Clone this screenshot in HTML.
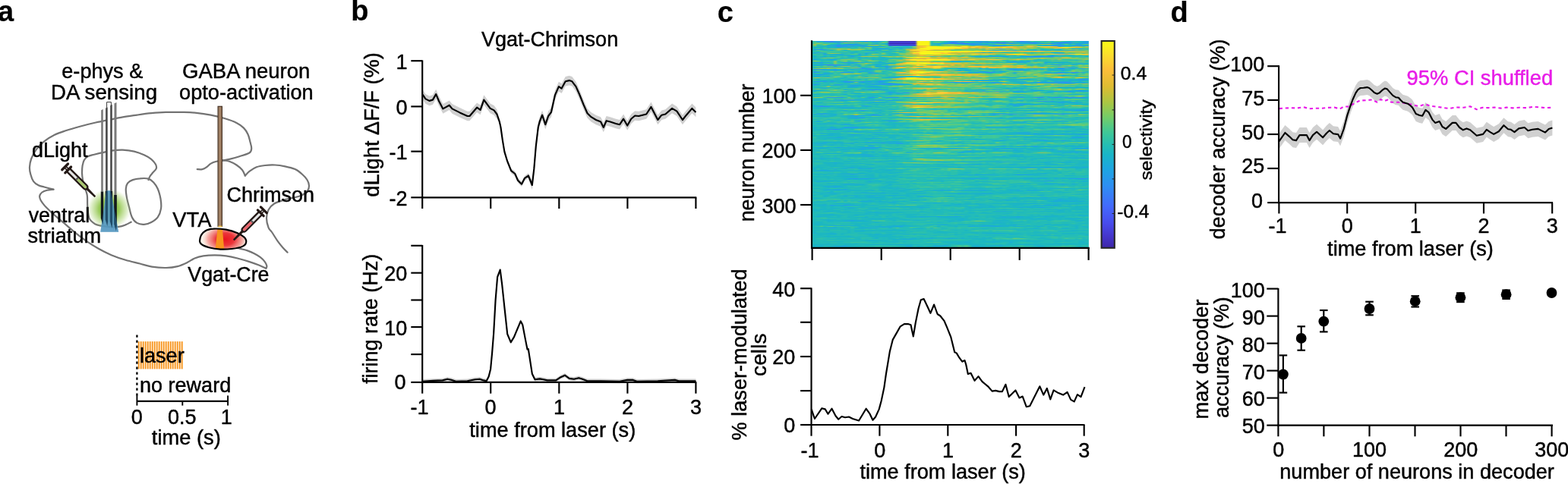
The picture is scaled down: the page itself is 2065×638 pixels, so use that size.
<!DOCTYPE html>
<html lang="en">
<head>
<meta charset="utf-8">
<title>Figure</title>
<style>
html,body{margin:0;padding:0;background:#fff;overflow:hidden}
svg{display:block}
text{font-family:"Liberation Sans", Arial, Helvetica, sans-serif;fill:#000;stroke:#000;stroke-width:.45px;stroke-linejoin:round}
</style>
</head>
<body>
<svg width="2065" height="638" viewBox="0 0 2065 638">
<rect width="2065" height="638" fill="#fff"/>
<g id="panel_a">
<defs>
<radialGradient id="gglow" cx="0.5" cy="0.5" r="0.5"><stop offset="0" stop-color="#7dbb2f" stop-opacity="1"/><stop offset="0.45" stop-color="#85c03a" stop-opacity="0.85"/><stop offset="0.8" stop-color="#9ccc5a" stop-opacity="0.35"/><stop offset="1" stop-color="#b5d97e" stop-opacity="0"/></radialGradient>
<radialGradient id="rglow" cx="0.5" cy="0.5" r="0.5"><stop offset="0" stop-color="#e8151f" stop-opacity="1"/><stop offset="0.4" stop-color="#ea2a30" stop-opacity="0.95"/><stop offset="0.75" stop-color="#ee5a55" stop-opacity="0.5"/><stop offset="1" stop-color="#f4a090" stop-opacity="0"/></radialGradient>
<clipPath id="vtaclip"><path id="vtap" d="M263.0 317.6C263.4 311.5 266.0 307.2 269.6 305.0C273.0 302.6 277.0 301.7 280.9 301.6C286.5 301.3 292.3 301.8 297.8 302.6C303.0 303.5 308.2 305.0 312.8 307.3C317.6 309.6 323.6 312.6 324.2 317.0C324.7 320.2 323.2 322.8 320.3 324.4C316.0 326.8 310.5 327.5 305.3 328.0C300.3 328.6 295.3 328.8 290.3 328.6C285.2 328.3 280.0 327.6 275.2 326.2C271.0 325.0 265.5 323.0 264.0 320.6C263.3 319.6 263.0 318.6 263.0 317.6Z"/></clipPath>
</defs>
<path d="M259.7 223.1C260.8 223.1 264.2 223.6 266.3 223.1C268.4 222.6 270.1 221.6 272.0 220.3C273.9 219.1 275.4 216.8 277.6 215.6C279.8 214.3 282.6 213.4 285.1 212.8C287.6 212.2 289.9 212.3 292.7 211.8C295.5 211.3 298.4 210.8 302.1 209.9C305.9 209.0 310.8 207.6 315.2 206.2C319.6 204.8 325.7 203.2 328.4 201.5C331.1 199.8 331.0 198.3 331.2 195.8C331.4 193.3 330.1 189.5 329.3 186.4C328.5 183.3 327.9 180.0 326.5 177.0C325.1 174.0 323.4 171.1 320.9 168.6C318.4 166.1 315.6 164.1 311.5 162.0C307.4 159.9 302.0 158.0 296.4 156.3C290.8 154.6 283.9 152.8 277.6 151.6C271.3 150.3 265.1 149.4 258.8 148.8C252.5 148.2 246.8 148.1 240.0 147.9C233.2 147.8 224.8 147.7 218.0 147.9C211.2 148.1 205.5 148.6 199.2 149.2C192.9 149.8 186.7 150.7 180.4 151.6C174.1 152.5 167.9 153.3 161.6 154.4C155.3 155.5 149.1 156.9 142.8 158.2C136.5 159.5 130.3 160.6 124.0 162.0C117.7 163.4 111.5 165.0 105.2 166.7C98.9 168.4 92.0 170.4 86.4 172.3C80.8 174.2 76.1 175.7 71.4 178.0C66.7 180.3 62.1 183.3 58.2 186.4C54.3 189.5 50.7 193.0 47.9 196.8C45.1 200.6 42.8 205.1 41.3 209.0C39.8 212.9 39.2 216.9 39.0 220.3C38.8 223.8 39.4 226.6 40.3 229.7C41.1 232.8 42.4 236.7 44.1 239.1C45.8 241.5 48.4 243.1 50.7 244.3C53.1 245.5 55.7 245.8 58.2 246.5C60.7 247.2 63.7 248.1 65.7 248.6C67.7 249.1 69.6 249.5 70.4 249.7" stroke="#737373" stroke-width="2.2" fill="none" stroke-linecap="round" stroke-linejoin="round" />
<path d="M70.4 249.7C69.0 249.9 64.5 250.1 62.0 250.7C59.5 251.3 57.0 252.2 55.4 253.5C53.8 254.8 52.5 256.5 52.2 258.2C51.9 259.9 52.5 261.8 53.5 263.8C54.5 265.8 56.2 268.0 58.2 270.4C60.2 272.8 62.9 275.3 65.7 278.0C68.5 280.7 71.6 283.4 75.1 286.4C78.5 289.4 82.3 292.4 86.4 295.8C90.5 299.2 94.9 303.3 99.6 307.1C104.3 310.9 109.6 314.9 114.6 318.4C119.6 321.8 124.4 324.8 129.7 327.8C135.0 330.8 140.6 333.7 146.6 336.2C152.6 338.7 159.1 340.9 165.4 342.8C171.7 344.7 178.4 346.0 184.2 347.5C190.0 349.0 194.2 350.7 200.0 351.6C205.8 352.5 213.2 353.1 218.8 353.0C224.4 352.9 229.1 352.3 233.8 351.1C238.5 349.9 243.2 347.6 247.0 345.8C250.8 344.0 252.9 341.9 256.4 340.5C259.8 339.1 263.3 338.1 267.7 337.4C272.1 336.7 277.7 336.4 282.7 336.4C287.7 336.4 292.8 336.7 297.8 337.4C302.8 338.1 307.8 339.2 312.8 340.5C317.8 341.8 323.2 343.4 327.9 344.9C332.6 346.4 337.2 348.1 341.0 349.6C344.8 351.1 348.8 353.0 350.4 353.7" stroke="#737373" stroke-width="2.2" fill="none" stroke-linecap="round" stroke-linejoin="round" />
<path d="M350.4 353.7C350.6 353.2 351.7 352.0 351.4 350.5C351.1 349.0 350.0 346.8 348.6 344.9C347.2 343.0 345.1 340.9 342.9 339.2C340.7 337.5 338.2 336.0 335.4 334.5C332.6 333.0 329.1 331.5 326.0 330.4C322.9 329.3 318.8 328.5 316.6 327.9C314.4 327.3 313.4 327.1 312.8 327.0" stroke="#737373" stroke-width="2.2" fill="none" stroke-linecap="round" stroke-linejoin="round" />
<path d="M293.6 211.2C295.0 211.5 299.1 211.8 302.1 212.8C305.1 213.9 308.7 215.6 311.5 217.5C314.3 219.4 317.1 221.7 319.0 224.0C320.9 226.3 322.2 230.3 322.8 231.6" stroke="#737373" stroke-width="2.2" fill="none" stroke-linecap="round" stroke-linejoin="round" />
<path d="M322.8 231.6C323.7 230.7 325.9 227.8 328.4 225.9C330.9 224.0 334.4 221.6 337.8 220.3C341.2 219.0 345.0 218.5 349.1 218.0C353.2 217.5 357.8 217.3 362.2 217.5C366.6 217.7 371.0 218.4 375.4 219.3C379.8 220.2 384.8 221.4 388.6 223.1C392.4 224.8 395.3 227.3 398.0 229.7C400.7 232.0 403.1 234.7 404.6 237.2C406.1 239.7 406.9 242.3 407.0 244.7C407.1 247.1 406.8 249.3 405.0 251.5C403.2 253.7 401.0 256.0 396.2 257.9C391.4 259.8 382.0 261.1 376.1 262.9C370.2 264.7 364.9 266.2 361.1 268.5C357.4 270.8 355.3 273.3 353.6 276.5C351.9 279.7 351.0 283.7 351.0 287.6C351.0 291.5 352.4 297.0 353.6 300.1C354.8 303.2 356.0 303.1 358.0 306.0C360.0 308.9 363.0 314.1 365.5 317.6C368.0 321.1 370.8 324.5 373.0 327.0C375.2 329.5 377.7 331.8 378.6 332.7" stroke="#737373" stroke-width="2.2" fill="none" stroke-linecap="round" stroke-linejoin="round" />
<path d="M195.5 237.2C195.8 236.4 196.4 234.0 197.4 232.5C198.3 230.9 199.7 229.5 201.1 227.8C202.5 226.1 205.2 224.0 205.8 222.1C206.4 220.3 206.0 218.5 204.9 216.5C203.8 214.5 201.7 212.0 199.2 209.9C196.7 207.9 193.6 206.0 189.8 204.3C186.1 202.6 181.4 200.7 176.7 199.6C172.0 198.5 166.6 197.9 161.6 197.7C156.6 197.5 151.0 198.1 146.6 198.6C142.2 199.2 139.1 200.2 135.3 201.1C131.5 201.9 127.3 202.9 124.0 203.7C120.7 204.6 117.8 205.0 115.6 206.2C113.4 207.3 112.0 208.8 110.9 210.9C109.7 212.9 109.1 215.6 108.6 218.4C108.1 221.2 108.0 224.6 108.0 227.8C108.1 230.9 108.5 234.4 109.0 237.2C109.4 240.0 109.9 241.3 110.9 244.7C111.8 248.1 114.1 252.9 114.8 257.6C115.5 262.2 114.8 267.6 115.3 272.6C115.8 277.6 115.9 283.9 117.5 287.6C119.2 291.4 122.4 293.5 125.1 295.2C127.8 296.8 130.5 297.0 133.8 297.7C137.2 298.3 141.4 299.0 145.1 299.2C148.9 299.4 153.1 299.4 156.4 298.9C159.7 298.5 162.5 297.5 165.2 296.4C167.9 295.4 171.4 293.3 172.7 292.7" stroke="#737373" stroke-width="2.2" fill="none" stroke-linecap="round" stroke-linejoin="round" />
<path d="M195.5 235.6C192.5 234.8 187.6 235.0 184.2 235.3C180.7 235.5 177.5 236.1 174.8 237.1C172.1 238.1 169.7 239.3 168.2 241.3C166.7 243.2 166.0 245.7 165.8 248.8C165.5 251.9 166.2 256.0 166.9 260.1C167.6 264.2 168.9 268.9 170.1 273.2C171.2 277.6 172.1 283.0 173.9 286.4C175.6 289.9 177.8 292.4 180.4 293.9C183.1 295.5 186.7 296.0 189.8 295.8C193.0 295.7 196.3 294.6 199.2 293.0C202.2 291.4 205.6 289.4 207.7 286.4C209.8 283.4 211.4 279.2 212.0 275.1C212.7 271.1 212.2 266.4 211.5 262.0C210.7 257.6 209.3 252.4 207.7 248.8C206.1 245.2 204.1 242.5 202.1 240.3C200.0 238.1 198.5 236.5 195.5 235.6Z" stroke="#737373" stroke-width="2.2" fill="none" stroke-linecap="round" stroke-linejoin="round" />
<ellipse cx="143.6" cy="275.4" rx="29" ry="27" fill="url(#gglow)"/>
<path d="M140.6 251.2L140.6 134.6L146.4 134.6L146.4 251.2" fill="#fff" stroke="#222" stroke-width="0.9"/>
<path d="M140.2 251.2L146.0 251.2L156.2 305.8L132.3 305.8Z" fill="#8fc4e2" fill-opacity="0.8"/>
<path d="M133.2 145.3L135.8 144.0L135.8 252.5L133.2 252.5Z" fill="#7a7a7a"/>
<path d="M132.85 252.5L136.15 252.5L136.15 290.4L135.4 296.4L132.85 287.4Z" fill="#14191c"/>
<path d="M139.1 142.4L141.7 141.4L141.7 252.0L139.1 252.0Z" fill="#4a4a4a"/>
<path d="M138.75 252.0L142.05 252.0L142.05 292.3L141.3 298.3L138.75 289.3Z" fill="#14191c"/>
<path d="M145.2 138.9L147.8 137.9L147.8 252.0L145.2 252.0Z" fill="#4a4a4a"/>
<path d="M144.85 252.0L148.15 252.0L148.15 294.8L147.4 300.8L144.85 291.8Z" fill="#14191c"/>
<path d="M150.5 136.3L153.5 135.0L153.5 257.0L150.5 257.0Z" fill="#7a7a7a"/>
<path d="M150.15 257.0L153.85 257.0L153.85 298.6L152.9 304.6L150.15 295.6Z" fill="#14191c"/>
<path d="M140.2 251.2L146.0 251.2L156.2 305.8L132.3 305.8Z" fill="#2b78aa" fill-opacity="0.55"/>
<path d="M263.0 317.6C263.4 311.5 266.0 307.2 269.6 305.0C273.0 302.6 277.0 301.7 280.9 301.6C286.5 301.3 292.3 301.8 297.8 302.6C303.0 303.5 308.2 305.0 312.8 307.3C317.6 309.6 323.6 312.6 324.2 317.0C324.7 320.2 323.2 322.8 320.3 324.4C316.0 326.8 310.5 327.5 305.3 328.0C300.3 328.6 295.3 328.8 290.3 328.6C285.2 328.3 280.0 327.6 275.2 326.2C271.0 325.0 265.5 323.0 264.0 320.6C263.3 319.6 263.0 318.6 263.0 317.6Z" fill="#fbf3ea"/>
<g clip-path="url(#vtaclip)"><ellipse cx="296.5" cy="315.5" rx="30" ry="20" fill="url(#rglow)"/>
<path d="M286.9 297.9L292.6 297.9L295.2 329L283.6 329Z" fill="#f7931e"/></g>
<path d="M263.0 317.6C263.4 311.5 266.0 307.2 269.6 305.0C273.0 302.6 277.0 301.7 280.9 301.6C286.5 301.3 292.3 301.8 297.8 302.6C303.0 303.5 308.2 305.0 312.8 307.3C317.6 309.6 323.6 312.6 324.2 317.0C324.7 320.2 323.2 322.8 320.3 324.4C316.0 326.8 310.5 327.5 305.3 328.0C300.3 328.6 295.3 328.8 290.3 328.6C285.2 328.3 280.0 327.6 275.2 326.2C271.0 325.0 265.5 323.0 264.0 320.6C263.3 319.6 263.0 318.6 263.0 317.6Z" fill="none" stroke="#000" stroke-width="2.2"/>
<rect x="287.1" y="140.3" width="5.3" height="158.2" fill="#a08064" stroke="#453224" stroke-width="1.2"/>
<rect x="287.4" y="297.6" width="5.0" height="1.6" fill="#f2c94c"/>
<g transform="translate(89.7 223.9) rotate(44.8)" stroke-linejoin="round" stroke-linecap="round">
<path d="M33.5 -1.2L49.7 -0.6L49.7 0.7L33.5 1.2Z" fill="#231815" stroke="#231815" stroke-width="1.1"/>
<path d="M-5.4 0L0 0" stroke="#231815" stroke-width="4.2" fill="none" stroke-linecap="butt"/>
<path d="M-5.4 0L0 0" stroke="#dcdcdc" stroke-width="1.2" fill="none" stroke-linecap="butt"/>
<path d="M0 -2.8L31.5 -2.8Q34.9 -2.8 34.9 0Q34.9 2.8 31.5 2.8L0 2.8Z" fill="#e4e4e4" stroke="#231815" stroke-width="2.4"/>
<path d="M17.3 -1.7L31.5 -1.7Q33.7 -1.7 33.7 0Q33.7 1.7 31.5 1.7L17.3 1.7Z" fill="#a6c46c"/>
<rect x="15.5" y="-1.8" width="2.2" height="3.6" fill="#5e5e5e"/>
<path d="M0 -5.5L0 5.5" stroke="#231815" stroke-width="3.3" fill="none"/>
<path d="M-5.7 -5.5L-5.7 5.5" stroke="#231815" stroke-width="3.3" fill="none"/>
</g>
<g transform="translate(343.3 280.8) rotate(134.9)" stroke-linejoin="round" stroke-linecap="round">
<path d="M32.3 -1.2L49.8 -0.6L49.8 0.7L32.3 1.2Z" fill="#231815" stroke="#231815" stroke-width="1.1"/>
<path d="M-5.4 0L0 0" stroke="#231815" stroke-width="4.2" fill="none" stroke-linecap="butt"/>
<path d="M-5.4 0L0 0" stroke="#dcdcdc" stroke-width="1.2" fill="none" stroke-linecap="butt"/>
<path d="M0 -2.8L30.3 -2.8Q33.7 -2.8 33.7 0Q33.7 2.8 30.3 2.8L0 2.8Z" fill="#e4e4e4" stroke="#231815" stroke-width="2.4"/>
<path d="M16.7 -1.7L30.3 -1.7Q32.5 -1.7 32.5 0Q32.5 1.7 30.3 1.7L16.7 1.7Z" fill="#e8646c"/>
<rect x="14.9" y="-1.8" width="2.2" height="3.6" fill="#5e5e5e"/>
<path d="M0 -5.5L0 5.5" stroke="#231815" stroke-width="3.3" fill="none"/>
<path d="M-5.7 -5.5L-5.7 5.5" stroke="#231815" stroke-width="3.3" fill="none"/>
</g>
<text x="81.3" y="103.0" font-size="27" textLength="107.0" lengthAdjust="spacingAndGlyphs">e-phys &amp;</text>
<text x="66.9" y="130.5" font-size="27" textLength="140.2" lengthAdjust="spacingAndGlyphs">DA sensing</text>
<text x="240.1" y="103.0" font-size="27" textLength="168.2" lengthAdjust="spacingAndGlyphs">GABA neuron</text>
<text x="236.1" y="130.5" font-size="27" textLength="176.6" lengthAdjust="spacingAndGlyphs">opto-activation</text>
<text x="42.1" y="206.8" font-size="27" textLength="73.4" lengthAdjust="spacingAndGlyphs">dLight</text>
<text x="37.7" y="292.6" font-size="27" textLength="80.5" lengthAdjust="spacingAndGlyphs">ventral</text>
<text x="36.5" y="319.8" font-size="27" textLength="96.7" lengthAdjust="spacingAndGlyphs">striatum</text>
<text x="227.3" y="299.2" font-size="27" textLength="51.1" lengthAdjust="spacingAndGlyphs">VTA</text>
<text x="298.4" y="266.0" font-size="27" textLength="115.6" lengthAdjust="spacingAndGlyphs">Chrimson</text>
<text x="247.3" y="371.4" font-size="27" textLength="107.2" lengthAdjust="spacingAndGlyphs">Vgat-Cre</text>
<rect x="181.2" y="450.1" width="3.0" height="36.3" fill="#fff1dc"/>
<rect x="181.85" y="450.1" width="1.7" height="36.3" fill="#f7941d"/>
<rect x="184.2" y="450.1" width="3.0" height="36.3" fill="#fff1dc"/>
<rect x="184.85" y="450.1" width="1.7" height="36.3" fill="#f7941d"/>
<rect x="187.2" y="450.1" width="3.0" height="36.3" fill="#fff1dc"/>
<rect x="187.85" y="450.1" width="1.7" height="36.3" fill="#f7941d"/>
<rect x="190.2" y="450.1" width="3.0" height="36.3" fill="#fff1dc"/>
<rect x="190.85" y="450.1" width="1.7" height="36.3" fill="#f7941d"/>
<rect x="193.2" y="450.1" width="3.0" height="36.3" fill="#fff1dc"/>
<rect x="193.85" y="450.1" width="1.7" height="36.3" fill="#f7941d"/>
<rect x="196.2" y="450.1" width="3.0" height="36.3" fill="#fff1dc"/>
<rect x="196.85" y="450.1" width="1.7" height="36.3" fill="#f7941d"/>
<rect x="199.2" y="450.1" width="3.0" height="36.3" fill="#fff1dc"/>
<rect x="199.85" y="450.1" width="1.7" height="36.3" fill="#f7941d"/>
<rect x="202.2" y="450.1" width="3.0" height="36.3" fill="#fff1dc"/>
<rect x="202.85" y="450.1" width="1.7" height="36.3" fill="#f7941d"/>
<rect x="205.2" y="450.1" width="3.0" height="36.3" fill="#fff1dc"/>
<rect x="205.85" y="450.1" width="1.7" height="36.3" fill="#f7941d"/>
<rect x="208.2" y="450.1" width="3.0" height="36.3" fill="#fff1dc"/>
<rect x="208.85" y="450.1" width="1.7" height="36.3" fill="#f7941d"/>
<rect x="211.2" y="450.1" width="3.0" height="36.3" fill="#fff1dc"/>
<rect x="211.85" y="450.1" width="1.7" height="36.3" fill="#f7941d"/>
<rect x="214.2" y="450.1" width="3.0" height="36.3" fill="#fff1dc"/>
<rect x="214.85" y="450.1" width="1.7" height="36.3" fill="#f7941d"/>
<rect x="217.2" y="450.1" width="3.0" height="36.3" fill="#fff1dc"/>
<rect x="217.85" y="450.1" width="1.7" height="36.3" fill="#f7941d"/>
<rect x="220.2" y="450.1" width="3.0" height="36.3" fill="#fff1dc"/>
<rect x="220.85" y="450.1" width="1.7" height="36.3" fill="#f7941d"/>
<rect x="223.2" y="450.1" width="3.0" height="36.3" fill="#fff1dc"/>
<rect x="223.85" y="450.1" width="1.7" height="36.3" fill="#f7941d"/>
<rect x="226.2" y="450.1" width="3.0" height="36.3" fill="#fff1dc"/>
<rect x="226.85" y="450.1" width="1.7" height="36.3" fill="#f7941d"/>
<rect x="229.2" y="450.1" width="3.0" height="36.3" fill="#fff1dc"/>
<rect x="229.85" y="450.1" width="1.7" height="36.3" fill="#f7941d"/>
<rect x="232.2" y="450.1" width="3.0" height="36.3" fill="#fff1dc"/>
<rect x="232.85" y="450.1" width="1.7" height="36.3" fill="#f7941d"/>
<rect x="235.2" y="450.1" width="3.0" height="36.3" fill="#fff1dc"/>
<rect x="235.85" y="450.1" width="1.7" height="36.3" fill="#f7941d"/>
<rect x="238.2" y="450.1" width="3.0" height="36.3" fill="#fff1dc"/>
<rect x="238.85" y="450.1" width="1.7" height="36.3" fill="#f7941d"/>
<path d="M180.4 441.6L180.4 522.0" stroke="#000" stroke-width="2.3" fill="none" stroke-dasharray="3.2 3.8"/>
<path d="M180.4 528.9L300.1 528.9" stroke="#000" stroke-width="2.1" fill="none" />
<path d="M180.4 521.4L180.4 534.6" stroke="#000" stroke-width="1.9" fill="none" />
<path d="M300.1 521.4L300.1 534.6" stroke="#000" stroke-width="1.9" fill="none" />
<path d="M240.3 528.9L240.3 534.6" stroke="#000" stroke-width="1.9" fill="none" />
<text x="184.0" y="478.1" font-size="27" textLength="58.7" lengthAdjust="spacingAndGlyphs">laser</text>
<text x="184.0" y="517.1" font-size="27" textLength="120.2" lengthAdjust="spacingAndGlyphs">no reward</text>
<text x="180.3" y="559.0" font-size="27" text-anchor="middle">0</text>
<text x="239.8" y="559.0" font-size="27" text-anchor="middle">0.5</text>
<text x="298.2" y="559.0" font-size="27" text-anchor="middle">1</text>
<text x="199.8" y="585.5" font-size="27" textLength="91.0" lengthAdjust="spacingAndGlyphs">time (s)</text>
<text x="-2.9" y="27.9" font-size="38" font-weight="bold" style="stroke-width:.2px">a</text>
</g>
<g id="panel_b">
<path d="M556.6 118.3L560.4 124.1L565.4 126.6L569.9 125.3L574.2 117.8L577.9 126.6L583.4 137.1L591.7 132.4L595.5 137.1L605.5 142.1L615.5 146.7L618.5 146.7L628.1 135.4L632.6 138.6L637.3 125.3L645.6 136.6L650.6 139.1L654.4 144.2L657.7 156.8L659.4 164.3L661.9 181.9L664.4 196.9L668.2 209.5L673.2 222.0L678.2 225.8L682.0 234.5L687.0 239.5L690.8 232.0L695.8 228.3L700.8 237.7L703.3 216.4L705.8 186.3L708.8 161.2L710.8 153.7L714.1 145.4L718.3 157.9L722.1 146.7L725.9 141.6L730.9 119.1L735.9 107.8L739.6 110.3L744.7 101.0L749.7 99.8L753.4 101.0L758.5 107.8L763.5 119.1L768.5 131.6L773.5 142.9L778.5 147.9L784.8 151.7L791.1 154.2L794.8 161.7L798.6 152.9L803.6 154.2L811.1 156.7L816.1 157.9L821.1 150.4L826.2 159.2L831.2 150.4L836.2 146.2L841.2 146.7L851.2 144.2L857.5 134.6L866.3 151.7L871.3 145.4L876.3 144.2L885.1 136.6L891.4 140.4L898.9 151.7L903.9 145.4L911.4 136.6L916.4 141.6L916.4 154.2L911.4 149.2L903.9 158.0L898.9 164.3L891.4 153.0L885.1 149.2L876.3 156.8L871.3 158.0L866.3 164.3L857.5 147.2L851.2 156.8L841.2 159.3L836.2 158.8L831.2 163.0L826.2 171.8L821.1 163.0L816.1 170.5L811.1 169.3L803.6 166.8L798.6 165.5L794.8 174.3L791.1 166.8L784.8 164.3L778.5 160.5L773.5 155.5L768.5 144.2L763.5 131.7L758.5 120.4L753.4 113.6L749.7 112.4L744.7 113.6L739.6 122.9L735.9 120.4L730.9 131.7L725.9 154.2L722.1 159.3L718.3 170.5L714.1 158.0L710.8 166.3L708.8 173.8L705.8 198.9L703.3 229.0L700.8 250.3L695.8 234.7L690.8 238.4L687.0 245.9L682.0 240.9L678.2 232.2L673.2 228.4L668.2 215.9L664.4 203.3L661.9 188.3L659.4 170.7L657.7 163.2L654.4 156.8L650.6 151.7L645.6 149.2L637.3 137.9L632.6 151.2L628.1 148.0L618.5 159.3L615.5 159.3L605.5 154.7L595.5 149.7L591.7 145.0L583.4 149.7L577.9 139.2L574.2 130.4L569.9 137.9L565.4 139.2L560.4 136.7L556.6 130.9Z" stroke="none" stroke-width="0" fill="#d0d0d0" stroke-linejoin="round" />
<path d="M556.6 124.6L560.4 130.4L565.4 132.9L569.9 131.6L574.2 124.1L577.9 132.9L583.4 143.4L591.7 138.7L595.5 143.4L605.5 148.4L615.5 153.0L618.5 153.0L628.1 141.7L632.6 144.9L637.3 131.6L645.6 142.9L650.6 145.4L654.4 150.5L657.7 160.0L659.4 167.5L661.9 185.1L664.4 200.1L668.2 212.7L673.2 225.2L678.2 229.0L682.0 237.7L687.0 242.7L690.8 235.2L695.8 231.5L700.8 244.0L703.3 222.7L705.8 192.6L708.8 167.5L710.8 160.0L714.1 151.7L718.3 164.2L722.1 153.0L725.9 147.9L730.9 125.4L735.9 114.1L739.6 116.6L744.7 107.3L749.7 106.1L753.4 107.3L758.5 114.1L763.5 125.4L768.5 137.9L773.5 149.2L778.5 154.2L784.8 158.0L791.1 160.5L794.8 168.0L798.6 159.2L803.6 160.5L811.1 163.0L816.1 164.2L821.1 156.7L826.2 165.5L831.2 156.7L836.2 152.5L841.2 153.0L851.2 150.5L857.5 140.9L866.3 158.0L871.3 151.7L876.3 150.5L885.1 142.9L891.4 146.7L898.9 158.0L903.9 151.7L911.4 142.9L916.4 147.9" stroke="#000" stroke-width="2.15" fill="none" stroke-linejoin="round" />
<path d="M556.2 79.4L556.2 261.1" stroke="#000" stroke-width="2.15" fill="none" />
<path d="M555.4 260.4L917.3 260.4" stroke="#000" stroke-width="2.15" fill="none" />
<path d="M541.3 80.2L556.2 80.2" stroke="#000" stroke-width="2.15" fill="none" />
<path d="M541.3 140.4L556.2 140.4" stroke="#000" stroke-width="2.15" fill="none" />
<path d="M541.3 199.6L556.2 199.6" stroke="#000" stroke-width="2.15" fill="none" />
<path d="M541.3 260.3L556.2 260.3" stroke="#000" stroke-width="2.15" fill="none" />
<path d="M556.2 260.4L556.2 275.0" stroke="#000" stroke-width="2.15" fill="none" />
<path d="M646.2 260.4L646.2 275.0" stroke="#000" stroke-width="2.15" fill="none" />
<path d="M736.3 260.4L736.3 275.0" stroke="#000" stroke-width="2.15" fill="none" />
<path d="M826.4 260.4L826.4 275.0" stroke="#000" stroke-width="2.15" fill="none" />
<path d="M916.4 260.4L916.4 275.0" stroke="#000" stroke-width="2.15" fill="none" />
<text x="536.5" y="90.5" font-size="27" text-anchor="end">1</text>
<text x="536.5" y="150.7" font-size="27" text-anchor="end">0</text>
<text x="536.5" y="209.9" font-size="27" text-anchor="end">-1</text>
<text x="536.5" y="270.6" font-size="27" text-anchor="end">-2</text>
<text x="498.7" y="259.7" font-size="27" textLength="190.6" lengthAdjust="spacingAndGlyphs" transform="rotate(-90 498.7 259.7)">dLight ΔF/F (%)</text>
<text x="633.9" y="60.7" font-size="27" textLength="180.3" lengthAdjust="spacingAndGlyphs">Vgat-Chrimson</text>
<path d="M556.6 500.1L570.4 499.3L582.9 498.8L589.2 497.1L594.2 498.1L600.5 500.1L615.5 499.6L625.6 497.6L631.8 497.1L636.8 498.8L640.6 499.6L643.6 493.8L646.1 483.8L648.1 462.5L650.1 437.4L652.6 392.7L655.1 362.6L658.7 353.1L661.2 372.6L664.4 402.7L668.2 437.8L672.7 448.6L677.0 441.6L685.7 420.8L688.2 425.3L692.0 445.3L694.5 457.9L695.8 457.5L700.8 490.1L704.5 497.6L710.8 496.8L715.8 497.6L720.8 498.8L732.1 498.8L738.4 494.6L743.9 492.1L749.7 496.3L755.9 497.1L762.2 495.6L767.2 497.1L773.5 499.6L791.1 499.6L816.1 500.1L826.2 498.3L833.7 498.3L838.7 500.1L866.3 499.6L888.8 498.3L893.9 499.6L916.4 499.6L916.4 504.8L893.9 504.8L888.8 503.5L866.3 504.8L838.7 505.3L833.7 503.5L826.2 503.5L816.1 505.3L791.1 504.8L773.5 504.8L767.2 502.3L762.2 500.8L755.9 502.3L749.7 501.5L743.9 497.3L738.4 499.8L732.1 504.0L720.8 504.0L715.8 502.8L710.8 502.0L704.5 502.8L700.8 495.3L695.8 462.7L694.5 463.1L692.0 450.5L688.2 430.5L685.7 426.0L677.0 446.8L672.7 453.8L668.2 443.0L664.4 407.9L661.2 377.8L658.7 358.3L655.1 367.8L652.6 397.9L650.1 442.6L648.1 467.7L646.1 489.0L643.6 499.0L640.6 504.8L636.8 504.0L631.8 502.3L625.6 502.8L615.5 504.8L600.5 505.3L594.2 503.3L589.2 502.3L582.9 504.0L570.4 504.5L556.6 505.3Z" stroke="none" stroke-width="0" fill="#d0d0d0" stroke-linejoin="round" />
<path d="M556.6 502.7L570.4 501.9L582.9 501.4L589.2 499.7L594.2 500.7L600.5 502.7L615.5 502.2L625.6 500.2L631.8 499.7L636.8 501.4L640.6 502.2L643.6 496.4L646.1 486.4L648.1 465.1L650.1 440.0L652.6 395.3L655.1 365.2L658.7 355.7L661.2 375.2L664.4 405.3L668.2 440.4L672.7 451.2L677.0 444.2L685.7 423.4L688.2 427.9L692.0 447.9L694.5 460.5L695.8 460.1L700.8 492.7L704.5 500.2L710.8 499.4L715.8 500.2L720.8 501.4L732.1 501.4L738.4 497.2L743.9 494.7L749.7 498.9L755.9 499.7L762.2 498.2L767.2 499.7L773.5 502.2L791.1 502.2L816.1 502.7L826.2 500.9L833.7 500.9L838.7 502.7L866.3 502.2L888.8 500.9L893.9 502.2L916.4 502.2" stroke="#000" stroke-width="2.15" fill="none" stroke-linejoin="round" />
<path d="M556.2 323.0L556.2 504.7" stroke="#000" stroke-width="2.15" fill="none" />
<path d="M555.4 503.9L917.2 503.9" stroke="#000" stroke-width="2.15" fill="none" />
<path d="M541.3 323.8L556.2 323.8" stroke="#000" stroke-width="2.15" fill="none" />
<path d="M541.3 359.7L556.2 359.7" stroke="#000" stroke-width="2.15" fill="none" />
<path d="M541.3 395.5L556.2 395.5" stroke="#000" stroke-width="2.15" fill="none" />
<path d="M541.3 431.1L556.2 431.1" stroke="#000" stroke-width="2.15" fill="none" />
<path d="M541.3 467.1L556.2 467.1" stroke="#000" stroke-width="2.15" fill="none" />
<path d="M541.3 503.9L556.2 503.9" stroke="#000" stroke-width="2.15" fill="none" />
<path d="M556.2 503.9L556.2 518.7" stroke="#000" stroke-width="2.15" fill="none" />
<path d="M646.2 503.9L646.2 518.7" stroke="#000" stroke-width="2.15" fill="none" />
<path d="M736.3 503.9L736.3 518.7" stroke="#000" stroke-width="2.15" fill="none" />
<path d="M826.4 503.9L826.4 518.7" stroke="#000" stroke-width="2.15" fill="none" />
<path d="M916.4 503.9L916.4 518.7" stroke="#000" stroke-width="2.15" fill="none" />
<text x="536.2" y="370.1" font-size="27" text-anchor="end">20</text>
<text x="536.2" y="441.5" font-size="27" text-anchor="end">10</text>
<text x="534.6" y="513.4" font-size="27" text-anchor="end">0</text>
<text x="552.5" y="546.4" font-size="27" text-anchor="middle">-1</text>
<text x="646.0" y="546.4" font-size="27" text-anchor="middle">0</text>
<text x="736.4" y="546.4" font-size="27" text-anchor="middle">1</text>
<text x="826.4" y="546.4" font-size="27" text-anchor="middle">2</text>
<text x="916.4" y="546.4" font-size="27" text-anchor="middle">3</text>
<text x="497.4" y="506.1" font-size="27" textLength="171.5" lengthAdjust="spacingAndGlyphs" transform="rotate(-90 497.4 506.1)">firing rate (Hz)</text>
<text x="618.3" y="575.6" font-size="27" textLength="218.9" lengthAdjust="spacingAndGlyphs">time from laser (s)</text>
<text x="462.3" y="27.4" font-size="38" font-weight="bold" style="stroke-width:.2px">b</text>
</g>
<g id="panel_c">
<defs><filter id="hblur" x="0" y="0" width="1" height="1" filterUnits="objectBoundingBox" color-interpolation-filters="sRGB"><feGaussianBlur stdDeviation="0.85 0.3"/></filter><clipPath id="hclip"><rect x="1069.5" y="54.0" width="364.4" height="272.6"/></clipPath></defs>
<g clip-path="url(#hclip)"><g filter="url(#hblur)"><rect x="1066.5" y="50.0" width="371.4" height="280" fill="#21babb"/>
<g transform="translate(1070.5 54.0) scale(4.54250 1)" shape-rendering="crispEdges" fill="none" stroke-width="1">
<rect x="0" y="0" width="80" height="272" fill="#23bcb8"/>
<path stroke="#3f2ab0" d="M22 0.5h8M22 3.5h8M22 5.5h8"/>
<path stroke="#4231bf" d="M22 2.5h8"/>
<path stroke="#4849e8" d="M22 1.5h8"/>
<path stroke="#4752f0" d="M22 4.5h8"/>
<path stroke="#4464fa" d="M40 2.5h1"/>
<path stroke="#406efb" d="M41 2.5h1M54 2.5h2"/>
<path stroke="#3b77f9" d="M43 2.5h1M53 2.5h1M44 3.5h1"/>
<path stroke="#3681f6" d="M5 0.5h1M60 0.5h1M7 1.5h1M50 1.5h1M62 1.5h1M42 2.5h1M73 2.5h1M41 3.5h1M69 3.5h1M71 3.5h1M68 20.5h2M4 31.5h3M58 37.5h1"/>
<path stroke="#318af4" d="M3 0.5h1M5 1.5h1M48 1.5h2M61 1.5h1M56 2.5h2M63 2.5h2M72 2.5h1M74 2.5h1M43 3.5h1M45 3.5h2M23 6.5h1M25 6.5h1M28 6.5h2M76 6.5h2M7 7.5h1M64 20.5h2M6 38.5h1M50 41.5h2M75 41.5h1M71 42.5h1M77 50.5h2M70 55.5h1M74 55.5h1M20 56.5h1M22 56.5h1M17 64.5h1M27 68.5h1M65 74.5h2M70 74.5h1M73 74.5h1M75 74.5h1M78 74.5h1M2 86.5h1M17 97.5h1M6 116.5h1"/>
<path stroke="#2c92f0" d="M4 0.5h1M15 0.5h1M41 0.5h1M6 1.5h1M8 1.5h2M40 1.5h1M52 2.5h1M38 3.5h2M42 3.5h1M47 3.5h1M63 3.5h1M10 4.5h1M45 4.5h1M7 5.5h1M9 5.5h5M48 5.5h2M51 5.5h1M7 6.5h1M22 6.5h1M70 6.5h3M8 7.5h1M50 20.5h1M66 20.5h2M58 27.5h1M9 28.5h1M7 31.5h1M71 31.5h1M21 33.5h1M74 35.5h1M14 36.5h1M16 36.5h1M0 40.5h1M8 41.5h1M10 41.5h1M76 41.5h1M79 50.5h1M9 53.5h2M14 53.5h1M19 53.5h1M41 54.5h1M44 54.5h1M65 54.5h1M73 54.5h1M71 55.5h3M75 55.5h1M23 57.5h1M18 64.5h1M4 74.5h1M8 74.5h1M17 74.5h1M60 74.5h1M64 74.5h1M71 74.5h1M74 74.5h1M76 74.5h2M3 86.5h1M71 96.5h2M18 97.5h1M5 116.5h1M77 181.5h2"/>
<path stroke="#2699eb" d="M17 0.5h2M42 0.5h1M58 0.5h2M4 1.5h1M39 2.5h1M58 2.5h1M65 2.5h1M75 2.5h1M79 2.5h1M40 3.5h1M60 3.5h1M70 3.5h1M76 4.5h1M8 5.5h1M14 5.5h1M46 5.5h1M52 5.5h1M70 5.5h1M6 6.5h1M24 6.5h1M26 6.5h2M53 6.5h1M9 7.5h2M14 7.5h2M54 10.5h1M0 11.5h4M17 12.5h1M3 17.5h1M52 20.5h2M62 20.5h2M11 28.5h2M2 31.5h2M70 31.5h1M22 33.5h1M21 35.5h2M71 35.5h1M73 35.5h1M75 35.5h1M15 36.5h1M64 36.5h1M78 36.5h1M0 37.5h2M16 37.5h1M57 37.5h1M60 38.5h1M0 41.5h1M9 41.5h1M16 41.5h2M47 41.5h1M52 41.5h1M17 43.5h1M1 44.5h1M23 48.5h1M0 53.5h4M5 53.5h1M11 53.5h1M16 53.5h1M19 54.5h1M40 54.5h1M42 54.5h1M45 54.5h2M52 54.5h1M53 55.5h1M68 55.5h2M78 55.5h1M21 56.5h1M0 57.5h1M22 57.5h1M24 57.5h1M11 59.5h1M20 64.5h1M77 65.5h1M22 68.5h1M24 68.5h1M5 74.5h3M21 74.5h4M11 77.5h1M65 79.5h3M69 79.5h1M60 83.5h1M14 91.5h1M78 91.5h1M2 96.5h1M52 96.5h3M56 96.5h3M12 98.5h1M13 105.5h1M22 105.5h3M4 116.5h1M7 116.5h1M20 134.5h1M17 140.5h1M12 181.5h1M9 216.5h1"/>
<path stroke="#22a0e6" d="M40 0.5h1M47 0.5h1M61 0.5h1M78 0.5h2M1 1.5h1M10 1.5h2M47 1.5h1M60 1.5h1M71 1.5h1M71 2.5h1M78 2.5h1M12 3.5h1M36 3.5h1M66 3.5h1M68 3.5h1M79 3.5h1M17 4.5h1M43 4.5h1M46 4.5h1M47 5.5h1M50 5.5h1M69 5.5h1M72 5.5h1M5 6.5h1M54 6.5h2M79 6.5h1M11 7.5h1M16 7.5h2M27 9.5h1M19 10.5h2M1 15.5h1M71 15.5h1M13 17.5h1M71 18.5h1M70 20.5h1M63 21.5h1M0 24.5h1M60 27.5h1M62 27.5h1M1 28.5h2M10 28.5h1M13 28.5h1M67 29.5h1M77 29.5h1M63 31.5h1M12 32.5h1M72 35.5h1M76 35.5h1M12 36.5h2M57 36.5h1M59 36.5h1M72 36.5h1M20 37.5h2M72 37.5h1M23 38.5h1M72 38.5h1M45 41.5h1M48 41.5h2M58 41.5h1M74 41.5h1M70 42.5h1M18 43.5h1M12 53.5h1M20 53.5h1M70 53.5h3M9 54.5h2M72 54.5h1M52 55.5h1M54 55.5h1M60 55.5h2M67 55.5h1M16 56.5h2M19 56.5h1M23 56.5h2M7 57.5h1M20 57.5h2M25 57.5h1M0 58.5h1M12 59.5h1M3 62.5h1M50 63.5h1M15 64.5h1M19 64.5h1M76 65.5h1M59 66.5h1M70 66.5h1M74 66.5h1M77 66.5h1M79 66.5h1M74 67.5h1M25 68.5h2M16 74.5h1M57 74.5h1M69 74.5h1M72 74.5h1M79 74.5h1M7 77.5h2M10 77.5h1M16 78.5h1M22 78.5h1M68 79.5h1M72 81.5h1M59 83.5h1M61 83.5h1M0 85.5h1M2 85.5h1M15 85.5h1M58 85.5h1M1 86.5h1M4 86.5h1M72 89.5h1M78 90.5h1M13 91.5h1M1 96.5h1M3 96.5h1M55 96.5h1M64 96.5h2M70 96.5h1M73 96.5h1M27 97.5h1M11 98.5h1M12 101.5h1M14 101.5h1M11 113.5h2M9 114.5h1M11 114.5h2M11 123.5h1M78 123.5h1M77 127.5h1M67 130.5h1M72 131.5h1M22 134.5h1M24 134.5h1M25 135.5h1M64 138.5h1M15 140.5h1M35 141.5h1M53 141.5h1M76 141.5h1M79 141.5h1M16 168.5h1M11 175.5h1M59 176.5h1M11 181.5h1M14 181.5h2M48 181.5h1M75 181.5h2M79 181.5h1M67 184.5h2M6 192.5h1M37 196.5h1M5 216.5h1M10 216.5h1"/>
<path stroke="#1da7df" d="M6 0.5h1M14 0.5h1M43 0.5h3M48 0.5h1M75 0.5h1M3 1.5h1M12 1.5h1M17 1.5h3M39 1.5h1M51 1.5h1M72 1.5h2M79 1.5h1M35 3.5h1M48 3.5h1M55 3.5h1M57 3.5h1M62 3.5h1M64 3.5h1M77 3.5h2M11 4.5h1M21 4.5h1M44 4.5h1M77 4.5h1M68 5.5h1M71 5.5h1M75 6.5h1M19 7.5h1M1 8.5h1M26 9.5h1M28 9.5h1M21 10.5h1M76 10.5h2M55 12.5h1M64 12.5h1M2 15.5h1M16 15.5h1M69 15.5h1M8 17.5h1M15 17.5h1M11 19.5h1M47 20.5h1M51 20.5h1M54 20.5h2M61 20.5h1M71 20.5h1M56 21.5h2M59 21.5h1M61 21.5h2M64 21.5h2M5 24.5h1M41 27.5h2M2 29.5h1M21 29.5h1M9 31.5h1M19 31.5h1M69 31.5h1M13 32.5h1M20 33.5h1M23 33.5h1M25 33.5h1M43 36.5h1M71 36.5h1M4 37.5h1M6 37.5h1M22 37.5h1M51 37.5h1M56 37.5h1M59 37.5h2M71 37.5h1M2 38.5h2M61 38.5h1M14 39.5h1M42 39.5h1M13 40.5h1M1 41.5h1M11 41.5h1M54 41.5h1M71 41.5h2M78 41.5h1M3 42.5h1M68 42.5h1M72 42.5h1M2 44.5h1M4 47.5h1M25 47.5h2M57 48.5h1M68 50.5h1M19 52.5h2M47 52.5h1M49 52.5h3M13 53.5h1M74 53.5h1M14 54.5h1M17 54.5h2M39 54.5h1M51 54.5h1M66 54.5h1M68 54.5h1M71 54.5h1M56 55.5h1M62 55.5h2M65 55.5h1M76 55.5h1M79 55.5h1M1 56.5h1M18 56.5h1M6 57.5h1M10 57.5h1M18 57.5h2M26 57.5h1M17 60.5h1M48 63.5h1M53 63.5h1M16 64.5h1M0 65.5h1M64 65.5h1M53 66.5h1M58 66.5h1M69 66.5h1M73 66.5h1M78 66.5h1M9 67.5h1M61 67.5h1M21 68.5h1M23 68.5h1M29 68.5h1M27 74.5h1M68 74.5h1M9 77.5h1M12 77.5h1M19 77.5h1M15 78.5h1M18 78.5h2M24 78.5h2M71 81.5h1M74 81.5h1M76 81.5h1M26 83.5h1M57 83.5h2M60 84.5h1M14 85.5h1M11 87.5h1M54 89.5h2M76 90.5h2M15 91.5h1M63 91.5h1M73 91.5h1M76 91.5h2M64 95.5h1M4 96.5h1M61 96.5h1M63 96.5h1M69 96.5h1M74 96.5h1M16 97.5h1M19 97.5h1M13 98.5h1M14 100.5h1M13 101.5h1M60 101.5h3M57 102.5h1M21 105.5h1M72 105.5h1M9 113.5h2M5 114.5h1M10 114.5h1M15 114.5h1M51 114.5h1M72 114.5h1M18 120.5h2M61 120.5h1M2 121.5h1M56 122.5h1M60 122.5h3M65 123.5h1M67 123.5h3M71 123.5h2M77 123.5h1M79 123.5h1M7 127.5h1M75 127.5h2M65 130.5h2M11 134.5h1M15 134.5h2M19 134.5h1M25 134.5h1M1 135.5h1M1 137.5h1M54 138.5h2M61 138.5h1M7 140.5h1M16 140.5h1M18 140.5h1M14 141.5h1M16 141.5h2M36 141.5h1M56 142.5h1M13 143.5h1M53 143.5h1M66 143.5h1M69 143.5h1M45 145.5h1M71 145.5h1M43 146.5h1M76 146.5h1M6 154.5h1M78 154.5h1M44 163.5h1M11 167.5h1M62 167.5h1M67 167.5h1M6 168.5h1M2 170.5h2M10 175.5h1M12 175.5h1M45 176.5h1M47 176.5h1M60 176.5h3M10 181.5h1M16 181.5h2M46 181.5h2M74 181.5h1M72 188.5h1M5 192.5h1M7 192.5h1M6 196.5h1M39 196.5h1M44 196.5h2M48 196.5h2M18 203.5h1M71 209.5h1M6 210.5h1M11 216.5h2M68 216.5h1M70 216.5h1M66 219.5h1M36 231.5h1M41 231.5h1M59 232.5h1M11 236.5h1M6 243.5h1M50 243.5h1M25 244.5h1M49 244.5h1M52 244.5h2M5 246.5h2M16 246.5h1M8 270.5h2M27 270.5h1"/>
<path stroke="#1cacd6" d="M1 0.5h1M16 0.5h1M39 0.5h1M67 0.5h1M74 0.5h1M13 1.5h1M15 1.5h1M41 1.5h1M64 1.5h1M70 1.5h1M38 2.5h1M51 2.5h1M61 2.5h2M70 2.5h1M7 3.5h1M21 3.5h1M61 3.5h1M72 3.5h1M6 4.5h2M18 4.5h1M47 4.5h1M71 4.5h1M53 5.5h1M58 5.5h1M78 5.5h1M4 6.5h1M8 6.5h2M52 6.5h1M69 6.5h1M74 6.5h1M18 7.5h1M20 7.5h1M23 8.5h3M5 9.5h2M21 9.5h1M2 10.5h1M18 10.5h1M22 10.5h1M75 10.5h1M16 12.5h1M53 12.5h2M58 12.5h1M66 12.5h1M75 12.5h1M0 15.5h1M11 15.5h1M15 15.5h1M18 15.5h1M6 17.5h2M13 18.5h1M69 18.5h1M72 18.5h1M9 19.5h2M5 20.5h1M11 20.5h1M46 20.5h1M48 20.5h1M76 20.5h1M2 21.5h1M11 21.5h1M13 21.5h1M58 21.5h1M60 21.5h1M6 23.5h1M6 24.5h1M64 25.5h1M19 27.5h1M40 27.5h1M57 27.5h1M59 27.5h1M61 27.5h1M0 28.5h1M4 28.5h1M14 28.5h1M19 28.5h1M60 28.5h1M11 30.5h1M0 31.5h2M8 31.5h1M35 31.5h1M47 31.5h1M66 31.5h1M75 31.5h1M0 32.5h1M5 32.5h1M7 32.5h2M10 32.5h1M18 33.5h1M5 34.5h2M17 36.5h1M19 36.5h1M42 36.5h1M62 36.5h2M65 36.5h2M2 37.5h2M5 37.5h1M7 37.5h1M10 37.5h1M15 37.5h1M17 37.5h1M19 37.5h1M43 37.5h1M62 37.5h1M24 38.5h1M44 38.5h2M58 38.5h1M69 38.5h2M15 39.5h2M1 40.5h1M14 40.5h1M48 40.5h2M52 40.5h1M46 41.5h1M73 41.5h1M77 41.5h1M45 42.5h1M67 42.5h1M69 42.5h1M3 43.5h2M0 44.5h1M1 45.5h2M12 45.5h1M72 45.5h1M1 47.5h1M22 47.5h1M30 47.5h1M22 48.5h1M58 48.5h1M67 48.5h1M61 50.5h1M71 50.5h1M58 51.5h1M60 51.5h1M69 51.5h2M77 51.5h2M21 52.5h2M48 52.5h1M74 52.5h1M77 52.5h2M4 53.5h1M6 53.5h1M8 53.5h1M58 53.5h3M67 53.5h1M73 53.5h1M77 53.5h1M15 54.5h1M20 54.5h1M38 54.5h1M43 54.5h1M49 54.5h1M64 54.5h1M69 54.5h1M10 55.5h1M59 55.5h1M64 55.5h1M66 55.5h1M25 56.5h1M1 57.5h1M8 57.5h1M11 57.5h2M17 57.5h1M27 57.5h1M5 58.5h1M7 58.5h1M12 58.5h2M13 59.5h1M16 59.5h2M15 60.5h2M18 60.5h2M61 60.5h1M16 63.5h1M47 63.5h1M52 63.5h1M54 63.5h1M56 63.5h2M9 64.5h1M21 64.5h1M65 64.5h1M46 65.5h2M49 65.5h1M62 65.5h2M75 65.5h1M78 65.5h2M44 66.5h1M46 66.5h1M49 66.5h2M55 66.5h1M60 66.5h1M68 66.5h1M22 67.5h1M59 67.5h1M11 68.5h1M20 68.5h1M76 70.5h1M13 73.5h1M28 74.5h1M58 74.5h2M61 74.5h1M2 76.5h1M14 76.5h1M52 76.5h1M65 76.5h1M67 76.5h1M6 77.5h1M13 77.5h1M17 77.5h2M8 78.5h1M14 78.5h1M17 78.5h1M20 78.5h2M23 78.5h1M72 79.5h2M17 80.5h2M71 80.5h1M15 81.5h1M20 81.5h1M22 81.5h1M75 81.5h1M77 81.5h1M76 82.5h1M63 83.5h1M58 84.5h1M4 85.5h1M16 85.5h1M59 85.5h1M5 86.5h1M8 87.5h3M9 88.5h1M49 89.5h1M53 89.5h1M56 89.5h1M69 89.5h3M35 90.5h1M44 90.5h1M9 91.5h1M12 91.5h1M19 91.5h1M74 91.5h2M79 91.5h1M66 94.5h1M3 95.5h1M24 95.5h1M26 95.5h1M65 95.5h2M0 96.5h1M51 96.5h1M59 96.5h1M62 96.5h1M66 96.5h2M6 97.5h1M52 97.5h1M10 98.5h1M14 98.5h1M16 98.5h1M44 98.5h1M46 98.5h1M3 99.5h1M11 100.5h3M11 101.5h1M59 101.5h1M63 101.5h1M38 102.5h1M54 102.5h1M1 105.5h1M12 105.5h1M71 105.5h1M61 107.5h1M4 109.5h4M9 109.5h1M9 110.5h3M5 113.5h1M13 113.5h2M0 114.5h1M14 114.5h1M16 114.5h1M52 114.5h2M55 114.5h2M60 114.5h1M71 114.5h1M73 114.5h1M8 116.5h1M78 116.5h2M68 118.5h2M75 118.5h1M10 119.5h3M12 120.5h2M16 120.5h2M20 120.5h1M26 120.5h2M48 120.5h1M59 120.5h2M62 120.5h1M59 121.5h1M62 121.5h1M64 121.5h1M52 122.5h2M58 122.5h2M64 122.5h1M73 122.5h2M77 122.5h3M12 123.5h2M64 123.5h1M66 123.5h1M70 123.5h1M74 123.5h1M76 123.5h1M56 126.5h1M58 126.5h1M61 126.5h1M75 126.5h4M4 127.5h3M29 127.5h1M78 127.5h1M16 128.5h3M47 130.5h1M56 130.5h1M64 130.5h1M54 131.5h1M67 131.5h1M73 131.5h1M22 132.5h3M3 133.5h1M17 133.5h2M3 134.5h1M8 134.5h1M10 134.5h1M17 134.5h2M21 134.5h1M23 134.5h1M40 134.5h2M59 134.5h1M2 135.5h1M24 135.5h1M46 135.5h1M2 137.5h1M16 137.5h2M42 138.5h2M60 138.5h1M63 138.5h1M65 138.5h3M70 138.5h1M72 138.5h1M64 139.5h1M77 139.5h1M2 140.5h1M4 140.5h1M8 140.5h1M10 140.5h1M14 140.5h1M19 140.5h1M49 140.5h1M11 141.5h1M18 141.5h1M41 141.5h1M55 141.5h4M77 141.5h2M14 142.5h1M35 142.5h2M55 142.5h1M57 142.5h1M68 142.5h1M77 142.5h3M9 143.5h1M54 144.5h2M58 144.5h1M9 145.5h1M56 145.5h1M44 146.5h2M74 146.5h2M77 146.5h1M27 147.5h2M30 147.5h1M72 147.5h1M76 147.5h1M14 149.5h2M11 150.5h1M14 150.5h2M16 151.5h1M59 151.5h1M16 152.5h1M55 152.5h1M2 154.5h1M76 154.5h2M18 159.5h1M36 159.5h1M45 159.5h2M53 159.5h4M74 159.5h1M6 160.5h1M45 163.5h1M38 165.5h1M60 166.5h1M63 166.5h1M76 166.5h1M78 166.5h2M9 167.5h2M13 167.5h1M61 167.5h1M63 167.5h2M68 167.5h1M71 167.5h1M0 168.5h1M13 168.5h3M4 170.5h1M1 171.5h2M4 171.5h2M8 175.5h2M13 175.5h1M66 175.5h1M49 176.5h4M13 181.5h1M43 181.5h1M45 181.5h1M49 181.5h2M61 181.5h1M63 181.5h1M65 181.5h1M67 181.5h1M70 181.5h1M72 181.5h1M78 182.5h1M34 184.5h1M65 184.5h2M69 184.5h1M1 185.5h2M16 185.5h1M9 188.5h5M68 188.5h2M71 188.5h1M75 188.5h1M4 192.5h1M24 194.5h2M7 195.5h1M9 195.5h1M4 196.5h1M7 196.5h1M9 196.5h1M35 196.5h2M38 196.5h1M46 196.5h2M50 196.5h1M59 196.5h1M64 196.5h3M59 197.5h1M62 197.5h1M4 200.5h2M14 200.5h3M20 200.5h1M51 200.5h1M42 201.5h1M44 201.5h1M48 201.5h3M17 203.5h1M9 204.5h1M12 204.5h1M16 205.5h1M31 205.5h1M66 206.5h2M55 209.5h2M72 209.5h1M70 210.5h2M73 210.5h1M13 211.5h4M69 211.5h2M74 211.5h2M77 211.5h1M35 213.5h1M3 216.5h1M6 216.5h1M8 216.5h1M67 216.5h1M69 216.5h1M10 219.5h2M31 219.5h1M60 219.5h1M65 219.5h1M53 224.5h3M1 231.5h1M31 231.5h1M33 231.5h1M39 231.5h2M42 231.5h1M59 231.5h1M67 231.5h1M31 232.5h1M55 232.5h1M57 232.5h2M10 236.5h1M12 236.5h2M9 237.5h3M54 237.5h1M54 239.5h1M36 242.5h3M58 242.5h1M8 243.5h1M24 243.5h1M26 243.5h1M49 243.5h1M51 243.5h1M54 243.5h1M18 244.5h1M22 244.5h1M24 244.5h1M45 244.5h2M48 244.5h1M51 244.5h1M59 244.5h1M65 244.5h1M20 245.5h2M4 246.5h1M14 246.5h2M17 246.5h2M72 250.5h1M0 253.5h1M52 253.5h3M33 260.5h2M38 260.5h2M26 261.5h3M57 265.5h1M38 269.5h1M54 269.5h1M65 269.5h1M6 270.5h2M10 270.5h1M28 270.5h1M35 270.5h2M47 270.5h1"/>
<path stroke="#1ab2cd" d="M2 0.5h1M66 0.5h1M69 0.5h1M76 0.5h2M53 1.5h1M59 1.5h1M74 1.5h1M78 1.5h1M48 2.5h1M50 2.5h1M60 2.5h1M66 2.5h1M77 2.5h1M34 3.5h1M37 3.5h1M49 3.5h1M54 3.5h1M58 3.5h1M65 3.5h1M74 3.5h1M76 3.5h1M9 4.5h1M12 4.5h1M36 4.5h1M50 4.5h1M4 5.5h1M34 5.5h1M54 5.5h2M60 5.5h1M75 5.5h1M77 5.5h1M13 6.5h1M66 6.5h2M73 6.5h1M78 6.5h1M3 7.5h2M6 7.5h1M12 7.5h2M26 7.5h2M0 8.5h1M7 8.5h1M18 9.5h2M25 9.5h1M17 10.5h1M25 10.5h1M78 10.5h2M4 11.5h1M18 11.5h1M22 11.5h1M9 12.5h1M19 12.5h1M56 12.5h1M67 12.5h1M72 12.5h1M74 12.5h1M12 13.5h1M21 13.5h3M25 13.5h1M9 15.5h1M51 15.5h1M63 15.5h1M70 15.5h1M0 16.5h1M15 16.5h1M72 16.5h1M1 17.5h1M5 17.5h1M7 18.5h2M22 18.5h1M70 18.5h1M74 18.5h1M5 19.5h1M58 19.5h1M0 20.5h1M49 20.5h1M56 20.5h1M60 20.5h1M0 21.5h1M3 21.5h1M20 21.5h1M48 21.5h1M13 22.5h4M20 22.5h1M0 23.5h2M4 23.5h1M9 23.5h1M19 23.5h1M13 24.5h1M17 24.5h1M21 24.5h1M76 25.5h1M56 26.5h1M58 26.5h1M60 26.5h1M62 26.5h1M56 27.5h1M70 27.5h1M3 28.5h1M8 28.5h1M17 28.5h1M20 28.5h1M57 28.5h1M59 28.5h1M61 28.5h1M67 28.5h2M71 28.5h3M22 29.5h1M72 29.5h1M76 29.5h1M78 29.5h2M10 30.5h1M18 30.5h1M18 31.5h1M48 31.5h1M64 31.5h1M76 31.5h1M1 32.5h2M4 32.5h1M9 32.5h1M11 32.5h1M16 32.5h1M18 32.5h1M6 33.5h1M19 33.5h1M71 33.5h1M75 33.5h1M4 34.5h1M8 34.5h1M11 34.5h1M13 34.5h1M21 34.5h1M14 35.5h1M18 36.5h1M44 36.5h1M48 36.5h2M60 36.5h1M69 36.5h1M11 37.5h1M18 37.5h1M23 37.5h3M50 37.5h1M52 37.5h1M61 37.5h1M66 37.5h1M68 37.5h2M73 37.5h1M0 38.5h1M5 38.5h1M12 38.5h1M22 38.5h1M47 38.5h1M59 38.5h1M9 39.5h1M44 39.5h1M54 39.5h1M72 39.5h1M2 40.5h1M10 40.5h1M54 40.5h1M13 41.5h1M53 41.5h1M68 41.5h1M70 41.5h1M79 41.5h1M4 42.5h2M73 42.5h1M75 42.5h1M0 43.5h1M3 44.5h1M0 46.5h1M0 47.5h1M3 47.5h1M14 47.5h1M20 47.5h2M23 47.5h2M27 47.5h1M56 48.5h1M6 49.5h1M1 50.5h1M10 50.5h2M60 50.5h1M62 50.5h1M69 50.5h1M72 50.5h1M74 50.5h1M76 50.5h1M51 51.5h2M54 51.5h4M59 51.5h1M61 51.5h1M68 51.5h1M71 51.5h2M74 51.5h3M79 51.5h1M3 52.5h1M5 52.5h1M8 52.5h2M17 52.5h2M23 52.5h1M53 52.5h1M75 52.5h2M15 53.5h1M18 53.5h1M57 53.5h1M61 53.5h1M66 53.5h1M1 54.5h1M16 54.5h1M32 54.5h1M50 54.5h1M53 54.5h2M67 54.5h1M74 54.5h1M76 54.5h3M4 55.5h1M13 55.5h2M19 55.5h1M21 55.5h2M43 55.5h1M51 55.5h1M55 55.5h1M57 55.5h1M77 55.5h1M15 56.5h1M13 57.5h1M4 58.5h1M6 58.5h1M11 58.5h1M10 59.5h1M14 59.5h1M18 59.5h1M10 60.5h2M2 61.5h1M10 61.5h2M18 61.5h2M21 61.5h1M76 61.5h3M2 62.5h1M58 62.5h1M60 62.5h1M14 63.5h1M18 63.5h2M51 63.5h1M58 63.5h1M60 63.5h3M13 64.5h2M59 65.5h2M65 65.5h2M74 65.5h1M11 66.5h1M45 66.5h1M47 66.5h1M51 66.5h1M54 66.5h1M56 66.5h1M64 66.5h1M71 66.5h2M75 66.5h2M58 67.5h1M60 67.5h1M75 67.5h1M22 69.5h1M0 70.5h2M9 70.5h1M22 70.5h1M12 72.5h2M0 73.5h1M16 73.5h1M19 73.5h1M68 73.5h1M18 74.5h1M20 74.5h1M29 74.5h7M40 74.5h1M16 75.5h1M74 75.5h1M77 75.5h3M3 76.5h1M15 76.5h2M51 76.5h1M53 76.5h1M66 76.5h1M1 77.5h1M52 77.5h1M71 77.5h1M0 78.5h1M9 78.5h1M11 78.5h1M13 78.5h1M59 78.5h1M3 79.5h1M6 79.5h1M8 79.5h1M60 79.5h1M63 79.5h1M79 79.5h1M70 80.5h1M72 80.5h1M74 80.5h1M14 81.5h1M16 81.5h2M19 81.5h1M21 81.5h1M23 81.5h1M73 81.5h1M6 82.5h1M50 82.5h1M57 82.5h1M18 83.5h1M25 83.5h1M27 83.5h2M31 83.5h1M62 83.5h1M64 83.5h1M59 84.5h1M61 84.5h1M63 84.5h2M70 84.5h3M1 85.5h1M3 85.5h1M5 85.5h1M9 85.5h1M25 85.5h1M0 86.5h1M6 86.5h1M15 86.5h1M4 87.5h1M7 87.5h1M12 87.5h1M0 88.5h1M8 88.5h1M10 88.5h1M63 88.5h1M44 89.5h2M47 89.5h1M59 89.5h1M66 89.5h2M73 89.5h2M78 89.5h1M22 90.5h2M49 90.5h2M56 90.5h1M71 90.5h1M73 90.5h1M79 90.5h1M17 91.5h1M59 91.5h1M76 92.5h2M67 94.5h1M2 95.5h1M25 95.5h1M27 95.5h1M52 95.5h1M67 95.5h3M72 95.5h1M75 95.5h2M79 95.5h1M5 96.5h3M17 96.5h1M22 96.5h3M60 96.5h1M68 96.5h1M20 97.5h1M28 97.5h1M30 97.5h1M2 98.5h4M8 98.5h2M15 98.5h1M17 98.5h3M43 98.5h1M50 98.5h1M60 98.5h1M1 99.5h2M4 99.5h2M11 99.5h2M10 100.5h1M58 100.5h1M69 100.5h1M10 101.5h1M58 101.5h1M12 102.5h1M33 102.5h1M42 102.5h1M53 102.5h1M56 102.5h1M58 102.5h1M60 102.5h1M64 102.5h1M69 102.5h1M72 102.5h2M2 105.5h1M14 105.5h1M20 105.5h1M73 105.5h1M79 105.5h1M0 106.5h2M58 106.5h1M61 106.5h1M67 106.5h1M69 106.5h1M4 107.5h1M59 107.5h2M21 108.5h1M23 108.5h4M67 108.5h1M72 108.5h1M1 109.5h3M8 109.5h1M10 109.5h1M21 110.5h2M15 113.5h1M55 113.5h3M60 113.5h1M73 113.5h2M2 114.5h1M6 114.5h1M8 114.5h1M13 114.5h1M18 114.5h2M27 114.5h1M50 114.5h1M54 114.5h1M74 114.5h2M6 115.5h3M11 115.5h1M3 116.5h1M77 116.5h1M1 117.5h1M6 117.5h1M19 117.5h1M10 118.5h1M35 118.5h1M66 118.5h1M70 118.5h1M72 118.5h3M76 118.5h1M8 119.5h1M13 119.5h2M21 120.5h1M25 120.5h1M30 120.5h1M35 120.5h1M58 120.5h1M69 120.5h1M3 121.5h1M5 121.5h1M60 121.5h2M65 121.5h3M5 122.5h2M17 122.5h2M49 122.5h3M54 122.5h2M57 122.5h1M66 122.5h4M72 122.5h1M75 122.5h2M5 123.5h1M10 123.5h1M18 123.5h1M23 123.5h1M48 123.5h1M62 123.5h2M73 123.5h1M75 123.5h1M2 124.5h4M10 125.5h2M17 125.5h4M7 126.5h1M57 126.5h1M63 126.5h2M67 126.5h1M69 126.5h2M8 127.5h1M17 127.5h1M22 127.5h1M26 127.5h2M30 127.5h2M62 127.5h1M66 127.5h3M6 128.5h1M8 128.5h2M15 128.5h1M19 128.5h1M68 128.5h1M74 128.5h2M23 129.5h1M46 130.5h1M51 130.5h5M61 130.5h3M55 131.5h1M65 131.5h2M71 131.5h1M21 132.5h1M25 132.5h1M35 132.5h2M61 132.5h1M68 132.5h1M4 133.5h3M16 133.5h1M23 133.5h2M27 133.5h1M2 134.5h1M6 134.5h2M9 134.5h1M12 134.5h1M14 134.5h1M0 135.5h1M3 135.5h1M6 135.5h1M23 135.5h1M26 135.5h1M51 135.5h1M75 135.5h1M0 137.5h1M3 137.5h4M53 138.5h1M68 138.5h2M71 138.5h1M73 138.5h1M75 138.5h1M77 138.5h1M59 139.5h1M63 139.5h1M68 139.5h1M73 139.5h1M75 139.5h2M79 139.5h1M0 140.5h2M3 140.5h1M6 140.5h1M9 140.5h1M52 140.5h1M79 140.5h1M1 141.5h1M7 141.5h1M12 141.5h2M15 141.5h1M24 141.5h1M32 141.5h3M38 141.5h3M50 141.5h3M54 141.5h1M59 141.5h2M75 141.5h1M2 142.5h1M8 142.5h1M10 142.5h1M13 142.5h1M15 142.5h2M32 142.5h3M39 142.5h3M52 142.5h2M58 142.5h1M60 142.5h2M63 142.5h1M69 142.5h1M75 142.5h2M5 143.5h4M12 143.5h1M14 143.5h1M23 143.5h1M52 143.5h1M64 143.5h2M67 143.5h1M45 144.5h2M50 144.5h1M52 144.5h2M56 144.5h2M59 144.5h2M63 144.5h1M65 144.5h1M69 144.5h1M71 144.5h1M2 145.5h1M10 145.5h1M15 145.5h1M17 145.5h1M44 145.5h1M46 145.5h2M50 145.5h1M55 145.5h1M58 145.5h3M69 145.5h2M75 145.5h1M19 146.5h1M59 146.5h1M62 146.5h2M73 146.5h1M79 146.5h1M15 147.5h1M17 147.5h1M20 147.5h2M42 147.5h2M73 147.5h2M78 147.5h2M4 148.5h3M11 149.5h3M16 149.5h1M10 150.5h1M12 150.5h2M16 150.5h1M68 150.5h1M70 150.5h2M8 151.5h3M14 151.5h2M17 151.5h1M20 151.5h1M24 151.5h1M35 151.5h1M37 151.5h2M58 151.5h1M78 151.5h2M2 152.5h1M14 152.5h2M17 152.5h2M21 152.5h1M23 152.5h1M53 152.5h2M57 152.5h2M60 152.5h1M74 153.5h1M3 154.5h1M5 154.5h1M7 154.5h1M23 154.5h1M32 154.5h2M43 154.5h1M47 154.5h2M56 154.5h1M66 154.5h1M75 154.5h1M79 154.5h1M2 155.5h1M17 155.5h1M66 155.5h1M11 156.5h1M11 158.5h1M22 158.5h2M17 159.5h1M19 159.5h2M31 159.5h4M37 159.5h3M43 159.5h2M47 159.5h6M57 159.5h5M67 159.5h7M75 159.5h4M5 160.5h1M7 160.5h1M67 160.5h1M4 161.5h1M6 161.5h1M10 161.5h1M13 161.5h2M77 161.5h2M6 162.5h1M8 162.5h1M25 162.5h1M30 162.5h1M47 162.5h1M57 162.5h2M65 162.5h1M68 162.5h3M41 163.5h1M43 163.5h1M46 163.5h3M76 163.5h2M9 165.5h1M28 165.5h5M36 165.5h2M39 165.5h2M75 165.5h2M78 165.5h2M11 166.5h1M13 166.5h1M57 166.5h3M61 166.5h2M64 166.5h1M66 166.5h8M75 166.5h1M77 166.5h1M12 167.5h1M30 167.5h1M43 167.5h1M59 167.5h1M65 167.5h2M72 167.5h1M74 167.5h2M77 167.5h2M5 168.5h1M17 168.5h1M35 168.5h1M76 168.5h1M22 169.5h2M6 170.5h2M14 170.5h1M21 170.5h2M65 170.5h1M0 171.5h1M3 171.5h1M8 171.5h1M15 171.5h3M24 173.5h1M22 174.5h1M67 174.5h1M4 175.5h4M14 175.5h1M59 175.5h1M63 175.5h1M65 175.5h1M67 175.5h1M17 176.5h1M34 176.5h1M43 176.5h2M46 176.5h1M48 176.5h1M58 176.5h1M63 176.5h2M8 177.5h2M13 177.5h3M9 178.5h4M35 180.5h6M43 180.5h1M60 180.5h4M65 180.5h3M70 180.5h1M72 180.5h1M9 181.5h1M18 181.5h1M44 181.5h1M52 181.5h2M55 181.5h1M57 181.5h1M62 181.5h1M64 181.5h1M66 181.5h1M73 181.5h1M10 182.5h1M12 182.5h2M15 182.5h1M62 182.5h1M76 182.5h2M79 182.5h1M3 184.5h1M5 184.5h1M19 184.5h1M28 184.5h2M35 184.5h1M37 184.5h1M63 184.5h2M78 184.5h2M3 185.5h2M17 185.5h1M19 185.5h1M21 185.5h2M50 185.5h1M78 185.5h1M16 186.5h1M43 187.5h1M67 187.5h1M0 188.5h1M14 188.5h2M67 188.5h1M70 188.5h1M73 188.5h1M76 188.5h1M9 189.5h2M22 189.5h1M24 189.5h2M72 189.5h1M5 190.5h3M12 190.5h1M60 190.5h1M3 191.5h2M6 191.5h2M74 191.5h1M3 192.5h1M8 192.5h1M19 192.5h2M24 192.5h1M22 194.5h2M26 194.5h1M46 194.5h3M69 194.5h1M71 194.5h1M73 194.5h1M78 194.5h2M4 195.5h3M8 195.5h1M3 196.5h1M8 196.5h1M11 196.5h1M19 196.5h2M23 196.5h5M33 196.5h1M57 196.5h1M62 196.5h2M17 197.5h1M39 197.5h1M41 197.5h3M49 197.5h1M57 197.5h2M60 197.5h1M63 197.5h2M5 198.5h1M10 198.5h1M25 198.5h1M30 198.5h2M0 200.5h4M6 200.5h3M12 200.5h2M17 200.5h3M21 200.5h4M32 200.5h1M42 200.5h2M49 200.5h1M54 200.5h2M57 200.5h1M61 200.5h1M63 200.5h1M6 201.5h1M29 201.5h1M40 201.5h2M43 201.5h1M46 201.5h2M51 201.5h1M77 201.5h1M10 203.5h2M15 203.5h2M19 203.5h1M21 203.5h7M65 203.5h2M3 204.5h1M23 204.5h1M31 204.5h2M39 204.5h1M15 205.5h1M17 205.5h4M30 205.5h1M33 205.5h2M12 206.5h2M16 206.5h4M58 206.5h1M63 206.5h3M68 206.5h1M70 206.5h1M74 206.5h1M0 207.5h1M11 207.5h1M23 207.5h3M58 207.5h1M60 207.5h1M67 207.5h1M71 207.5h2M74 207.5h1M76 207.5h1M71 208.5h1M74 208.5h2M77 208.5h3M29 209.5h2M32 209.5h1M51 209.5h4M57 209.5h1M59 209.5h1M67 209.5h1M70 209.5h1M73 209.5h1M76 209.5h1M4 210.5h2M7 210.5h1M16 210.5h1M28 210.5h2M56 210.5h1M72 210.5h1M74 210.5h3M78 210.5h1M6 211.5h1M17 211.5h1M19 211.5h1M23 211.5h1M61 211.5h1M68 211.5h1M71 211.5h3M76 211.5h1M78 211.5h1M15 212.5h1M19 212.5h6M70 212.5h4M22 213.5h2M29 213.5h1M31 213.5h4M36 213.5h2M58 213.5h4M7 214.5h3M62 214.5h3M69 214.5h4M75 214.5h2M10 215.5h1M41 215.5h2M44 215.5h1M48 215.5h1M74 215.5h1M2 216.5h1M7 216.5h1M13 216.5h1M15 216.5h1M17 216.5h1M38 216.5h5M48 216.5h3M58 216.5h2M64 216.5h3M71 216.5h1M5 217.5h4M64 217.5h1M67 217.5h1M70 217.5h1M73 217.5h1M79 217.5h1M24 218.5h1M26 218.5h2M45 218.5h1M47 218.5h3M51 218.5h1M62 218.5h2M9 219.5h1M13 219.5h1M30 219.5h1M32 219.5h2M51 219.5h2M59 219.5h1M61 219.5h4M67 219.5h2M76 219.5h1M6 220.5h1M31 220.5h1M45 220.5h2M48 220.5h1M2 221.5h1M10 221.5h1M16 221.5h3M20 221.5h1M70 222.5h4M77 222.5h1M79 222.5h1M0 223.5h1M71 223.5h1M3 224.5h3M56 224.5h2M66 224.5h1M16 225.5h1M18 225.5h1M20 225.5h1M22 225.5h3M71 225.5h2M15 226.5h1M17 226.5h3M5 228.5h1M15 228.5h1M41 228.5h3M3 229.5h3M12 229.5h1M69 229.5h1M77 230.5h3M2 231.5h1M29 231.5h1M32 231.5h1M34 231.5h2M37 231.5h2M55 231.5h1M58 231.5h1M60 231.5h1M64 231.5h1M66 231.5h1M68 231.5h3M72 231.5h1M15 232.5h1M27 232.5h3M32 232.5h1M36 232.5h1M38 232.5h4M54 232.5h1M56 232.5h1M60 232.5h1M62 232.5h1M43 233.5h1M76 233.5h2M17 234.5h1M19 234.5h1M22 234.5h1M41 234.5h3M59 234.5h1M63 234.5h5M73 234.5h3M4 235.5h1M42 235.5h2M4 236.5h2M9 236.5h1M14 236.5h1M29 236.5h2M43 236.5h1M77 236.5h1M4 237.5h1M7 237.5h2M12 237.5h3M39 237.5h4M52 237.5h2M55 237.5h2M76 237.5h2M15 238.5h4M52 239.5h2M55 239.5h1M52 240.5h1M1 241.5h1M34 242.5h1M55 242.5h1M57 242.5h1M67 242.5h2M73 242.5h1M75 242.5h1M5 243.5h1M7 243.5h1M9 243.5h5M23 243.5h1M25 243.5h1M27 243.5h1M46 243.5h2M52 243.5h2M56 243.5h2M62 243.5h1M17 244.5h1M19 244.5h3M23 244.5h1M28 244.5h1M41 244.5h1M47 244.5h1M50 244.5h1M54 244.5h3M58 244.5h1M60 244.5h2M76 244.5h1M78 244.5h1M19 245.5h1M22 245.5h2M25 245.5h1M2 246.5h1M8 246.5h1M13 246.5h1M22 246.5h1M73 246.5h1M76 246.5h1M29 247.5h2M64 247.5h2M14 249.5h1M22 249.5h1M25 249.5h1M59 249.5h1M78 249.5h1M12 250.5h3M17 250.5h1M20 250.5h1M26 250.5h1M71 250.5h1M73 250.5h3M4 253.5h3M47 253.5h1M49 253.5h3M55 253.5h1M68 253.5h1M5 254.5h2M15 254.5h2M18 254.5h2M22 254.5h6M29 254.5h1M57 254.5h1M18 255.5h1M65 255.5h2M70 256.5h1M4 257.5h1M10 257.5h1M17 257.5h1M20 257.5h2M6 258.5h1M18 259.5h1M29 259.5h1M40 259.5h1M43 259.5h1M49 259.5h1M18 260.5h1M26 260.5h1M28 260.5h2M31 260.5h2M40 260.5h2M43 260.5h1M46 260.5h2M23 261.5h3M68 261.5h1M16 263.5h2M62 263.5h1M41 264.5h1M44 264.5h1M50 264.5h4M57 264.5h1M23 265.5h2M44 265.5h2M52 265.5h1M78 265.5h1M39 266.5h2M42 266.5h1M4 268.5h1M17 268.5h2M25 268.5h1M59 268.5h2M0 269.5h1M2 269.5h1M9 269.5h1M27 269.5h2M35 269.5h3M39 269.5h1M46 269.5h2M51 269.5h3M62 269.5h1M64 269.5h1M66 269.5h1M70 269.5h2M0 270.5h3M5 270.5h1M30 270.5h1M37 270.5h2M48 270.5h1M54 270.5h1M7 271.5h2M46 271.5h2M49 271.5h1M65 271.5h2"/>
<path stroke="#1cb7c2" d="M0 0.5h1M19 0.5h2M46 0.5h1M49 0.5h2M62 0.5h1M2 1.5h1M14 1.5h1M38 1.5h1M46 1.5h1M52 1.5h1M63 1.5h1M44 2.5h1M46 2.5h1M59 2.5h1M76 2.5h1M18 3.5h1M20 3.5h1M50 3.5h1M59 3.5h1M67 3.5h1M73 3.5h1M5 4.5h1M42 4.5h1M48 4.5h1M74 4.5h1M6 5.5h1M57 5.5h1M65 5.5h1M67 5.5h1M79 5.5h1M11 6.5h1M14 6.5h2M2 7.5h1M5 7.5h1M22 7.5h1M2 8.5h1M4 8.5h1M8 8.5h1M4 9.5h1M10 9.5h1M12 9.5h1M17 9.5h1M20 9.5h1M24 9.5h1M55 10.5h1M5 11.5h1M67 11.5h1M71 11.5h1M5 12.5h1M15 12.5h1M18 12.5h1M52 12.5h1M61 12.5h1M68 12.5h1M70 12.5h2M10 13.5h1M20 13.5h1M24 13.5h1M3 15.5h1M8 15.5h1M12 15.5h1M14 15.5h1M22 15.5h1M49 15.5h1M55 15.5h2M3 16.5h1M11 16.5h1M23 16.5h1M71 16.5h1M4 17.5h1M23 17.5h1M6 18.5h1M10 18.5h1M0 19.5h1M3 19.5h1M8 19.5h1M12 19.5h3M57 19.5h1M69 19.5h1M77 19.5h1M3 20.5h1M6 20.5h1M72 20.5h1M74 20.5h1M10 21.5h1M17 21.5h1M19 21.5h1M49 21.5h1M55 21.5h1M66 21.5h1M68 21.5h1M78 21.5h1M18 22.5h1M23 22.5h3M7 23.5h1M17 23.5h1M20 23.5h3M1 24.5h1M18 24.5h2M2 25.5h1M4 25.5h2M20 25.5h1M65 25.5h1M70 25.5h1M40 26.5h1M42 26.5h1M50 26.5h1M52 26.5h1M15 27.5h1M43 27.5h2M67 27.5h3M71 27.5h1M15 28.5h2M56 28.5h1M70 28.5h1M74 28.5h1M1 29.5h1M5 29.5h1M10 29.5h1M20 29.5h1M23 29.5h1M69 29.5h1M74 29.5h1M2 30.5h1M12 30.5h1M19 30.5h3M79 30.5h1M10 31.5h1M34 31.5h1M62 31.5h1M65 31.5h1M68 31.5h1M73 31.5h1M6 32.5h1M19 32.5h1M2 34.5h2M7 34.5h1M9 34.5h1M12 34.5h1M14 34.5h1M18 34.5h3M0 35.5h2M70 35.5h1M39 36.5h1M50 36.5h1M58 36.5h1M68 36.5h1M75 36.5h1M8 37.5h2M44 37.5h1M64 37.5h1M70 37.5h1M7 38.5h1M9 38.5h1M15 38.5h1M36 38.5h1M42 38.5h1M68 38.5h1M73 38.5h2M8 39.5h1M13 39.5h1M17 39.5h1M20 39.5h1M41 39.5h1M43 39.5h1M45 39.5h1M79 39.5h1M15 40.5h1M53 40.5h1M55 40.5h1M4 41.5h1M67 41.5h1M16 42.5h1M50 42.5h2M1 43.5h2M15 43.5h2M19 43.5h2M56 43.5h1M58 43.5h1M0 45.5h1M4 45.5h1M14 45.5h1M73 45.5h1M1 46.5h1M76 46.5h1M2 47.5h1M5 47.5h1M11 47.5h1M15 47.5h1M28 47.5h1M32 47.5h1M8 48.5h2M21 48.5h1M24 48.5h1M52 48.5h1M8 49.5h1M15 49.5h1M70 49.5h2M7 50.5h1M13 50.5h1M54 50.5h1M57 50.5h2M70 50.5h1M75 50.5h1M1 51.5h5M47 51.5h1M49 51.5h2M53 51.5h1M62 51.5h4M67 51.5h1M73 51.5h1M2 52.5h1M6 52.5h2M15 52.5h1M46 52.5h1M52 52.5h1M67 52.5h1M69 52.5h2M79 52.5h1M7 53.5h1M21 53.5h1M3 54.5h1M8 54.5h1M11 54.5h1M13 54.5h1M37 54.5h1M47 54.5h2M59 54.5h1M63 54.5h1M70 54.5h1M75 54.5h1M5 55.5h1M7 55.5h1M9 55.5h1M11 55.5h2M15 55.5h1M20 55.5h1M41 55.5h1M50 55.5h1M58 55.5h1M0 56.5h1M2 56.5h1M15 57.5h1M28 57.5h1M14 58.5h3M65 59.5h1M0 60.5h1M12 60.5h1M71 60.5h1M74 60.5h1M76 60.5h1M79 60.5h1M1 61.5h1M3 61.5h2M12 61.5h1M16 61.5h2M20 61.5h1M22 61.5h2M71 61.5h5M79 61.5h1M4 62.5h1M23 62.5h1M56 62.5h1M17 63.5h1M21 63.5h1M45 63.5h1M49 63.5h1M55 63.5h1M63 63.5h1M1 64.5h2M10 64.5h1M63 64.5h2M1 65.5h1M22 65.5h2M25 65.5h3M57 65.5h1M0 66.5h1M9 66.5h2M14 66.5h1M21 66.5h3M48 66.5h1M52 66.5h1M57 66.5h1M62 66.5h2M23 67.5h1M68 67.5h1M12 68.5h2M28 68.5h1M67 68.5h2M5 69.5h1M9 69.5h1M12 69.5h2M24 69.5h2M3 70.5h2M8 70.5h1M15 70.5h3M60 70.5h1M75 70.5h1M77 70.5h1M10 71.5h1M14 71.5h1M16 71.5h3M11 72.5h1M14 72.5h1M17 72.5h2M11 73.5h1M17 73.5h1M20 73.5h1M66 73.5h1M26 74.5h1M36 74.5h1M62 74.5h2M15 75.5h1M17 75.5h1M52 75.5h1M73 75.5h1M76 75.5h1M1 76.5h1M29 76.5h1M49 76.5h2M0 77.5h1M3 77.5h1M15 77.5h1M23 77.5h2M51 77.5h1M53 77.5h5M65 77.5h1M1 78.5h1M10 78.5h1M12 78.5h1M60 78.5h1M63 78.5h1M76 78.5h1M4 79.5h2M7 79.5h1M9 79.5h1M14 79.5h1M21 79.5h1M57 79.5h1M62 79.5h1M64 79.5h1M70 79.5h1M76 79.5h1M19 80.5h2M69 80.5h1M73 80.5h1M75 80.5h1M1 81.5h3M9 81.5h2M13 81.5h1M18 81.5h1M68 81.5h1M78 81.5h2M7 82.5h2M16 82.5h1M47 82.5h1M49 82.5h1M55 82.5h1M59 82.5h4M66 82.5h1M72 82.5h1M74 82.5h2M77 82.5h1M17 83.5h1M22 83.5h1M24 83.5h1M29 83.5h1M32 83.5h1M50 83.5h2M67 83.5h2M78 83.5h2M0 84.5h1M57 84.5h1M65 84.5h1M78 84.5h2M7 85.5h2M11 85.5h1M60 85.5h1M7 86.5h1M14 86.5h1M16 86.5h1M21 86.5h1M70 86.5h1M1 87.5h1M3 87.5h1M15 87.5h1M1 88.5h1M6 88.5h2M11 88.5h1M13 88.5h2M62 88.5h1M64 88.5h1M79 88.5h1M1 89.5h1M11 89.5h3M42 89.5h2M46 89.5h1M48 89.5h1M50 89.5h1M52 89.5h1M57 89.5h2M60 89.5h1M62 89.5h1M65 89.5h1M68 89.5h1M75 89.5h1M77 89.5h1M18 90.5h2M36 90.5h2M39 90.5h1M42 90.5h1M45 90.5h1M47 90.5h2M52 90.5h3M69 90.5h2M72 90.5h1M74 90.5h2M0 91.5h1M8 91.5h1M18 91.5h1M58 91.5h1M60 91.5h3M66 91.5h1M70 91.5h1M5 92.5h2M9 92.5h1M11 92.5h2M14 92.5h1M39 92.5h1M41 92.5h1M55 92.5h1M57 92.5h1M61 92.5h1M78 92.5h1M0 93.5h1M5 93.5h1M18 93.5h3M22 93.5h2M19 94.5h1M60 94.5h1M79 94.5h1M1 95.5h1M4 95.5h2M14 95.5h1M18 95.5h3M23 95.5h1M51 95.5h1M53 95.5h1M55 95.5h1M62 95.5h2M70 95.5h1M73 95.5h1M78 95.5h1M8 96.5h1M28 96.5h1M50 96.5h1M75 96.5h1M0 97.5h1M5 97.5h1M15 97.5h1M29 97.5h1M40 97.5h1M44 97.5h1M57 97.5h1M1 98.5h1M6 98.5h2M22 98.5h1M30 98.5h1M42 98.5h1M45 98.5h1M47 98.5h1M49 98.5h1M51 98.5h2M54 98.5h2M57 98.5h3M61 98.5h2M0 99.5h1M10 99.5h1M9 100.5h1M15 100.5h2M24 100.5h2M54 100.5h1M59 100.5h1M62 100.5h2M65 100.5h1M68 100.5h1M70 100.5h2M76 100.5h1M79 100.5h1M22 101.5h2M32 101.5h1M36 101.5h2M40 101.5h3M54 101.5h1M64 101.5h4M76 101.5h2M10 102.5h2M32 102.5h1M34 102.5h1M37 102.5h1M39 102.5h2M43 102.5h2M52 102.5h1M55 102.5h1M59 102.5h1M71 102.5h1M74 102.5h1M78 102.5h1M4 103.5h2M16 103.5h1M75 103.5h2M20 104.5h4M6 105.5h2M16 105.5h1M27 105.5h1M36 105.5h1M39 105.5h1M54 105.5h2M66 105.5h1M70 105.5h1M34 106.5h2M63 106.5h1M68 106.5h1M70 106.5h1M5 107.5h2M22 107.5h1M58 107.5h1M76 107.5h1M0 108.5h2M3 108.5h1M5 108.5h2M20 108.5h1M22 108.5h1M27 108.5h2M46 108.5h3M60 108.5h1M62 108.5h3M66 108.5h1M68 108.5h2M73 108.5h1M14 109.5h2M23 109.5h1M51 109.5h1M53 109.5h1M55 109.5h3M8 110.5h1M23 110.5h4M0 111.5h1M11 111.5h1M23 111.5h1M25 111.5h1M23 112.5h1M70 112.5h1M73 112.5h2M0 113.5h1M2 113.5h2M6 113.5h1M16 113.5h1M18 113.5h2M22 113.5h2M26 113.5h2M50 113.5h1M54 113.5h1M59 113.5h1M69 113.5h1M72 113.5h1M75 113.5h1M1 114.5h1M3 114.5h2M17 114.5h1M21 114.5h4M46 114.5h3M57 114.5h1M59 114.5h1M65 114.5h2M68 114.5h1M0 115.5h1M2 115.5h1M4 115.5h2M9 115.5h2M12 115.5h3M16 115.5h1M0 116.5h3M11 116.5h1M76 116.5h1M0 117.5h1M2 117.5h1M4 117.5h1M7 117.5h1M18 117.5h1M9 118.5h1M12 118.5h1M27 118.5h2M36 118.5h1M64 118.5h1M67 118.5h1M71 118.5h1M77 118.5h3M4 119.5h4M9 119.5h1M15 119.5h1M69 119.5h1M73 119.5h2M77 119.5h2M14 120.5h2M29 120.5h1M31 120.5h1M33 120.5h1M46 120.5h1M49 120.5h1M54 120.5h1M57 120.5h1M70 120.5h1M79 120.5h1M4 121.5h1M6 121.5h2M23 121.5h1M25 121.5h4M30 121.5h2M33 121.5h1M55 121.5h4M68 121.5h2M72 121.5h1M75 121.5h1M78 121.5h1M4 122.5h1M7 122.5h1M19 122.5h1M35 122.5h1M40 122.5h2M43 122.5h1M48 122.5h1M63 122.5h1M65 122.5h1M70 122.5h2M4 123.5h1M6 123.5h3M14 123.5h1M19 123.5h4M24 123.5h1M27 123.5h1M47 123.5h1M49 123.5h1M51 123.5h1M56 123.5h2M61 123.5h1M0 124.5h1M6 124.5h2M11 124.5h3M16 124.5h1M19 124.5h1M21 124.5h4M0 125.5h10M12 125.5h5M21 125.5h6M76 125.5h1M8 126.5h1M22 126.5h2M55 126.5h1M59 126.5h1M62 126.5h1M65 126.5h2M68 126.5h1M71 126.5h1M79 126.5h1M1 127.5h3M9 127.5h1M14 127.5h2M23 127.5h1M28 127.5h1M43 127.5h1M61 127.5h1M65 127.5h1M70 127.5h2M73 127.5h1M79 127.5h1M3 128.5h3M7 128.5h1M13 128.5h2M54 128.5h2M69 128.5h1M76 128.5h2M79 128.5h1M1 129.5h3M7 129.5h1M11 129.5h2M15 129.5h2M21 129.5h1M24 129.5h2M47 129.5h2M76 129.5h1M78 129.5h1M6 130.5h2M11 130.5h2M14 130.5h3M24 130.5h1M45 130.5h1M48 130.5h3M57 130.5h2M68 130.5h2M79 130.5h1M18 131.5h2M52 131.5h2M64 131.5h1M68 131.5h3M74 131.5h1M76 131.5h2M7 132.5h1M34 132.5h1M43 132.5h1M60 132.5h1M62 132.5h3M67 132.5h1M69 132.5h1M74 132.5h5M0 133.5h3M7 133.5h2M12 133.5h1M15 133.5h1M19 133.5h4M25 133.5h2M28 133.5h2M42 133.5h1M67 133.5h1M0 134.5h2M4 134.5h2M13 134.5h1M27 134.5h1M42 134.5h2M49 134.5h1M60 134.5h2M8 135.5h1M11 135.5h1M22 135.5h1M27 135.5h1M35 135.5h2M40 135.5h1M43 135.5h1M47 135.5h3M52 135.5h2M55 135.5h1M57 135.5h1M66 135.5h1M76 135.5h4M5 136.5h1M8 136.5h1M12 136.5h4M8 137.5h2M18 137.5h2M21 137.5h1M72 137.5h1M74 137.5h2M77 137.5h2M10 138.5h1M12 138.5h2M16 138.5h1M41 138.5h1M44 138.5h1M56 138.5h2M62 138.5h1M74 138.5h1M76 138.5h1M78 138.5h1M13 139.5h5M19 139.5h1M55 139.5h1M57 139.5h2M61 139.5h1M65 139.5h3M70 139.5h1M74 139.5h1M78 139.5h1M5 140.5h1M11 140.5h3M48 140.5h1M51 140.5h1M64 140.5h2M69 140.5h1M72 140.5h1M76 140.5h1M2 141.5h3M6 141.5h1M9 141.5h2M21 141.5h2M25 141.5h1M31 141.5h1M37 141.5h1M42 141.5h1M48 141.5h2M61 141.5h5M0 142.5h2M3 142.5h1M9 142.5h1M11 142.5h2M17 142.5h2M22 142.5h1M24 142.5h1M37 142.5h2M54 142.5h1M59 142.5h1M62 142.5h1M64 142.5h4M70 142.5h1M0 143.5h1M4 143.5h1M10 143.5h1M15 143.5h1M17 143.5h1M19 143.5h1M58 143.5h2M62 143.5h2M68 143.5h1M1 144.5h1M29 144.5h1M44 144.5h1M47 144.5h3M51 144.5h1M61 144.5h1M64 144.5h1M67 144.5h2M70 144.5h1M72 144.5h4M0 145.5h2M3 145.5h4M8 145.5h1M12 145.5h3M16 145.5h1M24 145.5h1M29 145.5h1M48 145.5h2M51 145.5h2M54 145.5h1M57 145.5h1M72 145.5h3M76 145.5h2M15 146.5h1M17 146.5h1M21 146.5h1M42 146.5h1M46 146.5h3M50 146.5h1M60 146.5h1M64 146.5h1M72 146.5h1M78 146.5h1M0 147.5h1M3 147.5h2M6 147.5h3M14 147.5h1M46 147.5h1M58 147.5h1M70 147.5h2M3 148.5h1M7 148.5h1M14 148.5h1M0 149.5h2M9 149.5h2M17 149.5h2M20 149.5h3M25 149.5h3M58 149.5h1M60 149.5h1M68 149.5h1M70 149.5h2M1 150.5h1M9 150.5h1M17 150.5h1M20 150.5h2M42 150.5h2M57 150.5h2M60 150.5h1M69 150.5h1M72 150.5h3M4 151.5h1M6 151.5h2M11 151.5h3M19 151.5h1M21 151.5h3M25 151.5h1M36 151.5h1M39 151.5h3M57 151.5h1M60 151.5h1M63 151.5h1M65 151.5h2M72 151.5h1M75 151.5h1M77 151.5h1M10 152.5h4M20 152.5h1M22 152.5h1M24 152.5h2M52 152.5h1M59 152.5h1M61 152.5h3M76 152.5h1M31 153.5h1M44 153.5h6M52 153.5h5M59 153.5h1M61 153.5h1M67 153.5h7M75 153.5h4M0 154.5h1M4 154.5h1M21 154.5h2M24 154.5h2M27 154.5h1M34 154.5h3M39 154.5h4M46 154.5h1M49 154.5h1M61 154.5h1M64 154.5h2M67 154.5h2M71 154.5h1M74 154.5h1M0 155.5h2M3 155.5h2M10 155.5h1M14 155.5h1M16 155.5h1M18 155.5h1M20 155.5h2M26 155.5h2M59 155.5h1M63 155.5h2M2 156.5h2M6 156.5h3M60 156.5h1M63 156.5h1M4 157.5h1M22 157.5h3M63 157.5h1M74 157.5h5M9 158.5h2M12 158.5h1M19 158.5h1M21 158.5h1M24 158.5h1M79 158.5h1M0 159.5h4M9 159.5h2M15 159.5h2M21 159.5h1M27 159.5h4M35 159.5h1M40 159.5h1M42 159.5h1M62 159.5h5M79 159.5h1M3 160.5h2M8 160.5h1M66 160.5h1M68 160.5h1M72 160.5h3M78 160.5h2M3 161.5h1M5 161.5h1M7 161.5h3M11 161.5h2M21 161.5h3M25 161.5h1M48 161.5h1M50 161.5h1M67 161.5h2M73 161.5h1M76 161.5h1M79 161.5h1M3 162.5h3M7 162.5h1M15 162.5h3M29 162.5h1M31 162.5h2M35 162.5h3M39 162.5h3M46 162.5h1M48 162.5h1M59 162.5h1M62 162.5h3M66 162.5h2M4 163.5h3M16 163.5h2M22 163.5h3M32 163.5h2M36 163.5h3M40 163.5h1M42 163.5h1M49 163.5h4M57 163.5h2M60 163.5h1M62 163.5h4M67 163.5h9M78 163.5h2M1 164.5h8M11 164.5h2M1 165.5h1M5 165.5h4M10 165.5h6M19 165.5h1M21 165.5h7M33 165.5h3M42 165.5h1M45 165.5h1M53 165.5h2M56 165.5h1M60 165.5h3M66 165.5h3M74 165.5h1M77 165.5h1M0 166.5h4M5 166.5h1M10 166.5h1M12 166.5h1M14 166.5h11M26 166.5h1M42 166.5h1M45 166.5h2M54 166.5h3M65 166.5h1M74 166.5h1M0 167.5h3M7 167.5h2M14 167.5h4M29 167.5h1M42 167.5h1M47 167.5h1M52 167.5h6M60 167.5h1M69 167.5h2M73 167.5h1M76 167.5h1M79 167.5h1M2 168.5h1M4 168.5h1M8 168.5h2M19 168.5h2M36 168.5h1M48 168.5h1M77 168.5h1M0 169.5h1M2 169.5h2M19 169.5h3M24 169.5h4M65 169.5h1M0 170.5h2M5 170.5h1M10 170.5h2M13 170.5h1M15 170.5h2M18 170.5h3M23 170.5h3M52 170.5h1M56 170.5h1M66 170.5h1M69 170.5h2M77 170.5h1M6 171.5h2M9 171.5h1M12 171.5h2M18 171.5h1M20 171.5h3M32 171.5h1M63 171.5h1M70 171.5h1M16 172.5h1M18 172.5h8M43 172.5h2M70 172.5h2M8 173.5h2M13 173.5h2M16 173.5h1M18 173.5h6M25 173.5h1M44 173.5h2M59 173.5h1M61 173.5h1M68 173.5h1M71 173.5h1M8 174.5h3M13 174.5h3M17 174.5h1M19 174.5h1M23 174.5h1M44 174.5h1M52 174.5h1M56 174.5h1M64 174.5h3M71 174.5h1M75 174.5h1M0 175.5h4M15 175.5h2M42 175.5h2M47 175.5h2M55 175.5h1M58 175.5h1M60 175.5h3M64 175.5h1M68 175.5h2M1 176.5h1M3 176.5h1M11 176.5h1M16 176.5h1M19 176.5h1M27 176.5h2M32 176.5h1M42 176.5h1M53 176.5h1M56 176.5h2M65 176.5h1M5 177.5h3M10 177.5h3M16 177.5h2M19 177.5h1M21 177.5h4M38 177.5h4M47 177.5h1M53 177.5h1M56 177.5h1M64 177.5h5M73 177.5h3M79 177.5h1M0 178.5h2M3 178.5h2M7 178.5h2M15 178.5h3M19 178.5h5M78 178.5h1M0 179.5h5M6 179.5h7M16 179.5h2M19 179.5h3M23 179.5h1M25 179.5h1M28 179.5h1M48 179.5h3M4 180.5h2M8 180.5h15M25 180.5h1M27 180.5h1M33 180.5h2M41 180.5h2M44 180.5h4M49 180.5h2M53 180.5h7M64 180.5h1M68 180.5h2M71 180.5h1M73 180.5h4M79 180.5h1M0 181.5h1M4 181.5h1M6 181.5h3M22 181.5h1M39 181.5h1M41 181.5h2M54 181.5h1M56 181.5h1M58 181.5h3M68 181.5h1M71 181.5h1M0 182.5h1M9 182.5h1M11 182.5h1M14 182.5h1M16 182.5h1M23 182.5h2M30 182.5h1M32 182.5h1M35 182.5h2M44 182.5h3M49 182.5h1M52 182.5h5M61 182.5h1M63 182.5h3M67 182.5h2M74 182.5h1M0 183.5h7M8 183.5h2M13 183.5h6M21 183.5h1M34 183.5h1M72 183.5h1M0 184.5h3M4 184.5h1M6 184.5h2M16 184.5h1M18 184.5h1M26 184.5h1M31 184.5h3M36 184.5h1M47 184.5h1M75 184.5h2M0 185.5h1M5 185.5h1M7 185.5h1M10 185.5h1M15 185.5h1M18 185.5h1M20 185.5h1M23 185.5h2M37 185.5h1M47 185.5h3M51 185.5h1M53 185.5h1M75 185.5h1M77 185.5h1M79 185.5h1M1 186.5h1M15 186.5h1M17 186.5h3M21 186.5h3M4 187.5h1M21 187.5h4M62 187.5h1M68 187.5h3M1 188.5h5M7 188.5h2M16 188.5h1M20 188.5h1M22 188.5h1M29 188.5h1M48 188.5h1M58 188.5h3M62 188.5h1M65 188.5h2M74 188.5h1M78 188.5h2M8 189.5h1M11 189.5h4M23 189.5h1M26 189.5h2M45 189.5h7M57 189.5h1M66 189.5h4M71 189.5h1M73 189.5h1M75 189.5h1M0 190.5h5M8 190.5h2M11 190.5h1M13 190.5h3M21 190.5h2M47 190.5h1M55 190.5h1M58 190.5h2M61 190.5h2M78 190.5h1M0 191.5h3M5 191.5h1M8 191.5h2M21 191.5h1M34 191.5h1M58 191.5h1M60 191.5h1M72 191.5h2M75 191.5h1M15 192.5h1M21 192.5h3M25 192.5h1M27 192.5h1M57 192.5h2M60 192.5h1M63 192.5h1M4 193.5h1M6 193.5h1M8 193.5h6M20 193.5h3M45 193.5h5M53 193.5h2M56 193.5h1M61 193.5h4M0 194.5h2M3 194.5h1M19 194.5h3M30 194.5h1M44 194.5h2M49 194.5h3M53 194.5h2M60 194.5h5M66 194.5h3M70 194.5h1M72 194.5h1M74 194.5h2M77 194.5h1M2 195.5h2M10 195.5h1M27 195.5h3M56 195.5h4M62 195.5h1M64 195.5h1M68 195.5h1M5 196.5h1M10 196.5h1M12 196.5h2M15 196.5h3M28 196.5h1M34 196.5h1M43 196.5h1M51 196.5h1M56 196.5h1M58 196.5h1M68 196.5h1M73 196.5h1M75 196.5h1M3 197.5h1M5 197.5h1M7 197.5h1M10 197.5h7M20 197.5h3M25 197.5h2M32 197.5h1M35 197.5h4M40 197.5h1M44 197.5h5M50 197.5h3M54 197.5h3M61 197.5h1M65 197.5h1M70 197.5h1M79 197.5h1M0 198.5h1M9 198.5h1M22 198.5h3M26 198.5h2M29 198.5h1M48 198.5h1M52 198.5h1M55 198.5h6M71 198.5h1M78 198.5h1M4 199.5h2M14 199.5h2M20 199.5h1M26 199.5h1M53 199.5h5M70 199.5h5M76 199.5h2M9 200.5h1M27 200.5h5M39 200.5h3M44 200.5h5M50 200.5h1M52 200.5h2M56 200.5h1M58 200.5h3M62 200.5h1M64 200.5h3M72 200.5h1M2 201.5h1M5 201.5h1M17 201.5h4M23 201.5h2M27 201.5h2M30 201.5h2M38 201.5h2M45 201.5h1M52 201.5h1M54 201.5h1M76 201.5h1M78 201.5h2M0 202.5h7M27 202.5h1M47 202.5h2M66 202.5h1M0 203.5h1M3 203.5h3M9 203.5h1M12 203.5h3M20 203.5h1M28 203.5h3M47 203.5h3M63 203.5h1M4 204.5h1M8 204.5h1M13 204.5h1M15 204.5h3M20 204.5h1M22 204.5h1M24 204.5h1M27 204.5h1M30 204.5h1M33 204.5h1M38 204.5h1M40 204.5h1M3 205.5h1M6 205.5h2M9 205.5h2M12 205.5h3M27 205.5h3M32 205.5h1M39 205.5h8M59 205.5h1M62 205.5h1M72 205.5h1M74 205.5h2M79 205.5h1M0 206.5h1M8 206.5h1M11 206.5h1M14 206.5h2M20 206.5h1M23 206.5h4M28 206.5h1M61 206.5h2M69 206.5h1M75 206.5h2M1 207.5h1M8 207.5h3M12 207.5h11M26 207.5h1M46 207.5h1M57 207.5h1M59 207.5h1M61 207.5h6M68 207.5h1M73 207.5h1M75 207.5h1M77 207.5h2M2 208.5h1M18 208.5h3M28 208.5h1M41 208.5h8M51 208.5h1M57 208.5h14M72 208.5h2M76 208.5h1M12 209.5h1M16 209.5h7M45 209.5h1M66 209.5h1M68 209.5h2M74 209.5h2M9 210.5h1M14 210.5h2M17 210.5h1M19 210.5h1M26 210.5h1M30 210.5h1M40 210.5h1M57 210.5h3M68 210.5h2M77 210.5h1M1 211.5h1M4 211.5h1M9 211.5h1M18 211.5h1M20 211.5h2M24 211.5h3M47 211.5h1M53 211.5h2M59 211.5h2M62 211.5h3M66 211.5h1M79 211.5h1M0 212.5h4M14 212.5h1M16 212.5h3M26 212.5h2M69 212.5h1M74 212.5h4M0 213.5h1M10 213.5h1M28 213.5h1M30 213.5h1M40 213.5h1M44 213.5h2M47 213.5h3M52 213.5h2M55 213.5h3M63 213.5h2M66 213.5h1M76 213.5h4M3 214.5h1M6 214.5h1M10 214.5h2M14 214.5h1M19 214.5h2M23 214.5h3M33 214.5h1M35 214.5h2M40 214.5h1M42 214.5h1M44 214.5h2M47 214.5h1M51 214.5h11M65 214.5h4M73 214.5h2M77 214.5h3M0 215.5h4M9 215.5h1M11 215.5h1M14 215.5h2M40 215.5h1M43 215.5h1M45 215.5h3M49 215.5h1M57 215.5h5M68 215.5h1M70 215.5h2M73 215.5h1M75 215.5h3M0 216.5h2M4 216.5h1M14 216.5h1M16 216.5h1M18 216.5h1M32 216.5h2M36 216.5h2M43 216.5h1M51 216.5h1M57 216.5h1M60 216.5h1M1 217.5h3M9 217.5h1M14 217.5h1M30 217.5h2M33 217.5h1M38 217.5h2M44 217.5h1M51 217.5h3M56 217.5h1M58 217.5h1M61 217.5h1M63 217.5h1M65 217.5h1M68 217.5h2M71 217.5h2M74 217.5h1M76 217.5h3M1 218.5h5M8 218.5h1M14 218.5h1M19 218.5h5M25 218.5h1M28 218.5h5M41 218.5h4M46 218.5h1M50 218.5h1M52 218.5h1M54 218.5h8M64 218.5h3M71 218.5h1M74 218.5h1M76 218.5h4M2 219.5h2M5 219.5h1M12 219.5h1M14 219.5h5M25 219.5h5M45 219.5h1M47 219.5h4M53 219.5h1M55 219.5h1M57 219.5h2M69 219.5h1M75 219.5h1M77 219.5h1M79 219.5h1M3 220.5h1M5 220.5h1M7 220.5h1M10 220.5h2M18 220.5h1M28 220.5h1M44 220.5h1M47 220.5h1M63 220.5h1M75 220.5h5M0 221.5h1M3 221.5h3M9 221.5h1M11 221.5h2M15 221.5h1M19 221.5h1M21 221.5h2M28 221.5h2M55 221.5h1M68 221.5h1M75 221.5h4M0 222.5h6M8 222.5h2M19 222.5h9M31 222.5h1M34 222.5h2M37 222.5h2M43 222.5h3M49 222.5h14M64 222.5h2M67 222.5h3M74 222.5h3M78 222.5h1M1 223.5h1M4 223.5h4M12 223.5h1M14 223.5h2M35 223.5h2M39 223.5h2M42 223.5h2M45 223.5h6M72 223.5h1M74 223.5h1M1 224.5h1M6 224.5h2M9 224.5h2M15 224.5h1M31 224.5h1M40 224.5h4M52 224.5h1M64 224.5h2M67 224.5h6M74 224.5h1M78 224.5h2M0 225.5h1M4 225.5h1M7 225.5h4M17 225.5h1M19 225.5h1M21 225.5h1M25 225.5h1M31 225.5h8M43 225.5h1M45 225.5h2M49 225.5h1M52 225.5h1M59 225.5h2M68 225.5h1M70 225.5h1M73 225.5h5M79 225.5h1M8 226.5h7M16 226.5h1M20 226.5h7M30 226.5h1M45 226.5h2M49 226.5h2M53 226.5h5M76 226.5h4M15 227.5h2M18 227.5h5M45 227.5h2M48 227.5h4M56 227.5h1M1 228.5h4M6 228.5h1M12 228.5h3M16 228.5h7M24 228.5h7M32 228.5h1M35 228.5h3M39 228.5h2M44 228.5h1M55 228.5h1M59 228.5h1M75 228.5h1M77 228.5h1M1 229.5h2M6 229.5h6M13 229.5h2M18 229.5h1M27 229.5h3M63 229.5h1M65 229.5h1M70 229.5h1M77 229.5h3M1 230.5h7M12 230.5h1M18 230.5h1M21 230.5h2M24 230.5h1M27 230.5h2M44 230.5h2M47 230.5h1M50 230.5h5M56 230.5h2M59 230.5h1M63 230.5h1M65 230.5h1M67 230.5h10M0 231.5h1M3 231.5h2M7 231.5h1M10 231.5h2M15 231.5h1M17 231.5h1M19 231.5h1M21 231.5h1M27 231.5h2M30 231.5h1M44 231.5h2M47 231.5h1M52 231.5h1M54 231.5h1M56 231.5h2M61 231.5h3M65 231.5h1M71 231.5h1M78 231.5h1M1 232.5h1M4 232.5h4M10 232.5h1M12 232.5h3M23 232.5h2M30 232.5h1M33 232.5h1M37 232.5h1M42 232.5h1M44 232.5h1M50 232.5h1M52 232.5h2M61 232.5h1M63 232.5h1M67 232.5h6M11 233.5h2M14 233.5h11M37 233.5h6M44 233.5h1M53 233.5h11M65 233.5h4M71 233.5h1M73 233.5h3M78 233.5h2M16 234.5h1M18 234.5h1M20 234.5h2M23 234.5h4M36 234.5h1M39 234.5h2M44 234.5h1M46 234.5h2M53 234.5h6M60 234.5h3M68 234.5h5M76 234.5h2M0 235.5h1M2 235.5h2M5 235.5h2M8 235.5h5M14 235.5h7M22 235.5h2M25 235.5h3M40 235.5h2M44 235.5h2M47 235.5h1M51 235.5h1M55 235.5h1M63 235.5h7M71 235.5h1M74 235.5h3M78 235.5h2M3 236.5h1M6 236.5h3M15 236.5h2M23 236.5h1M26 236.5h3M31 236.5h2M38 236.5h3M42 236.5h1M44 236.5h2M53 236.5h4M68 236.5h1M75 236.5h2M78 236.5h1M0 237.5h1M5 237.5h2M15 237.5h1M23 237.5h1M62 237.5h1M68 237.5h1M78 237.5h2M1 238.5h2M4 238.5h2M11 238.5h4M19 238.5h1M33 238.5h2M36 238.5h2M39 238.5h1M57 238.5h1M59 238.5h2M0 239.5h3M18 239.5h1M22 239.5h5M36 239.5h1M48 239.5h4M56 239.5h3M62 239.5h1M65 239.5h1M68 239.5h1M79 239.5h1M0 240.5h3M11 240.5h6M51 240.5h1M53 240.5h3M57 240.5h1M77 240.5h3M0 241.5h1M2 241.5h2M12 241.5h4M26 241.5h1M37 241.5h2M42 241.5h4M48 241.5h2M54 241.5h2M57 241.5h2M67 241.5h2M70 241.5h4M0 242.5h6M12 242.5h2M15 242.5h1M19 242.5h1M21 242.5h1M23 242.5h1M25 242.5h2M33 242.5h1M35 242.5h1M39 242.5h1M42 242.5h5M48 242.5h5M54 242.5h1M56 242.5h1M59 242.5h2M69 242.5h4M74 242.5h1M76 242.5h2M1 243.5h1M4 243.5h1M15 243.5h2M19 243.5h1M22 243.5h1M28 243.5h3M32 243.5h1M39 243.5h3M45 243.5h1M48 243.5h1M55 243.5h1M58 243.5h1M64 243.5h1M66 243.5h1M69 243.5h3M73 243.5h1M76 243.5h1M13 244.5h2M16 244.5h1M26 244.5h2M29 244.5h1M31 244.5h1M36 244.5h1M62 244.5h3M66 244.5h1M68 244.5h1M75 244.5h1M79 244.5h1M3 245.5h1M6 245.5h1M9 245.5h2M13 245.5h3M24 245.5h1M36 245.5h2M65 245.5h1M68 245.5h2M76 245.5h1M78 245.5h2M0 246.5h2M3 246.5h1M7 246.5h1M12 246.5h1M31 246.5h1M50 246.5h1M61 246.5h1M64 246.5h1M70 246.5h1M72 246.5h1M79 246.5h1M8 247.5h3M12 247.5h3M23 247.5h1M28 247.5h1M31 247.5h2M34 247.5h1M37 247.5h2M46 247.5h1M49 247.5h1M58 247.5h2M62 247.5h2M66 247.5h1M68 247.5h2M71 247.5h6M78 247.5h1M4 248.5h6M23 248.5h1M61 248.5h1M70 248.5h1M0 249.5h2M3 249.5h2M10 249.5h1M12 249.5h2M15 249.5h7M23 249.5h2M26 249.5h1M41 249.5h1M44 249.5h1M60 249.5h2M75 249.5h3M79 249.5h1M0 250.5h1M4 250.5h1M10 250.5h1M15 250.5h2M19 250.5h1M21 250.5h5M27 250.5h4M33 250.5h4M44 250.5h1M64 250.5h1M76 250.5h1M0 251.5h1M10 251.5h1M12 251.5h3M36 251.5h3M0 252.5h1M5 252.5h1M10 252.5h1M21 252.5h4M26 252.5h2M35 252.5h7M43 252.5h5M49 252.5h4M64 252.5h2M1 253.5h3M8 253.5h3M35 253.5h4M46 253.5h1M56 253.5h4M62 253.5h6M69 253.5h2M72 253.5h7M1 254.5h4M8 254.5h1M13 254.5h2M17 254.5h1M21 254.5h1M28 254.5h1M30 254.5h3M41 254.5h3M50 254.5h7M58 254.5h3M72 254.5h4M77 254.5h3M1 255.5h6M8 255.5h1M16 255.5h2M19 255.5h4M32 255.5h1M36 255.5h1M41 255.5h1M57 255.5h2M62 255.5h3M68 255.5h1M79 255.5h1M0 256.5h3M4 256.5h1M16 256.5h7M35 256.5h1M50 256.5h6M63 256.5h6M71 256.5h1M79 256.5h1M3 257.5h1M5 257.5h5M16 257.5h1M18 257.5h2M22 257.5h2M25 257.5h1M45 257.5h1M47 257.5h1M0 258.5h6M7 258.5h5M13 258.5h1M17 258.5h4M22 258.5h4M34 258.5h1M45 258.5h3M51 258.5h2M56 258.5h5M12 259.5h1M21 259.5h2M31 259.5h1M34 259.5h2M39 259.5h1M41 259.5h1M50 259.5h2M66 259.5h1M78 259.5h1M0 260.5h1M7 260.5h1M13 260.5h1M17 260.5h1M20 260.5h1M22 260.5h2M25 260.5h1M27 260.5h1M30 260.5h1M35 260.5h3M42 260.5h1M44 260.5h2M48 260.5h4M65 260.5h3M5 261.5h9M22 261.5h1M29 261.5h2M47 261.5h3M52 261.5h1M67 261.5h1M69 261.5h3M76 261.5h1M78 261.5h2M0 262.5h1M15 262.5h7M23 262.5h2M45 262.5h2M48 262.5h2M52 262.5h1M54 262.5h7M62 262.5h1M73 262.5h1M0 263.5h1M14 263.5h2M18 263.5h4M23 263.5h2M45 263.5h1M49 263.5h1M52 263.5h10M63 263.5h4M70 263.5h2M73 263.5h3M77 263.5h3M0 264.5h1M3 264.5h6M18 264.5h1M20 264.5h5M26 264.5h1M37 264.5h4M42 264.5h2M45 264.5h2M48 264.5h2M54 264.5h3M58 264.5h2M61 264.5h5M70 264.5h5M77 264.5h2M1 265.5h1M17 265.5h2M21 265.5h2M26 265.5h1M38 265.5h1M40 265.5h1M42 265.5h2M48 265.5h4M53 265.5h2M58 265.5h1M64 265.5h1M77 265.5h1M4 266.5h1M41 266.5h1M43 266.5h4M57 266.5h1M70 266.5h6M77 266.5h3M0 267.5h5M7 267.5h6M20 267.5h9M32 267.5h3M41 267.5h9M56 267.5h4M61 267.5h19M0 268.5h4M5 268.5h2M9 268.5h4M14 268.5h3M19 268.5h6M26 268.5h5M35 268.5h1M38 268.5h2M45 268.5h5M54 268.5h1M56 268.5h3M61 268.5h5M68 268.5h2M71 268.5h1M73 268.5h6M1 269.5h1M3 269.5h1M6 269.5h3M10 269.5h2M13 269.5h1M15 269.5h2M22 269.5h1M24 269.5h3M48 269.5h3M55 269.5h4M61 269.5h1M67 269.5h3M72 269.5h2M4 270.5h1M11 270.5h3M26 270.5h1M31 270.5h1M33 270.5h2M46 270.5h1M49 270.5h5M55 270.5h1M65 270.5h2M77 270.5h1M0 271.5h7M9 271.5h4M14 271.5h12M27 271.5h5M33 271.5h5M41 271.5h1M45 271.5h1M48 271.5h1M50 271.5h2M58 271.5h2M62 271.5h3M67 271.5h3M77 271.5h3"/>
<path stroke="#2bc0ac" d="M9 0.5h1M21 0.5h1M36 0.5h1M38 0.5h1M54 0.5h1M64 0.5h2M68 0.5h1M16 1.5h1M34 1.5h1M37 1.5h1M43 1.5h1M55 1.5h2M21 2.5h1M49 2.5h1M67 2.5h2M3 3.5h1M8 3.5h2M19 3.5h1M51 3.5h1M8 4.5h1M35 4.5h1M37 4.5h1M64 4.5h1M70 4.5h1M72 4.5h1M36 5.5h1M56 5.5h1M66 5.5h1M1 6.5h3M10 6.5h1M19 6.5h1M65 6.5h1M0 7.5h1M28 7.5h1M71 7.5h1M5 8.5h1M9 8.5h1M12 8.5h1M18 8.5h1M22 8.5h1M65 8.5h1M2 9.5h1M9 9.5h1M15 9.5h1M1 10.5h1M57 10.5h1M65 10.5h1M71 10.5h2M6 11.5h1M15 11.5h1M20 11.5h1M24 11.5h1M26 11.5h1M62 11.5h1M70 11.5h1M3 12.5h2M22 12.5h1M26 12.5h1M57 12.5h1M65 12.5h1M69 12.5h1M77 12.5h2M0 13.5h1M3 13.5h1M7 13.5h3M18 13.5h1M0 14.5h2M11 14.5h1M17 14.5h3M25 14.5h1M6 15.5h1M17 15.5h1M21 15.5h1M54 15.5h1M57 15.5h1M61 15.5h1M64 15.5h1M66 15.5h1M13 16.5h1M16 16.5h3M75 16.5h1M16 17.5h1M22 17.5h1M9 18.5h1M18 18.5h1M20 18.5h1M53 18.5h1M2 19.5h1M17 19.5h1M20 19.5h2M52 19.5h2M56 19.5h1M64 19.5h1M66 19.5h1M68 19.5h1M75 19.5h1M1 20.5h2M4 20.5h1M12 20.5h1M73 20.5h1M4 21.5h3M75 21.5h1M77 21.5h1M0 22.5h2M11 23.5h1M18 23.5h1M23 23.5h3M3 24.5h1M16 24.5h1M67 24.5h1M0 25.5h2M6 25.5h1M14 25.5h1M19 25.5h1M21 25.5h1M60 25.5h2M63 25.5h1M66 25.5h4M71 25.5h1M79 25.5h1M2 26.5h2M7 26.5h1M10 26.5h1M19 26.5h1M21 26.5h1M43 26.5h1M53 26.5h1M57 26.5h1M64 26.5h1M66 26.5h2M79 26.5h1M0 27.5h1M7 27.5h1M20 27.5h2M39 27.5h1M73 27.5h1M5 28.5h1M7 28.5h1M22 28.5h2M53 28.5h3M69 28.5h1M3 29.5h2M18 29.5h1M62 29.5h2M65 29.5h1M68 29.5h1M75 29.5h1M1 30.5h1M5 30.5h1M13 30.5h1M65 30.5h1M74 30.5h1M76 30.5h2M12 31.5h1M16 31.5h1M20 31.5h1M46 31.5h1M52 31.5h1M58 31.5h1M72 31.5h1M17 32.5h1M24 33.5h1M26 33.5h1M68 33.5h1M16 34.5h1M40 35.5h1M43 35.5h1M10 36.5h1M32 36.5h1M38 36.5h1M52 36.5h1M56 36.5h1M34 37.5h2M37 37.5h1M40 37.5h3M48 37.5h2M8 38.5h1M11 38.5h1M13 38.5h2M17 38.5h1M21 38.5h1M53 38.5h1M62 38.5h1M4 39.5h2M10 39.5h2M21 39.5h1M25 39.5h1M48 39.5h1M59 39.5h1M63 39.5h1M68 39.5h4M73 39.5h1M9 40.5h1M20 40.5h2M6 41.5h1M12 41.5h1M15 41.5h1M18 41.5h1M21 41.5h1M44 41.5h1M66 41.5h1M0 42.5h1M7 42.5h2M11 42.5h1M43 42.5h2M46 42.5h2M58 42.5h1M66 42.5h1M7 43.5h1M22 43.5h2M78 43.5h1M5 44.5h2M11 44.5h2M14 44.5h1M76 44.5h1M5 45.5h1M7 45.5h1M15 45.5h3M19 45.5h1M71 45.5h1M74 45.5h1M9 46.5h1M11 46.5h1M15 46.5h1M22 46.5h2M29 46.5h1M74 46.5h1M77 46.5h1M19 47.5h1M31 47.5h1M34 47.5h1M36 47.5h1M54 47.5h3M60 47.5h1M20 48.5h1M46 48.5h2M50 48.5h1M53 48.5h1M65 48.5h1M1 49.5h1M4 49.5h2M9 49.5h1M11 49.5h1M13 49.5h1M17 49.5h2M20 49.5h2M68 49.5h1M78 49.5h1M4 50.5h1M18 50.5h1M53 50.5h1M63 50.5h1M67 50.5h1M0 51.5h1M8 51.5h1M10 51.5h2M14 51.5h2M18 51.5h2M23 51.5h1M43 51.5h1M45 51.5h1M10 52.5h1M45 52.5h1M66 52.5h1M71 52.5h1M22 53.5h1M24 53.5h1M75 53.5h2M79 53.5h1M2 54.5h1M4 54.5h1M21 54.5h1M31 54.5h1M33 54.5h1M58 54.5h1M62 54.5h1M79 54.5h1M1 55.5h1M23 55.5h1M42 55.5h1M45 55.5h1M48 55.5h2M3 56.5h2M13 56.5h1M27 56.5h1M73 56.5h2M77 57.5h1M2 58.5h1M17 58.5h1M23 58.5h1M71 58.5h1M75 58.5h1M6 59.5h1M19 59.5h1M21 59.5h2M29 59.5h2M60 59.5h4M1 60.5h1M5 60.5h1M9 60.5h1M20 60.5h1M27 60.5h1M51 60.5h3M55 60.5h1M75 60.5h1M0 61.5h1M6 61.5h1M13 61.5h2M53 61.5h1M55 61.5h3M60 61.5h1M70 61.5h1M14 62.5h1M16 62.5h2M20 62.5h2M24 62.5h1M55 62.5h1M57 62.5h1M61 62.5h1M64 62.5h1M66 62.5h2M73 62.5h1M78 62.5h1M6 63.5h1M11 63.5h1M15 63.5h1M22 63.5h3M26 63.5h1M44 63.5h1M72 63.5h1M3 64.5h2M22 64.5h2M35 64.5h1M67 64.5h1M77 64.5h1M3 65.5h1M11 65.5h4M16 65.5h2M20 65.5h1M28 65.5h2M31 65.5h1M45 65.5h1M55 65.5h1M67 65.5h2M70 65.5h1M2 66.5h2M5 66.5h4M12 66.5h1M15 66.5h1M17 66.5h4M24 66.5h1M28 66.5h1M65 66.5h3M0 67.5h1M8 67.5h1M21 67.5h1M30 67.5h1M71 67.5h1M78 67.5h1M10 68.5h1M30 68.5h1M50 68.5h1M52 68.5h1M66 68.5h1M0 69.5h1M3 69.5h1M26 69.5h1M76 69.5h1M7 70.5h1M12 70.5h1M14 70.5h1M20 70.5h1M23 70.5h1M25 70.5h1M61 70.5h1M73 70.5h1M0 71.5h5M7 71.5h2M11 71.5h1M24 71.5h4M0 72.5h1M5 72.5h1M7 72.5h1M19 72.5h1M59 72.5h1M61 72.5h2M71 72.5h1M10 73.5h1M15 73.5h1M18 73.5h1M22 73.5h3M49 73.5h1M56 73.5h1M59 73.5h1M62 73.5h2M65 73.5h1M69 73.5h2M72 73.5h2M79 73.5h1M12 74.5h1M25 74.5h1M42 74.5h1M0 75.5h2M3 75.5h1M10 75.5h1M12 75.5h1M14 75.5h1M18 75.5h1M22 75.5h3M56 75.5h1M71 75.5h2M0 76.5h1M12 76.5h1M20 76.5h2M23 76.5h1M25 76.5h1M27 76.5h1M30 76.5h1M32 76.5h1M42 76.5h1M56 76.5h1M58 76.5h1M61 76.5h2M70 76.5h2M79 76.5h1M4 77.5h1M26 77.5h1M29 77.5h1M50 77.5h1M61 77.5h2M70 77.5h1M79 77.5h1M4 78.5h1M6 78.5h1M51 78.5h1M64 78.5h1M79 78.5h1M0 79.5h1M2 79.5h1M15 79.5h1M23 79.5h1M33 79.5h1M51 79.5h1M58 79.5h2M61 79.5h1M77 79.5h2M2 80.5h1M13 80.5h1M21 80.5h1M46 80.5h1M48 80.5h1M51 80.5h1M67 80.5h2M7 81.5h2M51 81.5h1M61 81.5h2M0 82.5h1M11 82.5h1M14 82.5h2M17 82.5h4M23 82.5h2M35 82.5h1M45 82.5h2M52 82.5h1M58 82.5h1M63 82.5h1M65 82.5h1M69 82.5h1M73 82.5h1M78 82.5h1M1 83.5h1M13 83.5h1M15 83.5h1M21 83.5h1M30 83.5h1M33 83.5h1M42 83.5h1M44 83.5h3M48 83.5h2M52 83.5h1M54 83.5h2M70 83.5h2M73 83.5h1M77 83.5h1M3 84.5h1M5 84.5h2M11 84.5h1M17 84.5h1M19 84.5h1M23 84.5h1M50 84.5h3M66 84.5h4M74 84.5h1M76 84.5h2M12 85.5h1M17 85.5h1M20 85.5h1M45 85.5h1M57 85.5h1M71 85.5h1M23 86.5h1M54 86.5h1M62 86.5h1M73 86.5h1M17 87.5h1M21 87.5h1M23 87.5h2M26 87.5h1M46 87.5h1M48 87.5h1M72 87.5h1M79 87.5h1M3 88.5h1M5 88.5h1M16 88.5h3M26 88.5h1M47 88.5h2M50 88.5h1M55 88.5h1M57 88.5h5M66 88.5h3M72 88.5h1M76 88.5h2M5 89.5h3M14 89.5h1M16 89.5h2M20 89.5h2M24 89.5h1M34 89.5h2M0 90.5h2M7 90.5h1M27 90.5h1M29 90.5h1M33 90.5h1M55 90.5h1M64 90.5h1M66 90.5h3M1 91.5h1M3 91.5h1M10 91.5h1M29 91.5h1M39 91.5h1M67 91.5h2M71 91.5h1M2 92.5h2M21 92.5h3M28 92.5h1M53 92.5h1M59 92.5h1M64 92.5h1M67 92.5h4M72 92.5h3M1 93.5h1M7 93.5h1M12 93.5h3M21 93.5h1M26 93.5h1M41 93.5h1M55 93.5h1M3 94.5h1M7 94.5h2M10 94.5h1M13 94.5h1M21 94.5h2M35 94.5h1M38 94.5h1M42 94.5h2M58 94.5h2M62 94.5h2M16 95.5h1M21 95.5h2M49 95.5h1M57 95.5h1M61 95.5h1M71 95.5h1M15 96.5h1M20 96.5h1M26 96.5h1M76 96.5h1M1 97.5h1M4 97.5h1M14 97.5h1M32 97.5h1M47 97.5h1M0 98.5h1M20 98.5h1M29 98.5h1M32 98.5h1M36 98.5h1M40 98.5h1M48 98.5h1M63 98.5h1M69 98.5h1M71 98.5h3M75 98.5h1M77 98.5h1M79 98.5h1M7 99.5h1M14 99.5h1M0 100.5h5M42 100.5h1M46 100.5h1M48 100.5h1M52 100.5h2M55 100.5h1M57 100.5h1M66 100.5h1M73 100.5h1M75 100.5h1M1 101.5h1M8 101.5h2M20 101.5h2M33 101.5h1M35 101.5h1M44 101.5h1M46 101.5h2M49 101.5h1M51 101.5h1M53 101.5h1M68 101.5h1M70 101.5h1M74 101.5h1M0 102.5h3M7 102.5h1M9 102.5h1M14 102.5h1M16 102.5h4M22 102.5h1M31 102.5h1M35 102.5h1M45 102.5h2M51 102.5h1M65 102.5h3M77 102.5h1M79 102.5h1M2 103.5h1M8 103.5h3M12 103.5h2M15 103.5h1M18 103.5h1M20 103.5h3M56 103.5h1M58 103.5h1M73 103.5h1M78 103.5h1M0 104.5h2M3 104.5h4M8 104.5h1M11 104.5h1M16 104.5h1M24 104.5h1M75 104.5h1M0 105.5h1M5 105.5h1M9 105.5h2M15 105.5h1M17 105.5h2M34 105.5h1M38 105.5h1M53 105.5h1M57 105.5h1M61 105.5h1M63 105.5h2M75 105.5h1M5 106.5h1M12 106.5h1M15 106.5h1M17 106.5h1M20 106.5h1M31 106.5h1M38 106.5h1M45 106.5h1M47 106.5h3M62 106.5h1M64 106.5h1M72 106.5h1M78 106.5h1M0 107.5h2M3 107.5h1M7 107.5h1M9 107.5h1M20 107.5h2M24 107.5h2M29 107.5h2M43 107.5h1M45 107.5h2M48 107.5h1M54 107.5h2M57 107.5h1M70 107.5h1M72 107.5h1M77 107.5h1M7 108.5h2M14 108.5h2M17 108.5h1M19 108.5h1M29 108.5h2M43 108.5h1M52 108.5h2M56 108.5h2M75 108.5h1M0 109.5h1M11 109.5h2M27 109.5h3M46 109.5h2M54 109.5h1M63 109.5h1M65 109.5h6M4 110.5h4M14 110.5h1M28 110.5h2M64 110.5h1M66 110.5h1M4 111.5h1M6 111.5h2M9 111.5h1M13 111.5h2M16 111.5h1M19 111.5h1M24 111.5h1M26 111.5h2M29 111.5h1M32 111.5h2M36 111.5h1M45 111.5h2M58 111.5h1M60 111.5h1M62 111.5h1M6 112.5h4M16 112.5h2M19 112.5h3M26 112.5h1M42 112.5h1M45 112.5h3M49 112.5h1M56 112.5h1M63 112.5h3M77 112.5h1M79 112.5h1M30 113.5h1M34 113.5h1M38 113.5h1M44 113.5h1M47 113.5h1M58 113.5h1M62 113.5h1M66 113.5h2M79 113.5h1M31 114.5h1M35 114.5h4M40 114.5h1M62 114.5h1M78 114.5h2M15 115.5h1M21 115.5h4M27 115.5h1M57 115.5h6M64 115.5h2M67 115.5h1M72 115.5h2M75 115.5h1M78 115.5h1M20 116.5h1M30 116.5h1M35 116.5h1M56 116.5h2M59 116.5h1M61 116.5h1M67 116.5h1M73 116.5h1M9 117.5h2M15 117.5h1M17 117.5h1M26 117.5h1M29 117.5h4M43 117.5h1M48 117.5h1M50 117.5h1M52 117.5h1M54 117.5h1M56 117.5h1M59 117.5h1M69 117.5h1M71 117.5h1M75 117.5h3M79 117.5h1M1 118.5h1M3 118.5h1M5 118.5h3M13 118.5h1M17 118.5h2M20 118.5h4M25 118.5h1M32 118.5h1M40 118.5h1M43 118.5h1M45 118.5h1M47 118.5h1M51 118.5h2M57 118.5h3M63 118.5h1M17 119.5h3M22 119.5h3M26 119.5h2M30 119.5h1M50 119.5h2M54 119.5h3M58 119.5h1M60 119.5h3M64 119.5h3M1 120.5h2M4 120.5h3M10 120.5h2M24 120.5h1M28 120.5h1M55 120.5h1M65 120.5h1M67 120.5h2M74 120.5h1M76 120.5h3M8 121.5h2M15 121.5h5M22 121.5h1M37 121.5h1M47 121.5h1M49 121.5h1M51 121.5h1M53 121.5h2M74 121.5h1M77 121.5h1M79 121.5h1M1 122.5h1M11 122.5h4M16 122.5h1M21 122.5h1M33 122.5h1M38 122.5h1M0 123.5h1M2 123.5h2M15 123.5h1M28 123.5h1M46 123.5h1M53 123.5h1M59 123.5h1M8 124.5h1M17 124.5h2M27 124.5h2M65 124.5h2M75 124.5h1M79 124.5h1M29 125.5h2M48 125.5h1M56 125.5h1M58 125.5h2M61 125.5h2M65 125.5h1M67 125.5h2M74 125.5h1M78 125.5h2M12 126.5h1M15 126.5h2M18 126.5h1M20 126.5h1M24 126.5h2M42 126.5h1M45 126.5h1M74 126.5h1M12 127.5h1M19 127.5h3M25 127.5h1M33 127.5h1M38 127.5h1M44 127.5h2M48 127.5h1M54 127.5h1M58 127.5h1M60 127.5h1M0 128.5h1M28 128.5h1M34 128.5h1M36 128.5h4M42 128.5h3M50 128.5h3M59 128.5h2M62 128.5h1M64 128.5h1M66 128.5h2M9 129.5h1M22 129.5h1M26 129.5h1M28 129.5h1M30 129.5h1M40 129.5h2M50 129.5h2M55 129.5h2M59 129.5h2M62 129.5h1M66 129.5h1M69 129.5h1M71 129.5h2M0 130.5h1M2 130.5h1M4 130.5h1M17 130.5h3M22 130.5h2M29 130.5h1M34 130.5h2M37 130.5h2M60 130.5h1M71 130.5h1M75 130.5h1M77 130.5h1M2 131.5h1M10 131.5h1M12 131.5h1M16 131.5h1M20 131.5h3M24 131.5h1M37 131.5h1M56 131.5h4M75 131.5h1M78 131.5h1M0 132.5h1M9 132.5h3M13 132.5h2M17 132.5h2M27 132.5h4M33 132.5h1M41 132.5h1M46 132.5h5M54 132.5h4M71 132.5h1M11 133.5h1M30 133.5h2M34 133.5h1M38 133.5h2M41 133.5h1M43 133.5h1M45 133.5h1M50 133.5h2M54 133.5h1M56 133.5h3M60 133.5h1M63 133.5h1M65 133.5h2M68 133.5h1M34 134.5h2M37 134.5h2M44 134.5h1M47 134.5h2M50 134.5h1M52 134.5h1M13 135.5h1M15 135.5h4M28 135.5h1M39 135.5h1M56 135.5h1M62 135.5h2M65 135.5h1M68 135.5h1M71 135.5h1M9 136.5h2M16 136.5h1M18 136.5h4M23 136.5h1M25 136.5h1M28 136.5h3M57 136.5h3M65 136.5h2M68 136.5h1M73 136.5h1M77 136.5h3M10 137.5h3M14 137.5h1M20 137.5h1M22 137.5h2M25 137.5h1M55 137.5h1M57 137.5h1M65 137.5h1M68 137.5h2M76 137.5h1M0 138.5h3M5 138.5h1M7 138.5h1M9 138.5h1M11 138.5h1M19 138.5h1M23 138.5h1M25 138.5h1M46 138.5h1M48 138.5h1M50 138.5h1M58 138.5h1M1 139.5h1M3 139.5h1M5 139.5h1M9 139.5h1M18 139.5h1M20 139.5h5M26 139.5h1M28 139.5h1M47 139.5h2M50 139.5h3M56 139.5h1M72 139.5h1M23 140.5h1M25 140.5h1M27 140.5h1M46 140.5h1M53 140.5h1M56 140.5h2M60 140.5h1M63 140.5h1M68 140.5h1M71 140.5h1M74 140.5h1M78 140.5h1M20 141.5h1M30 141.5h1M66 141.5h1M69 141.5h1M6 142.5h2M19 142.5h2M26 142.5h2M30 142.5h1M44 142.5h1M46 142.5h1M48 142.5h1M72 142.5h1M1 143.5h1M35 143.5h1M51 143.5h1M54 143.5h1M72 143.5h1M74 143.5h2M4 144.5h1M11 144.5h1M13 144.5h2M18 144.5h1M20 144.5h1M24 144.5h1M27 144.5h1M33 144.5h5M39 144.5h5M7 145.5h1M20 145.5h1M22 145.5h2M25 145.5h1M27 145.5h2M30 145.5h1M36 145.5h3M41 145.5h1M63 145.5h3M0 146.5h1M8 146.5h2M18 146.5h1M22 146.5h2M28 146.5h1M41 146.5h1M49 146.5h1M51 146.5h1M67 146.5h2M2 147.5h1M22 147.5h1M26 147.5h1M40 147.5h1M44 147.5h1M48 147.5h1M50 147.5h1M60 147.5h1M69 147.5h1M0 148.5h1M9 148.5h1M16 148.5h2M19 148.5h4M50 148.5h5M62 148.5h3M67 148.5h5M73 148.5h3M3 149.5h1M7 149.5h1M28 149.5h1M32 149.5h2M35 149.5h5M45 149.5h1M47 149.5h1M49 149.5h8M61 149.5h2M66 149.5h2M73 149.5h4M78 149.5h2M4 150.5h4M23 150.5h1M25 150.5h1M27 150.5h1M30 150.5h1M32 150.5h7M40 150.5h2M45 150.5h1M50 150.5h6M62 150.5h2M79 150.5h1M0 151.5h2M28 151.5h1M30 151.5h2M42 151.5h2M45 151.5h2M48 151.5h5M68 151.5h1M71 151.5h1M5 152.5h1M7 152.5h1M9 152.5h1M27 152.5h1M33 152.5h1M50 152.5h2M68 152.5h4M73 152.5h1M77 152.5h1M79 152.5h1M5 153.5h1M7 153.5h2M10 153.5h2M10 154.5h1M12 154.5h1M14 154.5h1M16 154.5h1M18 154.5h1M30 154.5h2M58 154.5h1M60 154.5h1M72 154.5h1M8 155.5h2M11 155.5h3M24 155.5h1M28 155.5h1M44 155.5h1M46 155.5h3M51 155.5h2M54 155.5h2M57 155.5h1M62 155.5h1M70 155.5h2M73 155.5h2M77 155.5h2M1 156.5h1M9 156.5h1M21 156.5h1M26 156.5h1M28 156.5h1M52 156.5h1M65 156.5h1M67 156.5h1M69 156.5h2M72 156.5h5M1 157.5h1M10 157.5h1M14 157.5h1M18 157.5h2M28 157.5h1M49 157.5h4M55 157.5h1M58 157.5h4M2 158.5h2M6 158.5h1M16 158.5h2M27 158.5h1M36 158.5h1M40 158.5h3M44 158.5h4M49 158.5h1M54 158.5h1M58 158.5h2M62 158.5h3M66 158.5h2M70 158.5h2M75 158.5h2M22 159.5h1M26 159.5h1M0 160.5h3M12 160.5h1M14 160.5h3M18 160.5h4M37 160.5h1M39 160.5h1M50 160.5h1M53 160.5h1M58 160.5h4M69 160.5h2M76 160.5h1M0 161.5h3M17 161.5h3M26 161.5h3M40 161.5h1M45 161.5h1M52 161.5h1M54 161.5h1M57 161.5h1M59 161.5h1M62 161.5h1M64 161.5h1M66 161.5h1M70 161.5h1M72 161.5h1M1 162.5h1M10 162.5h1M13 162.5h2M18 162.5h4M34 162.5h1M43 162.5h1M52 162.5h3M60 162.5h1M71 162.5h2M75 162.5h1M0 163.5h1M14 163.5h1M27 163.5h2M16 164.5h2M22 164.5h1M24 164.5h1M27 164.5h5M33 164.5h1M39 164.5h4M51 164.5h3M60 164.5h2M63 164.5h3M67 164.5h6M75 164.5h2M17 165.5h1M49 165.5h1M69 165.5h2M72 165.5h1M7 166.5h1M30 166.5h4M36 166.5h2M51 166.5h1M5 167.5h1M19 167.5h1M21 167.5h4M26 167.5h2M36 167.5h1M38 167.5h3M45 167.5h1M1 168.5h1M10 168.5h3M27 168.5h1M33 168.5h1M50 168.5h1M60 168.5h1M73 168.5h1M5 169.5h1M12 169.5h1M17 169.5h1M29 169.5h3M34 169.5h3M44 169.5h3M51 169.5h1M53 169.5h3M58 169.5h4M64 169.5h1M67 169.5h2M72 169.5h4M78 169.5h1M27 170.5h1M32 170.5h1M35 170.5h1M40 170.5h2M43 170.5h1M46 170.5h3M50 170.5h1M54 170.5h2M60 170.5h2M72 170.5h1M74 170.5h2M78 170.5h1M24 171.5h1M27 171.5h1M29 171.5h1M35 171.5h1M37 171.5h2M40 171.5h1M43 171.5h2M46 171.5h3M51 171.5h2M58 171.5h1M60 171.5h1M65 171.5h1M71 171.5h2M75 171.5h3M79 171.5h1M1 172.5h2M10 172.5h4M30 172.5h8M40 172.5h2M46 172.5h2M50 172.5h1M66 172.5h1M75 172.5h4M0 173.5h1M2 173.5h1M6 173.5h2M10 173.5h3M26 173.5h8M35 173.5h1M38 173.5h1M40 173.5h2M46 173.5h2M50 173.5h3M54 173.5h1M64 173.5h1M66 173.5h1M70 173.5h1M72 173.5h2M75 173.5h1M79 173.5h1M3 174.5h1M6 174.5h1M25 174.5h1M28 174.5h3M34 174.5h3M38 174.5h1M40 174.5h2M46 174.5h3M50 174.5h1M54 174.5h2M58 174.5h1M60 174.5h2M76 174.5h2M18 175.5h1M26 175.5h7M34 175.5h5M40 175.5h2M45 175.5h2M71 175.5h2M74 175.5h1M76 175.5h4M4 176.5h2M22 176.5h1M35 176.5h1M38 176.5h1M40 176.5h1M66 176.5h2M69 176.5h1M76 176.5h3M0 177.5h1M18 177.5h1M25 177.5h3M30 177.5h4M61 177.5h1M70 177.5h1M72 177.5h1M26 178.5h3M33 178.5h1M36 178.5h1M39 178.5h4M45 178.5h2M50 178.5h3M55 178.5h18M34 179.5h5M59 179.5h2M24 181.5h1M32 181.5h1M35 181.5h1M3 182.5h1M5 182.5h1M18 182.5h1M20 182.5h1M25 182.5h2M28 182.5h1M33 182.5h2M38 182.5h2M41 182.5h1M43 182.5h1M47 182.5h1M60 182.5h1M72 182.5h2M24 183.5h2M27 183.5h1M29 183.5h4M44 183.5h6M51 183.5h1M57 183.5h1M62 183.5h1M66 183.5h2M9 184.5h1M11 184.5h4M21 184.5h1M42 184.5h1M45 184.5h1M48 184.5h1M50 184.5h1M61 184.5h1M71 184.5h1M25 185.5h3M29 185.5h1M31 185.5h1M33 185.5h4M38 185.5h1M44 185.5h2M57 185.5h3M63 185.5h1M68 185.5h1M4 186.5h1M6 186.5h3M10 186.5h1M12 186.5h1M25 186.5h2M28 186.5h1M37 186.5h3M44 186.5h1M47 186.5h1M49 186.5h3M53 186.5h4M63 186.5h1M68 186.5h1M73 186.5h1M76 186.5h1M0 187.5h4M9 187.5h1M12 187.5h8M30 187.5h3M35 187.5h2M38 187.5h2M41 187.5h1M48 187.5h1M50 187.5h1M54 187.5h2M57 187.5h2M71 187.5h4M76 187.5h1M23 188.5h4M28 188.5h1M30 188.5h2M33 188.5h1M35 188.5h1M37 188.5h1M43 188.5h1M51 188.5h1M56 188.5h1M63 188.5h2M3 189.5h1M5 189.5h1M7 189.5h1M15 189.5h1M20 189.5h1M28 189.5h2M33 189.5h2M43 189.5h2M52 189.5h3M56 189.5h1M59 189.5h2M62 189.5h2M77 189.5h1M18 190.5h1M23 190.5h4M29 190.5h1M31 190.5h5M37 190.5h3M73 190.5h1M13 191.5h1M15 191.5h1M17 191.5h3M23 191.5h7M31 191.5h2M38 191.5h3M43 191.5h3M49 191.5h3M54 191.5h1M56 191.5h1M64 191.5h1M66 191.5h5M79 191.5h1M0 192.5h2M10 192.5h2M13 192.5h1M16 192.5h2M29 192.5h2M40 192.5h4M47 192.5h2M54 192.5h1M56 192.5h1M61 192.5h1M64 192.5h3M69 192.5h1M77 192.5h1M79 192.5h1M25 193.5h3M29 193.5h2M32 193.5h1M34 193.5h1M43 193.5h1M71 193.5h3M5 194.5h2M8 194.5h1M11 194.5h1M16 194.5h1M35 194.5h1M40 194.5h1M42 194.5h1M15 195.5h1M17 195.5h2M25 195.5h1M31 195.5h3M35 195.5h2M38 195.5h1M40 195.5h1M43 195.5h2M46 195.5h2M52 195.5h1M54 195.5h2M71 195.5h2M79 195.5h1M0 196.5h2M18 196.5h1M29 196.5h1M52 196.5h2M55 196.5h1M74 196.5h1M28 197.5h3M75 197.5h3M1 198.5h1M4 198.5h1M6 198.5h2M11 198.5h1M16 198.5h4M33 198.5h2M43 198.5h2M62 198.5h1M65 198.5h1M69 198.5h1M72 198.5h4M34 199.5h3M39 199.5h1M42 199.5h2M45 199.5h1M26 200.5h1M35 200.5h1M37 200.5h1M74 200.5h1M78 200.5h1M1 201.5h1M8 201.5h2M14 201.5h1M56 201.5h4M62 201.5h4M68 201.5h1M70 201.5h1M72 201.5h3M8 202.5h1M10 202.5h2M17 202.5h1M21 202.5h1M30 202.5h4M35 202.5h7M54 202.5h3M60 202.5h5M70 202.5h1M73 202.5h2M33 203.5h7M43 203.5h1M45 203.5h1M52 203.5h3M69 203.5h6M76 203.5h2M79 203.5h1M1 204.5h2M10 204.5h1M18 204.5h1M29 204.5h1M35 204.5h3M41 204.5h2M44 204.5h2M48 204.5h2M51 204.5h1M58 204.5h1M65 204.5h1M67 204.5h3M71 204.5h1M74 204.5h4M0 205.5h1M22 205.5h1M24 205.5h1M48 205.5h3M52 205.5h2M55 205.5h2M60 205.5h1M63 205.5h2M68 205.5h1M4 206.5h1M22 206.5h1M31 206.5h1M34 206.5h2M44 206.5h2M48 206.5h5M54 206.5h1M3 207.5h4M31 207.5h2M39 207.5h1M41 207.5h1M45 207.5h1M51 207.5h2M55 207.5h1M4 208.5h4M9 208.5h4M33 208.5h2M37 208.5h2M53 208.5h2M8 209.5h1M10 209.5h1M13 209.5h1M27 209.5h1M33 209.5h1M35 209.5h1M41 209.5h4M47 209.5h1M50 209.5h1M62 209.5h1M65 209.5h1M78 209.5h1M1 210.5h1M3 210.5h1M8 210.5h1M10 210.5h1M12 210.5h2M20 210.5h1M22 210.5h1M33 210.5h1M35 210.5h1M38 210.5h1M47 210.5h1M50 210.5h1M60 210.5h1M64 210.5h1M67 210.5h1M28 211.5h1M31 211.5h1M40 211.5h1M6 212.5h1M13 212.5h1M30 212.5h6M37 212.5h3M41 212.5h1M43 212.5h1M50 212.5h8M59 212.5h5M65 212.5h1M3 213.5h2M11 213.5h1M13 213.5h1M17 213.5h1M25 213.5h1M27 213.5h1M71 213.5h1M17 214.5h1M28 214.5h4M4 215.5h1M16 215.5h3M24 215.5h1M27 215.5h5M35 215.5h2M55 215.5h1M63 215.5h3M20 216.5h2M23 216.5h1M30 216.5h1M45 216.5h2M52 216.5h3M56 216.5h1M61 216.5h1M72 216.5h1M76 216.5h1M78 216.5h2M19 217.5h1M23 217.5h1M26 217.5h1M35 217.5h2M45 217.5h3M11 218.5h2M1 219.5h1M21 219.5h1M24 219.5h1M38 219.5h3M42 219.5h1M70 219.5h4M14 220.5h1M19 220.5h3M25 220.5h1M27 220.5h1M34 220.5h2M38 220.5h1M41 220.5h1M43 220.5h1M51 220.5h1M53 220.5h1M58 220.5h2M61 220.5h1M68 220.5h4M24 221.5h2M33 221.5h1M36 221.5h1M38 221.5h2M41 221.5h3M47 221.5h3M57 221.5h2M62 221.5h5M71 221.5h1M14 222.5h1M8 223.5h1M17 223.5h1M25 223.5h5M31 223.5h2M52 223.5h1M56 223.5h5M62 223.5h5M75 223.5h1M77 223.5h1M13 224.5h1M17 224.5h1M20 224.5h1M22 224.5h2M30 224.5h1M33 224.5h2M38 224.5h1M44 224.5h1M46 224.5h1M48 224.5h4M59 224.5h2M75 224.5h1M14 225.5h1M6 226.5h1M34 226.5h1M38 226.5h6M58 226.5h1M64 226.5h1M67 226.5h3M2 227.5h3M6 227.5h2M25 227.5h1M31 227.5h2M38 227.5h1M40 227.5h1M42 227.5h1M58 227.5h1M62 227.5h4M72 227.5h1M76 227.5h2M8 228.5h2M48 228.5h2M66 228.5h2M70 228.5h2M19 229.5h3M23 229.5h2M33 229.5h3M40 229.5h4M48 229.5h5M55 229.5h1M57 229.5h5M9 230.5h1M36 230.5h3M40 230.5h1M6 231.5h1M12 231.5h3M20 231.5h1M24 231.5h2M74 231.5h1M76 231.5h1M2 232.5h1M20 232.5h1M47 232.5h1M49 232.5h1M65 232.5h1M75 232.5h2M78 232.5h1M1 233.5h2M26 233.5h2M29 233.5h5M2 234.5h2M5 234.5h1M13 234.5h1M31 234.5h1M51 234.5h1M78 234.5h1M1 236.5h1M18 236.5h1M25 236.5h1M33 236.5h1M46 236.5h1M49 236.5h1M51 236.5h1M58 236.5h1M60 236.5h1M65 236.5h3M70 236.5h2M73 236.5h2M24 237.5h2M29 237.5h1M31 237.5h2M34 237.5h4M50 237.5h1M58 237.5h2M61 237.5h1M65 237.5h1M69 237.5h1M21 238.5h7M30 238.5h1M41 238.5h2M45 238.5h7M64 238.5h2M68 238.5h4M74 238.5h2M78 238.5h1M8 239.5h3M13 239.5h1M40 239.5h2M44 239.5h2M70 239.5h1M29 240.5h6M38 240.5h3M42 240.5h2M45 240.5h4M67 240.5h1M69 240.5h3M75 240.5h1M6 241.5h2M17 241.5h1M21 241.5h1M30 241.5h3M62 241.5h1M75 241.5h1M7 242.5h1M29 242.5h3M62 242.5h1M78 242.5h1M2 243.5h1M20 243.5h1M34 243.5h1M37 243.5h1M59 243.5h2M68 243.5h1M78 243.5h1M1 244.5h1M3 244.5h1M11 244.5h1M32 244.5h2M38 244.5h1M67 244.5h1M69 244.5h1M71 244.5h1M73 244.5h1M11 245.5h2M30 245.5h2M34 245.5h2M42 245.5h3M46 245.5h5M57 245.5h7M71 245.5h3M9 246.5h1M19 246.5h1M21 246.5h1M25 246.5h1M29 246.5h1M32 246.5h1M34 246.5h1M37 246.5h2M41 246.5h1M43 246.5h2M47 246.5h1M54 246.5h3M60 246.5h1M78 246.5h1M2 247.5h1M20 247.5h1M42 247.5h1M15 248.5h1M17 248.5h1M33 248.5h4M38 248.5h2M45 248.5h1M48 248.5h1M51 248.5h1M77 248.5h3M5 249.5h3M28 249.5h2M32 249.5h1M34 249.5h1M36 249.5h1M39 249.5h1M46 249.5h1M48 249.5h1M51 249.5h1M58 249.5h1M64 249.5h2M70 249.5h3M2 250.5h1M38 250.5h1M49 250.5h1M53 250.5h1M59 250.5h3M63 250.5h1M66 250.5h1M68 250.5h1M70 250.5h1M17 251.5h1M23 251.5h1M27 251.5h1M29 251.5h4M52 251.5h1M57 251.5h1M63 251.5h1M66 251.5h1M70 251.5h1M29 252.5h4M17 253.5h1M20 253.5h1M27 253.5h6M40 253.5h1M42 253.5h1M10 254.5h1M12 254.5h1M34 254.5h4M39 254.5h1M45 254.5h2M63 254.5h1M65 254.5h2M69 254.5h1M11 255.5h1M13 255.5h2M24 255.5h2M28 255.5h1M30 255.5h1M44 255.5h4M56 255.5h1M61 255.5h1M69 255.5h1M12 256.5h1M26 256.5h7M40 256.5h1M47 256.5h1M77 256.5h1M28 257.5h2M32 257.5h4M38 257.5h3M51 257.5h1M53 257.5h2M60 257.5h1M62 257.5h1M68 257.5h3M72 257.5h1M77 257.5h3M29 258.5h1M38 258.5h4M50 258.5h1M64 258.5h2M68 258.5h1M70 258.5h1M72 258.5h1M74 258.5h6M2 259.5h2M6 259.5h1M14 259.5h3M27 259.5h1M55 259.5h1M62 259.5h1M69 259.5h1M71 259.5h2M74 259.5h2M1 260.5h2M5 260.5h1M10 260.5h1M14 260.5h1M24 260.5h1M52 260.5h1M54 260.5h1M62 260.5h2M69 260.5h2M72 260.5h1M76 260.5h1M79 260.5h1M2 261.5h1M16 261.5h3M33 261.5h6M40 261.5h4M45 261.5h1M53 261.5h3M61 261.5h4M4 262.5h4M32 262.5h1M34 262.5h1M36 262.5h7M4 263.5h2M28 263.5h3M32 263.5h1M35 263.5h1M14 264.5h1M5 265.5h2M9 265.5h2M15 265.5h1M60 265.5h2M69 265.5h1M71 265.5h1M73 265.5h2M11 266.5h1M15 266.5h2M18 266.5h6M26 266.5h8M50 266.5h1M53 266.5h3M60 266.5h4M32 269.5h1M41 269.5h3M60 269.5h1M74 269.5h2M78 269.5h1M16 270.5h2M20 270.5h2M23 270.5h2M29 270.5h1M57 270.5h1M59 270.5h1M61 270.5h1M63 270.5h1M68 270.5h1M78 270.5h2M53 271.5h1M55 271.5h2M71 271.5h1"/>
<path stroke="#36c4a1" d="M12 0.5h1M35 0.5h1M51 0.5h1M56 0.5h1M72 0.5h1M42 1.5h1M54 1.5h1M75 1.5h2M4 2.5h2M17 2.5h2M4 3.5h1M6 3.5h1M17 3.5h1M19 4.5h1M34 4.5h1M38 4.5h1M41 4.5h1M51 4.5h1M2 5.5h1M21 5.5h1M16 6.5h1M18 6.5h1M37 6.5h1M51 6.5h1M57 6.5h1M25 7.5h1M72 7.5h1M74 7.5h1M3 8.5h1M11 8.5h1M14 8.5h1M21 8.5h1M26 8.5h2M3 9.5h1M22 9.5h1M49 10.5h1M51 10.5h1M53 10.5h1M69 10.5h2M16 11.5h1M21 11.5h1M25 11.5h1M2 12.5h1M8 12.5h1M10 12.5h1M59 12.5h1M76 12.5h1M2 13.5h1M4 13.5h1M6 13.5h1M26 13.5h1M4 14.5h2M10 14.5h1M13 14.5h1M22 14.5h2M26 14.5h1M5 15.5h1M19 15.5h1M25 15.5h2M52 15.5h1M58 15.5h1M62 15.5h1M1 16.5h2M8 16.5h3M14 16.5h1M24 16.5h1M73 16.5h1M78 16.5h1M0 17.5h1M10 17.5h1M0 18.5h2M4 18.5h1M14 18.5h1M23 18.5h2M54 18.5h1M68 18.5h1M75 18.5h1M16 19.5h1M19 19.5h1M61 19.5h1M73 19.5h2M76 19.5h1M7 20.5h2M19 20.5h1M28 20.5h1M42 20.5h2M77 20.5h1M14 21.5h1M18 21.5h1M21 21.5h1M11 22.5h2M59 22.5h1M10 23.5h1M12 23.5h1M14 23.5h3M53 23.5h1M57 23.5h1M61 23.5h1M78 23.5h1M7 24.5h1M66 24.5h1M73 24.5h2M12 25.5h2M72 25.5h2M78 25.5h1M4 26.5h1M15 26.5h1M20 26.5h1M26 26.5h1M48 26.5h2M55 26.5h1M59 26.5h1M65 26.5h1M68 26.5h1M73 26.5h1M3 27.5h3M8 27.5h1M12 27.5h1M14 27.5h1M16 27.5h1M38 27.5h1M46 27.5h1M53 27.5h1M74 27.5h1M76 27.5h4M25 28.5h1M75 28.5h1M7 29.5h2M12 29.5h1M59 29.5h1M66 29.5h1M70 29.5h1M4 30.5h1M7 30.5h1M16 30.5h1M22 30.5h1M60 30.5h1M67 30.5h1M69 30.5h1M71 30.5h1M73 30.5h1M49 31.5h1M78 31.5h1M3 32.5h1M14 32.5h1M20 32.5h1M63 32.5h1M15 33.5h1M69 33.5h1M72 33.5h1M0 34.5h1M75 34.5h2M16 35.5h1M19 35.5h1M23 35.5h1M38 35.5h2M46 35.5h3M68 35.5h1M9 36.5h1M40 36.5h2M67 36.5h1M76 36.5h1M12 37.5h1M33 37.5h1M36 37.5h1M55 37.5h1M65 37.5h1M77 37.5h3M1 38.5h1M43 38.5h1M51 38.5h1M57 38.5h1M65 38.5h1M0 39.5h1M12 39.5h1M23 39.5h1M26 39.5h1M36 39.5h2M46 39.5h1M51 39.5h1M53 39.5h1M56 39.5h3M66 39.5h1M78 39.5h1M17 40.5h1M23 40.5h1M45 40.5h1M51 40.5h1M67 40.5h2M71 40.5h2M2 41.5h1M5 41.5h1M19 41.5h1M57 41.5h1M60 41.5h2M1 42.5h2M6 42.5h1M14 42.5h1M17 42.5h1M19 42.5h1M21 42.5h1M39 42.5h1M42 42.5h1M49 42.5h1M52 42.5h1M64 42.5h1M78 42.5h1M24 43.5h1M27 43.5h1M51 43.5h1M57 43.5h1M59 43.5h2M77 43.5h1M7 44.5h2M10 44.5h1M15 44.5h1M21 44.5h1M23 44.5h1M8 45.5h3M20 45.5h1M22 45.5h2M59 45.5h1M2 46.5h1M10 46.5h1M12 46.5h1M24 46.5h1M26 46.5h2M55 46.5h1M59 46.5h1M61 46.5h1M64 46.5h1M73 46.5h1M75 46.5h1M10 47.5h1M12 47.5h2M16 47.5h3M35 47.5h1M40 47.5h1M43 47.5h1M58 47.5h2M62 47.5h1M64 47.5h1M7 48.5h1M10 48.5h1M66 48.5h1M0 49.5h1M12 49.5h1M19 49.5h1M65 49.5h2M73 49.5h1M77 49.5h1M0 50.5h1M5 50.5h1M8 50.5h1M64 50.5h1M12 51.5h1M17 51.5h1M20 51.5h1M41 51.5h2M44 51.5h1M0 52.5h1M44 52.5h1M54 52.5h1M56 52.5h1M59 52.5h1M64 53.5h1M68 53.5h2M78 53.5h1M6 54.5h1M28 54.5h1M36 54.5h1M2 55.5h1M17 55.5h1M6 56.5h2M10 56.5h1M14 56.5h1M72 56.5h1M2 57.5h1M5 57.5h1M18 58.5h3M25 58.5h2M48 58.5h1M53 58.5h1M55 58.5h2M59 58.5h1M61 58.5h1M70 58.5h1M0 59.5h1M7 59.5h1M9 59.5h1M20 59.5h1M31 59.5h1M50 59.5h2M55 59.5h1M7 60.5h1M21 60.5h1M26 60.5h1M34 60.5h1M38 60.5h1M46 60.5h1M56 60.5h1M25 61.5h1M28 61.5h1M52 61.5h1M63 61.5h1M69 61.5h1M5 62.5h1M8 62.5h1M10 62.5h1M12 62.5h2M22 62.5h1M62 62.5h1M65 62.5h1M74 62.5h1M77 62.5h1M8 63.5h1M10 63.5h1M25 63.5h1M28 63.5h1M38 63.5h1M40 63.5h1M73 63.5h1M25 64.5h3M32 64.5h1M38 64.5h1M44 64.5h1M48 64.5h1M52 64.5h1M60 64.5h1M68 64.5h1M76 64.5h1M79 64.5h1M10 65.5h1M15 65.5h1M50 65.5h1M54 65.5h1M71 65.5h1M1 66.5h1M16 66.5h1M26 66.5h2M29 66.5h1M31 66.5h1M43 66.5h1M10 67.5h2M24 67.5h1M27 67.5h1M62 67.5h2M66 67.5h1M76 67.5h2M7 68.5h2M15 68.5h4M49 68.5h1M51 68.5h1M59 68.5h1M75 68.5h1M79 68.5h1M7 69.5h1M10 69.5h1M27 69.5h1M74 69.5h2M77 69.5h1M79 69.5h1M26 70.5h1M57 70.5h1M69 70.5h1M71 70.5h2M23 71.5h1M59 71.5h1M61 71.5h2M71 71.5h2M79 71.5h1M3 72.5h1M6 72.5h1M46 72.5h2M58 72.5h1M60 72.5h1M63 72.5h1M79 72.5h1M8 73.5h2M21 73.5h1M26 73.5h1M47 73.5h1M50 73.5h1M57 73.5h1M61 73.5h1M64 73.5h1M75 73.5h1M11 74.5h1M39 74.5h1M67 74.5h1M2 75.5h1M4 75.5h2M19 75.5h2M25 75.5h3M49 75.5h2M54 75.5h2M57 75.5h2M61 75.5h3M66 75.5h3M6 76.5h1M8 76.5h1M19 76.5h1M24 76.5h1M31 76.5h1M33 76.5h1M55 76.5h1M57 76.5h1M78 76.5h1M22 77.5h1M49 77.5h1M59 77.5h1M67 77.5h1M72 77.5h1M3 78.5h1M41 78.5h1M48 78.5h1M55 78.5h2M61 78.5h1M67 78.5h6M16 79.5h1M31 79.5h1M34 79.5h1M37 79.5h1M41 79.5h1M43 79.5h1M50 79.5h1M0 80.5h1M9 80.5h2M12 80.5h1M14 80.5h2M43 80.5h1M45 80.5h1M49 80.5h1M57 80.5h2M6 81.5h1M48 81.5h1M56 81.5h2M60 81.5h1M63 81.5h1M66 81.5h1M3 82.5h2M12 82.5h2M21 82.5h2M26 82.5h1M37 82.5h1M56 82.5h1M64 82.5h1M67 82.5h2M2 83.5h1M4 83.5h1M11 83.5h1M34 83.5h2M41 83.5h1M43 83.5h1M53 83.5h1M4 84.5h1M7 84.5h2M10 84.5h1M12 84.5h1M15 84.5h2M53 84.5h2M75 84.5h1M19 85.5h1M22 85.5h1M41 85.5h1M44 85.5h1M46 85.5h1M72 85.5h1M20 86.5h1M24 86.5h1M55 86.5h1M57 86.5h1M63 86.5h1M66 86.5h1M68 86.5h1M71 86.5h2M76 86.5h2M22 87.5h1M47 87.5h1M49 87.5h1M55 87.5h2M58 87.5h1M63 87.5h2M66 87.5h3M73 87.5h1M78 87.5h1M23 88.5h1M25 88.5h1M46 88.5h1M51 88.5h1M54 88.5h1M69 88.5h1M73 88.5h1M75 88.5h1M4 89.5h1M18 89.5h2M25 89.5h1M32 89.5h2M36 89.5h1M2 90.5h1M6 90.5h1M8 90.5h1M16 90.5h1M25 90.5h1M38 90.5h1M41 90.5h1M59 90.5h1M63 90.5h1M21 91.5h2M27 91.5h2M41 91.5h2M53 91.5h1M56 91.5h1M69 91.5h1M26 92.5h2M29 92.5h1M37 92.5h2M44 92.5h1M49 92.5h1M52 92.5h1M65 92.5h1M71 92.5h1M2 93.5h2M9 93.5h1M15 93.5h2M27 93.5h2M53 93.5h1M56 93.5h1M58 93.5h1M71 93.5h2M9 94.5h1M11 94.5h1M18 94.5h1M20 94.5h1M36 94.5h1M39 94.5h1M57 94.5h1M72 94.5h3M76 94.5h1M0 95.5h1M7 95.5h1M9 95.5h2M12 95.5h1M17 95.5h1M30 95.5h1M42 95.5h1M48 95.5h1M50 95.5h1M56 95.5h1M58 95.5h3M19 96.5h1M21 96.5h1M25 96.5h1M29 96.5h1M32 96.5h1M3 97.5h1M11 97.5h1M26 97.5h1M31 97.5h1M34 97.5h1M37 97.5h1M41 97.5h1M48 97.5h1M53 97.5h1M56 97.5h1M60 97.5h1M72 97.5h1M76 97.5h1M23 98.5h1M27 98.5h2M33 98.5h3M39 98.5h1M68 98.5h1M76 98.5h1M15 99.5h2M20 99.5h5M5 100.5h3M29 100.5h1M43 100.5h2M49 100.5h1M74 100.5h1M5 101.5h3M26 101.5h1M45 101.5h1M48 101.5h1M52 101.5h1M56 101.5h1M72 101.5h1M4 102.5h3M8 102.5h1M15 102.5h1M20 102.5h2M23 102.5h1M29 102.5h1M50 102.5h1M11 103.5h1M14 103.5h1M45 103.5h1M47 103.5h1M50 103.5h1M53 103.5h1M55 103.5h1M59 103.5h3M69 103.5h1M79 103.5h1M42 104.5h1M44 104.5h2M51 104.5h1M53 104.5h1M74 104.5h1M76 104.5h2M26 105.5h1M35 105.5h1M51 105.5h1M68 105.5h2M77 105.5h1M4 106.5h1M6 106.5h1M8 106.5h1M11 106.5h1M14 106.5h1M16 106.5h1M18 106.5h1M21 106.5h1M24 106.5h1M30 106.5h1M32 106.5h1M43 106.5h2M51 106.5h2M75 106.5h1M79 106.5h1M11 107.5h1M13 107.5h1M17 107.5h1M19 107.5h1M28 107.5h1M31 107.5h1M35 107.5h2M38 107.5h1M47 107.5h1M51 107.5h1M62 107.5h1M69 107.5h1M71 107.5h1M75 107.5h1M78 107.5h2M11 108.5h1M13 108.5h1M31 108.5h1M39 108.5h4M45 108.5h1M54 108.5h2M76 108.5h1M30 109.5h3M48 109.5h2M59 109.5h2M62 109.5h1M64 109.5h1M15 110.5h1M19 110.5h1M32 110.5h1M46 110.5h4M67 110.5h3M15 111.5h1M18 111.5h1M20 111.5h1M30 111.5h1M34 111.5h1M37 111.5h1M42 111.5h2M48 111.5h1M57 111.5h1M59 111.5h1M65 111.5h6M72 111.5h1M18 112.5h1M27 112.5h1M40 112.5h2M43 112.5h2M48 112.5h1M50 112.5h6M78 112.5h1M33 113.5h1M40 113.5h2M45 113.5h1M49 113.5h1M63 113.5h1M32 114.5h1M34 114.5h1M41 114.5h1M49 114.5h1M63 114.5h1M25 115.5h2M28 115.5h2M47 115.5h3M53 115.5h4M68 115.5h4M74 115.5h1M79 115.5h1M19 116.5h1M26 116.5h1M31 116.5h2M34 116.5h1M36 116.5h1M68 116.5h2M12 117.5h1M14 117.5h1M16 117.5h1M21 117.5h2M25 117.5h1M27 117.5h2M34 117.5h3M42 117.5h1M46 117.5h2M49 117.5h1M55 117.5h1M58 117.5h1M61 117.5h1M63 117.5h1M70 117.5h1M73 117.5h2M78 117.5h1M41 118.5h2M44 118.5h1M53 118.5h2M56 118.5h1M20 119.5h2M29 119.5h1M46 119.5h4M52 119.5h2M57 119.5h1M59 119.5h1M63 119.5h1M0 120.5h1M3 120.5h1M8 120.5h1M32 120.5h1M37 120.5h1M43 120.5h1M51 120.5h2M64 120.5h1M72 120.5h1M10 121.5h1M13 121.5h2M38 121.5h1M40 121.5h2M43 121.5h4M48 121.5h1M24 122.5h1M26 122.5h7M1 123.5h1M26 123.5h1M29 124.5h3M53 124.5h3M64 124.5h1M67 124.5h1M73 124.5h2M31 125.5h3M42 125.5h1M44 125.5h1M46 125.5h2M49 125.5h2M55 125.5h1M57 125.5h1M69 125.5h5M0 126.5h1M19 126.5h1M21 126.5h1M28 126.5h1M38 126.5h2M47 126.5h1M51 126.5h1M53 126.5h1M0 127.5h1M37 127.5h1M50 127.5h1M55 127.5h1M57 127.5h1M59 127.5h1M24 128.5h1M30 128.5h1M33 128.5h1M35 128.5h1M40 128.5h1M48 128.5h2M57 128.5h1M31 129.5h1M38 129.5h2M52 129.5h2M57 129.5h2M67 129.5h2M70 129.5h1M1 130.5h1M30 130.5h2M33 130.5h1M3 131.5h3M7 131.5h3M25 131.5h1M50 131.5h2M61 131.5h2M16 132.5h1M9 133.5h2M32 133.5h1M37 133.5h1M44 133.5h1M46 133.5h2M49 133.5h1M61 133.5h1M73 133.5h1M79 133.5h1M29 134.5h1M31 134.5h1M45 134.5h1M55 134.5h2M66 134.5h1M70 134.5h1M72 134.5h1M12 135.5h1M14 135.5h1M29 135.5h1M42 135.5h1M64 135.5h1M69 135.5h1M73 135.5h1M17 136.5h1M31 136.5h1M37 136.5h1M48 136.5h1M56 136.5h1M60 136.5h2M63 136.5h2M67 136.5h1M69 136.5h4M74 136.5h3M13 137.5h1M26 137.5h1M43 137.5h1M58 137.5h1M61 137.5h1M63 137.5h2M66 137.5h1M4 138.5h1M6 138.5h1M21 138.5h1M38 138.5h1M47 138.5h1M49 138.5h1M25 139.5h1M27 139.5h1M41 139.5h2M21 140.5h2M24 140.5h1M26 140.5h1M58 140.5h2M62 140.5h1M26 141.5h1M29 141.5h1M44 141.5h1M68 141.5h1M70 141.5h1M72 141.5h1M29 142.5h1M3 143.5h1M20 143.5h1M22 143.5h1M26 143.5h1M34 143.5h1M46 143.5h1M50 143.5h1M55 143.5h3M61 143.5h1M15 144.5h3M19 144.5h1M22 144.5h2M26 145.5h1M32 145.5h3M39 145.5h2M42 145.5h1M66 145.5h2M3 146.5h4M10 146.5h4M24 146.5h2M31 146.5h1M34 146.5h1M53 146.5h2M57 146.5h1M9 147.5h1M32 147.5h1M34 147.5h1M39 147.5h1M41 147.5h1M45 147.5h1M47 147.5h1M56 147.5h2M63 147.5h1M10 148.5h2M13 148.5h1M23 148.5h1M41 148.5h2M49 148.5h1M55 148.5h7M4 149.5h3M29 149.5h3M34 149.5h1M40 149.5h2M48 149.5h1M24 150.5h1M28 150.5h2M31 150.5h1M39 150.5h1M29 151.5h1M47 151.5h1M53 151.5h1M69 151.5h2M28 152.5h1M32 152.5h1M34 152.5h2M38 152.5h4M47 152.5h3M9 154.5h1M11 154.5h1M15 154.5h1M29 154.5h1M35 155.5h5M41 155.5h2M45 155.5h1M49 155.5h2M53 155.5h1M56 155.5h1M16 156.5h2M19 156.5h2M22 156.5h1M46 156.5h2M50 156.5h2M54 156.5h5M66 156.5h1M77 156.5h3M29 157.5h1M48 157.5h1M5 158.5h1M30 158.5h2M33 158.5h3M37 158.5h3M55 158.5h3M72 158.5h1M17 160.5h1M24 160.5h1M36 160.5h1M40 160.5h1M45 160.5h4M51 160.5h2M55 160.5h1M57 160.5h1M62 160.5h1M29 161.5h1M35 161.5h5M55 161.5h2M60 161.5h2M71 161.5h1M43 164.5h4M48 164.5h3M66 164.5h1M73 164.5h2M34 166.5h2M6 167.5h1M25 167.5h1M22 168.5h1M31 168.5h1M38 168.5h1M44 168.5h2M61 168.5h1M74 168.5h2M38 169.5h1M42 169.5h1M62 169.5h2M71 169.5h1M31 170.5h1M36 170.5h3M71 170.5h1M73 170.5h1M28 171.5h1M39 171.5h1M41 171.5h1M53 171.5h1M55 171.5h3M78 171.5h1M29 172.5h1M53 173.5h1M55 173.5h3M74 173.5h1M76 173.5h3M26 174.5h2M31 174.5h3M49 174.5h1M59 174.5h1M33 175.5h1M73 175.5h1M6 176.5h1M13 176.5h2M36 176.5h1M68 176.5h1M71 176.5h1M28 177.5h2M34 177.5h1M29 178.5h4M34 178.5h2M37 178.5h2M43 178.5h2M47 178.5h1M53 178.5h2M25 181.5h2M33 181.5h1M19 182.5h1M27 182.5h1M29 182.5h1M40 182.5h1M42 182.5h1M26 183.5h1M28 183.5h1M10 184.5h1M24 184.5h1M46 184.5h1M51 184.5h1M56 184.5h5M39 185.5h2M43 185.5h1M60 185.5h1M62 185.5h1M5 186.5h1M9 186.5h1M11 186.5h1M27 186.5h1M29 186.5h1M31 186.5h3M35 186.5h2M41 186.5h3M48 186.5h1M57 186.5h4M62 186.5h1M69 186.5h4M34 187.5h1M40 187.5h1M51 187.5h3M34 188.5h1M40 188.5h3M54 188.5h2M17 189.5h1M19 189.5h1M35 189.5h2M38 189.5h5M64 189.5h1M17 190.5h1M30 190.5h1M36 190.5h1M30 191.5h1M37 191.5h1M41 191.5h2M65 191.5h1M12 192.5h1M31 192.5h1M35 192.5h1M38 192.5h1M45 192.5h2M49 192.5h1M55 192.5h1M70 192.5h1M75 192.5h1M78 192.5h1M28 193.5h1M31 193.5h1M41 194.5h1M34 195.5h1M41 195.5h2M77 195.5h2M31 196.5h1M41 196.5h1M70 196.5h3M76 196.5h1M78 196.5h2M35 198.5h1M38 198.5h2M41 198.5h2M67 198.5h1M40 199.5h2M75 200.5h3M0 201.5h1M57 202.5h3M75 203.5h1M5 204.5h2M50 204.5h1M52 204.5h1M54 204.5h4M59 204.5h1M64 204.5h1M70 204.5h1M54 205.5h1M65 205.5h1M33 206.5h1M40 206.5h1M47 206.5h1M55 206.5h1M33 207.5h2M38 207.5h1M40 207.5h1M42 207.5h3M35 208.5h2M1 209.5h1M4 209.5h2M7 209.5h1M25 209.5h2M63 209.5h1M0 210.5h1M2 210.5h1M34 210.5h1M36 210.5h1M44 210.5h3M51 210.5h1M8 211.5h1M10 211.5h1M29 211.5h1M33 211.5h2M37 211.5h1M39 211.5h1M41 211.5h2M50 211.5h1M7 212.5h5M36 212.5h1M40 212.5h1M42 212.5h1M46 212.5h4M58 212.5h1M26 213.5h1M66 215.5h1M25 216.5h2M55 216.5h1M73 216.5h1M75 216.5h1M77 216.5h1M41 219.5h1M13 220.5h1M15 220.5h1M22 220.5h3M36 220.5h1M39 220.5h1M42 220.5h1M54 220.5h4M30 223.5h1M47 224.5h1M4 226.5h2M36 229.5h4M77 232.5h1M79 232.5h1M3 233.5h1M17 236.5h1M19 236.5h2M47 236.5h2M59 236.5h1M61 236.5h1M72 236.5h1M17 237.5h1M26 237.5h3M33 237.5h1M44 237.5h2M70 237.5h4M43 238.5h2M41 240.5h1M44 240.5h1M35 243.5h1M6 244.5h4M37 244.5h1M70 244.5h1M28 245.5h2M33 245.5h1M11 246.5h1M23 246.5h1M39 246.5h2M42 246.5h1M46 246.5h1M53 246.5h1M57 246.5h2M66 246.5h2M71 246.5h1M37 249.5h2M47 249.5h1M49 249.5h2M52 249.5h6M66 249.5h4M46 250.5h1M48 250.5h1M50 250.5h1M52 250.5h1M54 250.5h3M58 250.5h1M69 250.5h1M67 254.5h1M36 257.5h2M61 257.5h1M69 258.5h1M52 259.5h3M58 259.5h2M70 259.5h1M73 259.5h1M11 260.5h1M53 260.5h1M57 260.5h1M74 260.5h2M56 261.5h5M35 262.5h1M11 265.5h4M33 265.5h2M72 265.5h1M24 266.5h2M44 269.5h1M18 270.5h2M22 270.5h1M40 270.5h1M62 270.5h1M69 270.5h3M75 270.5h1"/>
<path stroke="#42c894" d="M8 0.5h1M37 0.5h1M52 0.5h1M63 0.5h1M44 1.5h1M58 1.5h1M67 1.5h1M0 2.5h1M3 2.5h1M35 2.5h2M5 3.5h1M16 3.5h1M14 4.5h1M52 4.5h1M61 4.5h2M75 4.5h1M19 5.5h1M17 6.5h1M20 6.5h2M39 6.5h1M59 6.5h2M21 7.5h1M24 7.5h1M73 7.5h1M28 8.5h1M1 9.5h1M8 9.5h1M29 9.5h1M3 10.5h1M15 10.5h1M24 10.5h1M47 10.5h1M52 10.5h1M60 10.5h1M67 10.5h1M74 10.5h1M6 12.5h1M23 12.5h1M40 12.5h1M50 12.5h1M5 13.5h1M6 14.5h3M14 14.5h1M16 14.5h1M20 15.5h1M23 15.5h1M48 15.5h1M50 15.5h1M53 15.5h1M59 15.5h1M65 15.5h1M12 16.5h1M63 16.5h1M21 17.5h1M2 18.5h1M16 18.5h1M25 18.5h2M44 18.5h2M51 18.5h1M18 19.5h1M25 19.5h1M39 19.5h1M48 19.5h1M59 19.5h1M62 19.5h2M67 19.5h1M70 19.5h1M13 20.5h1M35 20.5h1M37 20.5h3M58 20.5h2M78 20.5h1M7 21.5h1M16 21.5h1M46 21.5h1M51 21.5h1M54 21.5h1M71 21.5h1M7 22.5h1M9 22.5h1M26 22.5h1M44 23.5h1M54 23.5h1M58 23.5h1M72 23.5h1M14 24.5h2M64 24.5h1M72 24.5h1M75 24.5h2M10 25.5h2M15 25.5h1M18 25.5h1M22 25.5h2M57 25.5h1M14 26.5h1M23 26.5h1M35 26.5h1M63 26.5h1M72 26.5h1M1 27.5h1M23 27.5h2M54 27.5h1M63 27.5h1M65 27.5h2M75 27.5h1M21 28.5h1M50 28.5h2M62 28.5h1M76 28.5h1M79 28.5h1M17 29.5h1M60 29.5h1M64 29.5h1M8 30.5h2M14 30.5h1M23 30.5h1M59 30.5h1M68 30.5h1M70 30.5h1M15 31.5h1M21 31.5h1M33 31.5h1M54 31.5h1M74 31.5h1M22 32.5h2M65 32.5h2M0 33.5h3M76 33.5h1M79 33.5h1M17 34.5h1M22 34.5h1M74 34.5h1M9 35.5h1M20 35.5h1M44 35.5h2M6 36.5h1M26 36.5h1M31 36.5h1M61 36.5h1M73 36.5h1M26 37.5h1M47 37.5h1M76 37.5h1M10 38.5h1M25 38.5h1M35 38.5h1M38 38.5h1M48 38.5h1M64 38.5h1M78 38.5h1M3 39.5h1M22 39.5h1M35 39.5h1M47 39.5h1M64 39.5h1M74 39.5h1M76 39.5h2M4 40.5h1M6 40.5h1M22 40.5h1M56 40.5h1M73 40.5h1M79 40.5h1M14 41.5h1M40 41.5h1M42 41.5h1M9 42.5h2M22 42.5h2M40 42.5h1M53 42.5h2M65 42.5h1M74 42.5h1M6 43.5h1M14 43.5h1M76 43.5h1M16 44.5h1M20 44.5h1M63 44.5h1M71 44.5h1M73 44.5h2M18 45.5h1M57 45.5h2M18 46.5h2M21 46.5h1M60 46.5h1M29 47.5h1M42 47.5h1M53 47.5h1M57 47.5h1M63 47.5h1M11 48.5h1M35 48.5h1M59 48.5h1M75 48.5h1M22 49.5h1M43 49.5h1M53 49.5h1M57 49.5h2M61 49.5h1M74 49.5h2M2 50.5h2M14 50.5h1M19 50.5h1M51 50.5h1M55 50.5h1M66 50.5h1M16 51.5h1M24 51.5h2M11 52.5h4M24 52.5h2M35 52.5h6M42 52.5h2M55 52.5h1M60 52.5h1M62 52.5h1M64 52.5h2M68 52.5h1M25 53.5h1M27 53.5h2M53 53.5h1M29 54.5h1M35 54.5h1M55 54.5h3M40 55.5h1M46 55.5h2M5 56.5h1M12 56.5h1M48 56.5h2M51 56.5h1M58 56.5h2M61 56.5h3M71 56.5h1M75 56.5h1M47 57.5h2M50 57.5h1M67 57.5h1M27 58.5h1M46 58.5h2M52 58.5h1M54 58.5h1M57 58.5h1M60 58.5h1M67 58.5h2M72 58.5h2M76 58.5h3M5 59.5h1M28 59.5h1M32 59.5h2M52 59.5h1M57 59.5h1M66 59.5h1M76 59.5h2M2 60.5h1M6 60.5h1M28 60.5h3M33 60.5h1M36 60.5h1M39 60.5h3M47 60.5h2M64 60.5h2M69 60.5h2M26 61.5h1M42 61.5h1M44 61.5h1M46 61.5h1M51 61.5h1M62 61.5h1M9 62.5h1M11 62.5h1M44 62.5h2M63 62.5h1M69 62.5h1M71 62.5h2M3 63.5h1M5 63.5h1M27 63.5h1M35 63.5h1M37 63.5h1M42 63.5h1M64 63.5h1M75 63.5h1M5 64.5h1M8 64.5h1M24 64.5h1M28 64.5h1M30 64.5h1M36 64.5h2M42 64.5h1M45 64.5h3M49 64.5h1M54 64.5h1M57 64.5h1M75 64.5h1M4 65.5h1M7 65.5h1M19 65.5h1M32 65.5h1M42 65.5h2M53 65.5h1M56 65.5h1M30 66.5h1M40 66.5h2M1 67.5h1M25 67.5h1M70 67.5h1M72 67.5h1M79 67.5h1M1 68.5h1M9 68.5h1M14 68.5h1M48 68.5h1M58 68.5h1M61 68.5h3M65 68.5h1M71 68.5h2M78 68.5h1M67 69.5h1M69 69.5h1M78 69.5h1M10 70.5h2M27 70.5h1M44 70.5h2M62 70.5h2M67 70.5h2M70 70.5h1M28 71.5h1M58 71.5h1M60 71.5h1M63 71.5h1M66 71.5h1M68 71.5h3M74 71.5h2M78 71.5h1M4 72.5h1M8 72.5h2M20 72.5h2M45 72.5h1M49 72.5h2M57 72.5h1M67 72.5h1M70 72.5h1M72 72.5h1M2 73.5h1M4 73.5h1M25 73.5h1M27 73.5h1M51 73.5h1M78 73.5h1M37 74.5h1M41 74.5h1M44 75.5h1M47 75.5h2M59 75.5h2M4 76.5h2M7 76.5h1M18 76.5h1M22 76.5h1M34 76.5h2M41 76.5h1M45 76.5h2M73 76.5h1M75 76.5h3M5 77.5h1M21 77.5h1M27 77.5h1M36 77.5h1M48 77.5h1M58 77.5h1M68 77.5h1M78 77.5h1M28 78.5h1M39 78.5h1M42 78.5h2M52 78.5h1M65 78.5h2M73 78.5h1M1 79.5h1M10 79.5h1M13 79.5h1M17 79.5h1M20 79.5h1M24 79.5h1M28 79.5h2M38 79.5h1M40 79.5h1M45 79.5h1M56 79.5h1M11 80.5h1M22 80.5h2M47 80.5h1M52 80.5h1M54 80.5h1M62 80.5h1M64 80.5h3M78 80.5h2M24 81.5h1M49 81.5h1M55 81.5h1M59 81.5h1M65 81.5h1M27 82.5h1M38 82.5h1M5 83.5h2M9 83.5h2M12 83.5h1M36 83.5h2M74 83.5h1M41 84.5h1M43 84.5h4M13 85.5h1M21 85.5h1M40 85.5h1M42 85.5h1M47 85.5h1M50 85.5h1M68 85.5h1M12 86.5h2M53 86.5h1M61 86.5h1M64 86.5h2M67 86.5h1M75 86.5h1M78 86.5h1M25 87.5h1M50 87.5h2M54 87.5h1M59 87.5h2M62 87.5h1M65 87.5h1M69 87.5h1M71 87.5h1M74 87.5h2M35 88.5h1M37 88.5h2M40 88.5h1M42 88.5h4M53 88.5h1M70 88.5h2M74 88.5h1M26 89.5h1M28 89.5h1M3 90.5h3M10 90.5h1M12 90.5h2M32 90.5h1M60 90.5h2M43 91.5h2M46 91.5h1M49 91.5h1M51 91.5h1M24 92.5h2M36 92.5h1M45 92.5h2M48 92.5h1M51 92.5h1M8 93.5h1M39 93.5h2M42 93.5h1M61 93.5h1M75 93.5h1M77 93.5h1M2 94.5h1M15 94.5h1M17 94.5h1M69 94.5h1M71 94.5h1M31 95.5h1M47 95.5h1M10 96.5h1M27 96.5h1M45 96.5h1M48 96.5h1M78 96.5h2M7 97.5h2M10 97.5h1M13 97.5h1M21 97.5h1M33 97.5h1M42 97.5h1M55 97.5h1M58 97.5h1M61 97.5h1M24 98.5h3M74 98.5h1M19 99.5h1M55 99.5h1M58 99.5h4M69 99.5h2M73 99.5h1M79 99.5h1M31 100.5h3M37 100.5h5M45 100.5h1M56 100.5h1M0 101.5h1M30 101.5h1M34 101.5h1M73 101.5h1M3 102.5h1M26 102.5h3M30 102.5h1M48 102.5h2M23 103.5h1M44 103.5h1M46 103.5h1M48 103.5h2M51 103.5h2M54 103.5h1M62 103.5h1M64 103.5h1M70 103.5h3M2 104.5h1M26 104.5h2M40 104.5h2M43 104.5h1M46 104.5h5M52 104.5h1M54 104.5h4M69 104.5h1M72 104.5h2M78 104.5h2M8 105.5h1M28 105.5h1M37 105.5h1M45 105.5h3M50 105.5h1M52 105.5h1M56 105.5h1M59 105.5h1M65 105.5h1M3 106.5h1M7 106.5h1M9 106.5h2M33 106.5h1M40 106.5h3M50 106.5h1M55 106.5h1M74 106.5h1M14 107.5h1M18 107.5h1M34 107.5h1M37 107.5h1M41 107.5h2M49 107.5h1M52 107.5h2M63 107.5h1M68 107.5h1M73 107.5h1M12 108.5h1M32 108.5h4M37 108.5h2M44 108.5h1M77 108.5h3M33 109.5h1M35 109.5h1M37 109.5h1M42 109.5h2M45 109.5h1M61 109.5h1M72 109.5h1M17 110.5h1M30 110.5h1M50 110.5h1M61 110.5h1M70 110.5h1M28 111.5h1M31 111.5h1M35 111.5h1M38 111.5h4M44 111.5h1M47 111.5h1M49 111.5h1M56 111.5h1M63 111.5h2M71 111.5h1M73 111.5h1M28 112.5h2M39 112.5h1M32 113.5h1M42 113.5h2M78 113.5h1M33 114.5h1M44 115.5h3M50 115.5h3M22 116.5h1M25 116.5h1M27 116.5h1M29 116.5h1M44 116.5h2M47 116.5h2M51 116.5h1M53 116.5h1M58 116.5h1M64 116.5h2M70 116.5h3M13 117.5h1M23 117.5h1M37 117.5h2M62 117.5h1M67 117.5h2M72 117.5h1M55 118.5h1M31 119.5h1M33 119.5h1M35 119.5h5M43 119.5h3M38 120.5h2M11 121.5h2M39 121.5h1M22 122.5h2M25 122.5h1M31 123.5h1M35 123.5h2M39 123.5h1M44 123.5h2M32 124.5h2M48 124.5h5M56 124.5h1M58 124.5h1M68 124.5h2M38 125.5h1M41 125.5h1M43 125.5h1M45 125.5h1M51 125.5h4M29 126.5h1M49 126.5h2M52 126.5h1M36 127.5h1M47 127.5h1M49 127.5h1M51 127.5h3M32 128.5h1M58 128.5h1M33 129.5h1M54 129.5h1M32 130.5h1M26 131.5h1M35 131.5h1M38 131.5h1M43 131.5h3M60 131.5h1M33 133.5h1M35 133.5h2M48 133.5h1M53 133.5h1M74 133.5h5M28 134.5h1M30 134.5h1M32 134.5h1M36 134.5h1M54 134.5h1M63 134.5h1M67 134.5h1M71 134.5h1M74 134.5h1M76 134.5h1M79 134.5h1M30 135.5h1M32 135.5h1M70 135.5h1M32 136.5h1M34 136.5h1M36 136.5h1M38 136.5h3M42 136.5h3M47 136.5h1M49 136.5h1M51 136.5h5M62 136.5h1M27 137.5h2M42 137.5h1M44 137.5h1M54 137.5h1M56 137.5h1M67 137.5h1M18 138.5h1M20 138.5h1M27 138.5h1M29 138.5h1M39 139.5h2M43 139.5h3M28 140.5h1M45 140.5h1M67 140.5h1M28 141.5h1M71 141.5h1M28 142.5h1M47 142.5h1M2 143.5h1M27 143.5h2M31 143.5h2M38 143.5h1M73 143.5h1M21 144.5h1M2 146.5h1M26 146.5h1M29 146.5h2M32 146.5h2M35 146.5h1M38 146.5h2M52 146.5h1M56 146.5h1M11 147.5h1M33 147.5h1M51 147.5h1M55 147.5h1M12 148.5h1M25 148.5h2M33 148.5h2M37 148.5h1M39 148.5h1M43 148.5h6M54 151.5h1M29 152.5h3M36 152.5h2M42 152.5h1M45 152.5h2M13 154.5h1M18 156.5h1M29 156.5h1M43 156.5h1M45 156.5h1M48 156.5h2M53 156.5h1M30 157.5h1M43 157.5h5M32 158.5h1M25 160.5h1M34 160.5h2M41 160.5h1M44 160.5h1M49 160.5h1M56 160.5h1M30 161.5h2M33 161.5h2M41 161.5h4M47 164.5h1M24 168.5h1M26 168.5h1M28 168.5h2M32 168.5h1M37 168.5h1M46 168.5h2M56 168.5h2M66 168.5h1M72 168.5h1M37 169.5h1M39 169.5h3M43 169.5h1M28 170.5h1M30 170.5h1M54 171.5h1M34 181.5h1M52 184.5h2M41 185.5h2M61 185.5h1M30 186.5h1M34 186.5h1M61 186.5h1M52 188.5h2M16 189.5h1M18 189.5h1M37 189.5h1M32 192.5h1M34 192.5h1M36 192.5h2M44 192.5h1M51 192.5h3M71 192.5h1M74 192.5h1M76 192.5h1M30 196.5h1M66 198.5h1M68 198.5h1M53 204.5h1M60 204.5h2M63 204.5h1M32 206.5h1M36 206.5h1M38 206.5h2M35 207.5h3M2 209.5h2M6 209.5h1M34 209.5h1M36 209.5h5M65 210.5h2M32 211.5h1M35 211.5h1M12 212.5h1M22 216.5h1M43 219.5h1M18 237.5h3M46 237.5h1M4 244.5h1M10 244.5h1M34 244.5h1M28 246.5h1M33 246.5h1M36 246.5h1M45 246.5h1M59 246.5h1M47 250.5h1M57 250.5h1M55 260.5h2M61 260.5h1M73 260.5h1M77 260.5h1M35 265.5h2M41 270.5h1M43 270.5h1M45 270.5h1M60 270.5h1M73 270.5h2"/>
<path stroke="#54ca84" d="M10 0.5h1M70 0.5h1M20 1.5h1M35 1.5h1M66 1.5h1M68 1.5h1M8 2.5h1M16 2.5h1M19 2.5h1M2 3.5h1M1 4.5h2M40 4.5h1M60 4.5h1M63 4.5h1M69 4.5h1M78 4.5h1M3 5.5h1M43 5.5h2M36 6.5h1M38 6.5h1M46 6.5h1M64 6.5h1M23 7.5h1M78 7.5h1M19 8.5h1M77 9.5h1M11 10.5h1M16 10.5h1M26 10.5h1M64 10.5h1M68 10.5h1M9 11.5h1M42 11.5h1M11 12.5h3M20 12.5h2M25 12.5h1M41 12.5h1M46 12.5h1M79 12.5h1M2 14.5h2M9 14.5h1M15 14.5h1M24 14.5h1M27 14.5h1M79 14.5h1M4 15.5h1M47 15.5h1M60 15.5h1M67 15.5h2M62 16.5h1M66 16.5h1M11 17.5h2M19 17.5h1M28 18.5h1M52 18.5h1M55 18.5h1M47 19.5h1M50 19.5h1M72 19.5h1M9 20.5h1M27 20.5h1M36 20.5h1M57 20.5h1M23 21.5h1M25 21.5h1M52 21.5h2M76 21.5h1M2 22.5h1M6 22.5h1M58 22.5h1M60 22.5h2M26 23.5h1M43 23.5h1M52 23.5h1M55 23.5h2M60 23.5h1M62 23.5h1M65 23.5h1M68 23.5h4M73 23.5h1M79 23.5h1M12 24.5h1M25 24.5h1M68 24.5h1M7 25.5h2M17 25.5h1M54 25.5h1M58 25.5h2M1 26.5h1M17 26.5h2M22 26.5h1M27 26.5h1M36 26.5h1M39 26.5h1M74 26.5h3M17 27.5h1M22 27.5h1M25 27.5h1M47 27.5h2M52 27.5h1M55 27.5h1M47 28.5h1M77 28.5h1M15 30.5h1M61 30.5h4M66 30.5h1M11 31.5h1M27 31.5h1M36 31.5h2M41 31.5h1M53 31.5h1M57 31.5h1M60 31.5h1M77 31.5h1M79 31.5h1M62 32.5h1M67 32.5h1M71 32.5h1M7 33.5h1M11 33.5h1M14 33.5h1M16 33.5h1M31 33.5h1M74 33.5h1M78 33.5h1M69 34.5h1M2 35.5h1M10 35.5h1M37 35.5h1M50 35.5h1M55 35.5h2M77 35.5h1M5 36.5h1M22 36.5h1M25 36.5h1M33 36.5h1M45 36.5h1M54 36.5h1M39 37.5h1M18 38.5h3M41 38.5h1M50 38.5h1M54 38.5h1M56 38.5h1M66 38.5h1M1 39.5h2M33 39.5h1M60 39.5h1M70 40.5h1M76 40.5h1M78 40.5h1M65 41.5h1M13 42.5h1M15 42.5h1M48 42.5h1M57 42.5h1M50 43.5h1M52 43.5h2M61 43.5h1M75 43.5h1M79 43.5h1M19 44.5h1M66 44.5h1M77 44.5h1M51 45.5h1M56 45.5h1M60 45.5h4M5 46.5h1M14 46.5h1M16 46.5h2M20 46.5h1M30 46.5h1M35 46.5h1M52 46.5h1M56 46.5h1M69 46.5h1M6 47.5h3M41 47.5h1M51 47.5h1M66 47.5h1M12 48.5h1M36 48.5h1M44 48.5h1M41 49.5h2M44 49.5h2M50 49.5h3M56 49.5h1M60 49.5h1M16 50.5h2M22 50.5h1M38 51.5h3M31 52.5h1M33 52.5h1M63 52.5h1M23 53.5h1M38 53.5h1M56 53.5h1M24 55.5h1M38 55.5h2M11 56.5h1M37 56.5h3M43 56.5h2M50 56.5h1M52 56.5h1M30 57.5h1M46 57.5h1M63 57.5h1M68 57.5h1M76 57.5h1M28 58.5h2M43 58.5h1M45 58.5h1M50 58.5h1M58 58.5h1M66 58.5h1M69 58.5h1M26 59.5h1M34 59.5h2M53 59.5h2M58 59.5h1M3 60.5h1M24 60.5h1M31 60.5h2M35 60.5h1M37 60.5h1M42 60.5h1M44 60.5h2M57 60.5h1M27 61.5h1M39 61.5h3M43 61.5h1M45 61.5h1M47 61.5h1M50 61.5h1M64 61.5h1M66 61.5h3M25 62.5h1M53 62.5h2M68 62.5h1M0 63.5h1M2 63.5h1M32 63.5h1M41 63.5h1M43 63.5h1M69 63.5h2M74 63.5h1M79 63.5h1M29 64.5h1M31 64.5h1M39 64.5h1M41 64.5h1M43 64.5h1M53 64.5h1M59 64.5h1M62 64.5h1M69 64.5h1M8 65.5h2M18 65.5h1M40 65.5h1M51 65.5h2M34 66.5h1M38 66.5h2M5 67.5h2M15 67.5h1M54 67.5h1M2 68.5h2M5 68.5h2M32 68.5h1M57 68.5h1M60 68.5h1M70 68.5h1M77 68.5h1M68 69.5h1M70 69.5h4M64 70.5h1M57 71.5h1M64 71.5h2M67 71.5h1M73 71.5h1M76 71.5h2M22 72.5h1M64 72.5h3M68 72.5h2M73 72.5h3M3 73.5h1M7 73.5h1M28 73.5h1M48 73.5h1M52 73.5h1M54 73.5h2M74 73.5h1M14 74.5h1M43 74.5h1M28 75.5h1M42 75.5h1M45 75.5h2M64 75.5h1M9 76.5h2M44 76.5h1M47 76.5h1M59 76.5h2M31 77.5h2M37 77.5h1M47 77.5h1M77 77.5h1M33 78.5h1M40 78.5h1M45 78.5h1M47 78.5h1M49 78.5h2M53 78.5h2M12 79.5h1M19 79.5h1M25 79.5h2M30 79.5h1M35 79.5h2M39 79.5h1M48 79.5h2M52 79.5h1M75 79.5h1M3 80.5h5M30 80.5h1M39 80.5h1M55 80.5h2M60 80.5h1M63 80.5h1M50 81.5h1M58 81.5h1M64 81.5h1M28 82.5h1M30 82.5h2M43 82.5h2M7 83.5h2M38 83.5h1M40 83.5h1M24 84.5h1M36 84.5h2M42 84.5h1M47 84.5h1M49 84.5h1M26 85.5h1M35 85.5h1M37 85.5h1M43 85.5h1M48 85.5h1M55 85.5h1M63 85.5h1M70 85.5h1M74 85.5h1M48 86.5h1M51 86.5h2M60 86.5h1M79 86.5h1M45 87.5h1M52 87.5h1M61 87.5h1M76 87.5h1M27 88.5h1M31 88.5h3M36 88.5h1M39 88.5h1M41 88.5h1M52 88.5h1M27 89.5h1M29 89.5h3M9 90.5h1M14 90.5h2M62 90.5h1M23 91.5h1M26 91.5h1M31 91.5h1M40 91.5h1M47 91.5h2M50 91.5h1M52 91.5h1M30 92.5h4M35 92.5h1M47 92.5h1M50 92.5h1M29 93.5h1M43 93.5h1M52 93.5h1M59 93.5h2M62 93.5h1M69 93.5h1M73 93.5h1M76 93.5h1M78 93.5h2M12 94.5h1M14 94.5h1M16 94.5h1M41 94.5h1M44 94.5h1M52 94.5h1M55 94.5h1M70 94.5h1M75 94.5h1M32 95.5h1M41 95.5h1M43 95.5h2M9 96.5h1M14 96.5h1M30 96.5h1M33 96.5h1M47 96.5h1M77 96.5h1M23 97.5h1M36 97.5h1M50 97.5h1M59 97.5h1M71 97.5h1M73 97.5h1M79 97.5h1M64 98.5h1M66 98.5h2M70 98.5h1M18 99.5h1M44 99.5h1M56 99.5h2M62 99.5h1M68 99.5h1M71 99.5h2M74 99.5h5M30 100.5h1M35 100.5h2M24 102.5h1M24 103.5h1M43 103.5h1M63 103.5h1M65 103.5h2M68 103.5h1M28 104.5h1M37 104.5h1M39 104.5h1M62 104.5h3M68 104.5h1M70 104.5h2M4 105.5h1M11 105.5h1M40 105.5h1M48 105.5h1M58 105.5h1M60 105.5h1M76 105.5h1M27 106.5h1M29 106.5h1M54 106.5h1M56 106.5h1M16 107.5h1M32 107.5h2M40 107.5h1M50 107.5h1M67 107.5h1M74 107.5h1M36 108.5h1M34 109.5h1M36 109.5h1M38 109.5h4M44 109.5h1M71 109.5h1M73 109.5h2M76 109.5h1M78 109.5h1M16 110.5h1M18 110.5h1M33 110.5h1M40 110.5h2M43 110.5h1M45 110.5h1M51 110.5h1M55 110.5h4M60 110.5h1M63 110.5h1M71 110.5h1M77 110.5h1M79 110.5h1M52 111.5h4M74 111.5h1M79 111.5h1M30 112.5h1M38 112.5h1M31 113.5h1M43 114.5h1M30 115.5h1M39 115.5h2M42 115.5h2M12 116.5h1M14 116.5h2M18 116.5h1M21 116.5h1M28 116.5h1M33 116.5h1M37 116.5h1M43 116.5h1M54 116.5h2M33 117.5h1M39 117.5h3M64 117.5h3M32 119.5h1M34 119.5h1M40 119.5h3M40 120.5h1M42 120.5h1M42 121.5h1M30 123.5h1M37 123.5h2M40 123.5h1M34 124.5h4M47 124.5h1M57 124.5h1M59 124.5h3M63 124.5h1M71 124.5h2M34 125.5h1M39 125.5h2M30 126.5h1M34 127.5h2M31 128.5h1M41 128.5h1M32 129.5h1M35 129.5h3M6 131.5h1M28 131.5h1M34 131.5h1M39 131.5h2M47 131.5h3M33 134.5h1M64 134.5h2M73 134.5h1M75 134.5h1M31 135.5h1M72 135.5h1M33 136.5h1M35 136.5h1M41 136.5h1M45 136.5h2M50 136.5h1M40 137.5h1M53 137.5h1M60 137.5h1M62 137.5h1M3 138.5h1M15 138.5h1M37 138.5h1M29 139.5h2M36 140.5h1M39 140.5h2M42 140.5h2M27 141.5h1M30 143.5h1M49 143.5h1M71 143.5h1M1 146.5h1M7 146.5h1M36 146.5h2M10 147.5h1M12 147.5h1M25 147.5h1M64 147.5h1M24 148.5h1M27 148.5h2M32 148.5h1M35 148.5h2M38 148.5h1M40 148.5h1M44 152.5h1M34 155.5h1M40 155.5h1M41 156.5h2M44 156.5h1M31 157.5h1M41 157.5h2M33 160.5h1M42 160.5h2M32 161.5h1M25 168.5h1M58 168.5h2M69 168.5h2M29 170.5h1M39 170.5h1M54 184.5h2M33 192.5h1M39 192.5h1M50 192.5h1M72 192.5h1M77 196.5h1M40 198.5h1M62 204.5h1M37 206.5h1M36 211.5h1M38 211.5h1M24 216.5h1M27 216.5h3M49 237.5h1M2 244.5h1M5 244.5h1M24 246.5h1M35 246.5h1M59 260.5h2M72 270.5h1"/>
<path stroke="#66cc74" d="M11 0.5h1M71 0.5h1M0 1.5h1M21 1.5h1M36 1.5h1M1 2.5h2M20 2.5h1M0 3.5h1M4 4.5h1M39 4.5h1M55 4.5h1M65 4.5h1M73 4.5h1M79 4.5h1M61 5.5h1M61 6.5h1M13 8.5h1M20 8.5h1M79 8.5h1M16 9.5h1M65 9.5h2M75 9.5h1M78 9.5h1M4 10.5h1M46 10.5h1M62 10.5h1M73 10.5h1M8 11.5h1M14 11.5h1M41 11.5h1M43 11.5h1M73 11.5h1M77 11.5h1M79 11.5h1M1 12.5h1M42 12.5h1M48 12.5h1M27 13.5h1M58 14.5h1M70 14.5h1M77 14.5h1M4 16.5h1M26 16.5h1M57 16.5h1M64 16.5h1M69 16.5h1M76 16.5h2M17 18.5h1M27 18.5h1M48 18.5h3M67 18.5h1M49 19.5h1M71 19.5h1M33 20.5h1M40 20.5h1M22 21.5h1M42 21.5h1M70 21.5h1M56 22.5h2M63 22.5h1M77 22.5h1M42 23.5h1M50 23.5h2M63 23.5h1M67 23.5h1M74 23.5h1M77 23.5h1M22 24.5h1M24 24.5h1M70 24.5h1M77 24.5h1M9 25.5h1M6 26.5h1M8 26.5h2M11 26.5h1M16 26.5h1M54 26.5h1M69 26.5h3M9 27.5h1M13 27.5h1M36 27.5h2M49 27.5h2M49 28.5h1M63 28.5h1M66 28.5h1M78 28.5h1M13 29.5h2M45 29.5h1M53 29.5h1M55 29.5h1M6 30.5h1M53 30.5h1M58 30.5h1M38 31.5h1M45 31.5h1M56 31.5h1M59 31.5h1M70 32.5h1M76 32.5h1M4 33.5h1M12 33.5h1M28 33.5h1M40 33.5h1M42 33.5h1M65 33.5h1M67 33.5h1M77 33.5h1M1 34.5h1M63 34.5h1M3 36.5h1M27 36.5h3M37 36.5h1M47 36.5h1M27 37.5h1M34 38.5h1M63 38.5h1M77 38.5h1M18 39.5h2M38 39.5h1M75 39.5h1M7 40.5h2M25 40.5h2M58 40.5h1M61 40.5h1M64 40.5h3M69 40.5h1M74 40.5h1M41 41.5h1M56 41.5h1M36 42.5h3M41 42.5h1M60 42.5h1M63 42.5h1M77 42.5h1M79 42.5h1M54 43.5h1M63 43.5h1M66 43.5h1M74 43.5h1M9 44.5h1M17 44.5h1M22 44.5h1M50 44.5h2M57 44.5h4M62 44.5h1M65 44.5h1M70 44.5h1M75 44.5h1M78 44.5h1M67 45.5h1M70 45.5h1M77 45.5h1M6 46.5h2M34 46.5h1M46 46.5h2M53 46.5h2M57 46.5h2M62 46.5h2M67 46.5h1M70 46.5h2M37 47.5h3M52 47.5h1M75 47.5h2M2 48.5h1M5 48.5h2M19 48.5h1M25 48.5h1M33 48.5h1M45 48.5h1M49 48.5h1M73 48.5h2M79 48.5h1M40 49.5h1M48 49.5h2M55 49.5h1M59 49.5h1M76 49.5h1M65 50.5h1M26 51.5h5M35 51.5h2M26 52.5h2M32 52.5h1M34 52.5h1M41 52.5h1M61 52.5h1M26 53.5h1M29 53.5h1M51 53.5h2M25 54.5h1M30 54.5h1M25 55.5h1M37 55.5h1M28 56.5h1M35 56.5h1M41 56.5h1M47 56.5h1M56 56.5h1M64 56.5h1M41 57.5h1M51 57.5h1M54 57.5h1M64 57.5h1M70 57.5h1M78 57.5h2M30 58.5h1M38 58.5h1M40 58.5h1M44 58.5h1M49 58.5h1M51 58.5h1M65 58.5h1M23 59.5h2M36 59.5h1M56 59.5h1M59 59.5h1M67 59.5h1M78 59.5h1M23 60.5h1M25 60.5h1M43 60.5h1M66 60.5h1M29 61.5h6M37 61.5h2M48 61.5h2M42 62.5h1M52 62.5h1M70 62.5h1M4 63.5h1M12 63.5h2M29 63.5h1M34 63.5h1M39 63.5h1M65 63.5h2M68 63.5h1M7 64.5h1M40 64.5h1M50 64.5h2M55 64.5h1M58 64.5h1M61 64.5h1M5 65.5h1M39 65.5h1M41 65.5h1M33 66.5h1M35 66.5h1M42 66.5h1M12 67.5h2M16 67.5h1M19 67.5h2M29 67.5h1M56 67.5h1M64 67.5h1M0 68.5h1M4 68.5h1M47 68.5h1M64 68.5h1M73 68.5h1M76 68.5h1M28 69.5h1M63 69.5h2M66 69.5h1M42 70.5h2M46 70.5h1M50 70.5h2M66 70.5h1M29 71.5h1M46 71.5h1M55 71.5h2M23 72.5h1M41 72.5h1M43 72.5h1M48 72.5h1M51 72.5h1M76 72.5h1M78 72.5h1M5 73.5h1M45 73.5h1M53 73.5h1M76 73.5h1M44 74.5h1M56 74.5h1M29 75.5h2M41 75.5h1M43 75.5h1M11 76.5h1M36 76.5h1M28 77.5h1M30 77.5h1M35 77.5h1M41 77.5h1M43 77.5h1M45 77.5h1M73 77.5h1M75 77.5h2M29 78.5h1M31 78.5h2M34 78.5h1M36 78.5h3M44 78.5h1M11 79.5h1M27 79.5h1M46 79.5h1M55 79.5h1M8 80.5h1M26 80.5h1M31 80.5h3M42 80.5h1M44 80.5h1M53 80.5h1M59 80.5h1M61 80.5h1M46 81.5h2M32 82.5h1M34 82.5h1M39 83.5h1M35 84.5h1M38 84.5h1M40 84.5h1M48 84.5h1M23 85.5h1M28 85.5h1M49 85.5h1M52 85.5h1M54 85.5h1M61 85.5h2M66 85.5h2M79 85.5h1M25 86.5h1M40 86.5h1M49 86.5h1M27 87.5h1M44 87.5h1M53 87.5h1M70 87.5h1M77 87.5h1M28 88.5h3M11 90.5h1M31 90.5h1M24 91.5h1M30 91.5h1M32 91.5h2M38 91.5h1M45 91.5h1M34 92.5h1M30 93.5h1M44 93.5h1M51 93.5h1M63 93.5h2M66 93.5h2M70 93.5h1M74 93.5h1M23 94.5h1M33 94.5h2M37 94.5h1M40 94.5h1M46 94.5h1M48 94.5h2M51 94.5h1M54 94.5h1M56 94.5h1M36 95.5h2M39 95.5h2M45 95.5h2M13 96.5h1M37 96.5h1M43 96.5h2M9 97.5h1M35 97.5h1M38 97.5h2M67 97.5h4M75 97.5h1M65 98.5h1M17 99.5h1M53 99.5h2M63 99.5h1M65 99.5h3M34 100.5h1M25 102.5h1M25 103.5h1M42 103.5h1M67 103.5h1M38 104.5h1M58 104.5h4M65 104.5h3M32 105.5h2M41 105.5h1M25 106.5h2M28 106.5h1M39 106.5h1M15 107.5h1M39 107.5h1M64 107.5h1M75 109.5h1M79 109.5h1M31 110.5h1M35 110.5h5M42 110.5h1M53 110.5h1M59 110.5h1M62 110.5h1M72 110.5h2M78 110.5h1M50 111.5h2M76 111.5h2M31 112.5h1M36 112.5h2M42 114.5h1M31 115.5h1M38 115.5h1M41 115.5h1M16 116.5h1M23 116.5h1M38 116.5h2M46 116.5h1M50 116.5h1M52 116.5h1M24 117.5h1M41 120.5h1M29 123.5h1M32 123.5h1M34 123.5h1M43 123.5h1M38 124.5h1M40 124.5h1M46 124.5h1M62 124.5h1M70 124.5h1M35 125.5h3M37 126.5h1M34 129.5h1M27 131.5h1M42 131.5h1M46 131.5h1M77 134.5h2M29 137.5h1M41 137.5h1M45 137.5h2M48 137.5h5M59 137.5h1M34 138.5h1M33 139.5h1M36 139.5h1M38 139.5h1M29 140.5h3M33 140.5h3M41 140.5h1M21 143.5h1M39 143.5h1M44 143.5h1M47 143.5h2M76 143.5h2M79 143.5h1M55 146.5h1M23 147.5h2M38 147.5h1M49 147.5h1M52 147.5h1M54 147.5h1M68 147.5h1M29 148.5h2M43 152.5h1M33 155.5h1M30 156.5h2M33 156.5h2M37 156.5h2M40 156.5h1M38 157.5h3M31 160.5h2M30 168.5h1M52 168.5h4M62 168.5h1M64 168.5h1M67 168.5h2M73 192.5h1M47 237.5h2M58 260.5h1M42 270.5h1M44 270.5h1"/>
<path stroke="#79cc65" d="M57 1.5h1M12 2.5h1M14 2.5h1M1 3.5h1M53 4.5h1M0 5.5h1M20 5.5h1M41 5.5h2M0 6.5h1M40 6.5h3M45 6.5h1M50 6.5h1M58 6.5h1M52 7.5h1M75 7.5h1M15 8.5h2M61 8.5h1M64 8.5h1M78 8.5h1M67 9.5h2M76 9.5h1M79 9.5h1M12 10.5h1M14 10.5h1M45 10.5h1M48 10.5h1M63 10.5h1M7 11.5h1M40 11.5h1M44 11.5h2M48 11.5h1M60 11.5h1M65 11.5h1M72 11.5h1M78 11.5h1M7 12.5h1M24 12.5h1M43 12.5h1M45 12.5h1M67 14.5h3M73 14.5h1M75 14.5h2M24 15.5h1M46 15.5h1M74 15.5h1M7 16.5h1M20 16.5h1M25 16.5h1M27 16.5h1M58 16.5h2M61 16.5h1M65 16.5h1M67 16.5h2M79 16.5h1M20 17.5h1M62 17.5h3M29 18.5h1M41 18.5h2M65 18.5h2M76 18.5h2M40 19.5h2M46 19.5h1M23 20.5h1M29 20.5h1M32 20.5h1M41 20.5h1M44 20.5h1M24 21.5h1M45 21.5h1M72 21.5h1M74 21.5h1M4 22.5h1M27 22.5h1M53 22.5h1M69 22.5h1M27 23.5h1M64 23.5h1M75 23.5h2M8 24.5h1M23 24.5h1M56 24.5h1M24 25.5h1M47 25.5h2M51 25.5h1M53 25.5h1M24 26.5h2M34 26.5h1M37 26.5h2M47 26.5h1M77 26.5h1M26 27.5h1M29 27.5h1M31 27.5h1M51 27.5h1M6 28.5h1M42 28.5h1M48 28.5h1M6 29.5h1M16 29.5h1M24 29.5h1M50 29.5h1M52 29.5h1M58 29.5h1M52 30.5h1M54 30.5h1M26 31.5h1M28 31.5h1M39 31.5h1M44 31.5h1M61 31.5h1M24 32.5h1M47 32.5h1M64 32.5h1M69 32.5h1M72 32.5h1M75 32.5h1M78 32.5h1M3 33.5h1M5 33.5h1M27 33.5h1M30 33.5h1M41 33.5h1M51 33.5h2M54 33.5h1M61 33.5h1M65 34.5h1M73 34.5h1M77 34.5h1M3 35.5h1M13 35.5h1M18 35.5h1M0 36.5h1M8 36.5h1M34 36.5h1M46 36.5h1M55 36.5h1M32 37.5h1M49 38.5h1M55 38.5h1M75 38.5h2M79 38.5h1M34 39.5h1M65 39.5h1M5 40.5h1M18 40.5h2M24 40.5h1M44 40.5h1M57 40.5h1M62 40.5h2M23 41.5h1M27 41.5h1M37 41.5h1M39 41.5h1M63 41.5h2M12 42.5h1M61 42.5h1M28 43.5h1M49 43.5h1M55 43.5h1M18 44.5h1M24 44.5h1M52 44.5h1M61 44.5h1M64 44.5h1M67 44.5h1M69 44.5h1M24 45.5h1M50 45.5h1M52 45.5h2M55 45.5h1M68 45.5h2M78 45.5h2M31 46.5h3M41 46.5h2M51 46.5h1M65 46.5h1M67 47.5h1M77 47.5h3M3 48.5h1M13 48.5h1M32 48.5h1M38 48.5h1M54 49.5h1M20 50.5h2M37 51.5h1M28 52.5h1M30 52.5h1M47 53.5h1M62 53.5h2M22 54.5h3M27 54.5h1M36 56.5h1M40 56.5h1M42 56.5h1M45 56.5h2M54 56.5h1M57 56.5h1M68 56.5h2M77 56.5h1M39 57.5h2M44 57.5h1M49 57.5h1M60 57.5h1M72 57.5h1M36 58.5h1M39 58.5h1M41 58.5h2M62 58.5h1M27 59.5h1M37 59.5h1M45 59.5h1M49 59.5h1M73 59.5h1M75 59.5h1M4 60.5h1M22 60.5h1M68 60.5h1M36 61.5h1M65 61.5h1M26 62.5h1M40 62.5h2M43 62.5h1M46 62.5h1M51 62.5h1M6 64.5h1M73 64.5h2M6 65.5h1M32 66.5h1M7 67.5h1M28 67.5h1M48 67.5h1M50 67.5h1M55 67.5h1M57 67.5h1M74 68.5h1M60 69.5h1M62 69.5h1M65 69.5h1M28 70.5h1M47 70.5h3M52 70.5h1M54 70.5h3M65 70.5h1M30 71.5h1M42 71.5h4M47 71.5h2M50 71.5h2M25 72.5h1M42 72.5h1M44 72.5h1M52 72.5h1M56 72.5h1M6 73.5h1M29 73.5h1M44 73.5h1M46 73.5h1M77 73.5h1M2 74.5h1M10 74.5h1M50 74.5h1M31 75.5h2M37 76.5h1M40 76.5h1M38 77.5h1M46 77.5h1M74 77.5h1M30 78.5h1M35 78.5h1M46 78.5h1M18 79.5h1M53 79.5h2M25 80.5h1M27 80.5h1M41 80.5h1M25 81.5h1M33 82.5h1M39 82.5h4M25 84.5h1M34 84.5h1M39 84.5h1M38 85.5h1M53 85.5h1M64 85.5h1M34 86.5h1M43 86.5h5M43 87.5h1M34 88.5h1M25 91.5h1M35 91.5h1M37 91.5h1M31 93.5h1M38 93.5h1M49 93.5h2M68 93.5h1M24 94.5h1M47 94.5h1M50 94.5h1M33 95.5h1M38 95.5h1M11 96.5h1M31 96.5h1M38 96.5h1M40 96.5h1M42 96.5h1M54 97.5h1M62 97.5h2M74 97.5h1M25 99.5h2M36 99.5h2M43 99.5h1M49 99.5h2M52 99.5h1M64 99.5h1M26 103.5h1M41 103.5h1M29 104.5h2M34 104.5h3M42 105.5h1M44 105.5h1M53 106.5h1M65 107.5h2M77 109.5h1M34 110.5h1M44 110.5h1M52 110.5h1M54 110.5h1M74 110.5h3M75 111.5h1M78 111.5h1M32 112.5h4M32 115.5h4M37 115.5h1M13 116.5h1M17 116.5h1M24 116.5h1M40 116.5h1M42 116.5h1M49 116.5h1M41 123.5h2M39 124.5h1M41 124.5h2M44 124.5h1M31 126.5h1M36 126.5h1M29 131.5h1M32 131.5h2M41 131.5h1M53 134.5h1M68 134.5h2M36 137.5h2M39 137.5h1M47 137.5h1M30 138.5h1M32 138.5h2M36 138.5h1M31 139.5h2M34 139.5h2M32 140.5h1M37 140.5h1M44 140.5h1M42 143.5h2M13 147.5h1M53 147.5h1M31 148.5h1M29 155.5h1M32 156.5h1M36 156.5h1M39 156.5h1M32 157.5h2M26 160.5h3M30 160.5h1M39 168.5h1M43 168.5h1M51 168.5h1M63 168.5h1M71 168.5h1"/>
<path stroke="#8cca58" d="M10 2.5h2M54 4.5h1M57 4.5h3M16 5.5h2M37 5.5h1M62 5.5h2M34 6.5h2M49 6.5h1M29 7.5h1M51 7.5h1M77 7.5h1M62 9.5h1M64 9.5h1M74 9.5h1M8 10.5h2M50 10.5h1M59 10.5h1M10 11.5h1M12 11.5h2M46 11.5h2M57 11.5h2M61 11.5h1M75 11.5h1M27 12.5h1M44 12.5h1M47 12.5h1M55 14.5h3M59 14.5h1M66 14.5h1M71 14.5h2M74 14.5h1M78 14.5h1M6 16.5h1M42 16.5h4M54 16.5h1M60 16.5h1M17 17.5h2M25 17.5h1M54 17.5h2M33 18.5h1M37 18.5h2M46 18.5h2M26 19.5h2M38 19.5h1M42 19.5h2M45 19.5h1M18 20.5h1M25 20.5h1M38 21.5h2M41 21.5h1M73 21.5h1M3 22.5h1M5 22.5h1M62 22.5h1M75 22.5h2M78 22.5h1M45 23.5h3M59 23.5h1M66 23.5h1M9 24.5h3M69 24.5h1M16 25.5h1M44 25.5h1M49 25.5h2M13 26.5h1M28 26.5h1M78 26.5h1M28 27.5h1M32 27.5h1M34 27.5h2M39 28.5h3M43 28.5h1M46 28.5h1M65 28.5h1M54 29.5h1M56 29.5h1M51 30.5h1M55 30.5h1M14 31.5h1M55 31.5h1M27 32.5h1M48 32.5h1M44 33.5h1M53 33.5h1M63 33.5h1M28 34.5h1M62 34.5h1M67 34.5h2M70 34.5h1M78 34.5h1M5 35.5h1M7 35.5h2M17 35.5h1M27 35.5h1M58 35.5h1M78 35.5h1M4 36.5h1M7 36.5h1M36 36.5h1M26 38.5h2M67 38.5h1M27 39.5h1M32 39.5h1M59 40.5h1M75 40.5h1M77 40.5h1M62 41.5h1M34 42.5h1M55 42.5h1M59 42.5h1M8 43.5h1M32 43.5h1M70 43.5h1M73 43.5h1M56 44.5h1M79 44.5h1M49 45.5h1M64 45.5h1M13 46.5h1M36 46.5h1M43 46.5h2M66 46.5h1M68 46.5h1M65 47.5h1M69 47.5h1M4 48.5h1M14 48.5h1M16 48.5h1M64 48.5h1M69 48.5h1M23 49.5h1M39 49.5h1M46 49.5h2M31 51.5h1M33 51.5h2M39 53.5h2M50 53.5h1M65 53.5h1M12 54.5h1M26 54.5h1M67 56.5h1M70 56.5h1M78 56.5h1M45 57.5h1M52 57.5h2M71 57.5h1M31 58.5h1M35 58.5h1M63 58.5h2M4 59.5h1M38 59.5h1M46 59.5h1M74 59.5h1M79 59.5h1M67 60.5h1M35 61.5h1M27 62.5h2M37 62.5h1M47 62.5h2M50 62.5h1M1 63.5h1M30 63.5h2M33 64.5h2M56 64.5h1M36 66.5h2M4 67.5h1M14 67.5h1M18 67.5h1M45 67.5h1M51 67.5h1M65 67.5h1M55 69.5h1M58 69.5h2M61 69.5h1M38 70.5h4M53 70.5h1M49 71.5h1M52 71.5h1M54 71.5h1M24 72.5h1M36 72.5h1M40 72.5h1M77 72.5h1M36 73.5h1M1 74.5h1M19 74.5h1M38 74.5h1M49 74.5h1M33 75.5h1M38 76.5h1M33 77.5h2M40 77.5h1M44 77.5h1M44 79.5h1M47 79.5h1M24 80.5h1M34 80.5h1M37 80.5h2M40 80.5h1M32 84.5h2M27 85.5h1M36 85.5h1M39 85.5h1M65 85.5h1M73 85.5h1M78 85.5h1M26 86.5h1M39 86.5h1M50 86.5h1M42 87.5h1M30 90.5h1M32 93.5h3M36 93.5h2M46 93.5h3M32 94.5h1M53 94.5h1M34 95.5h2M12 96.5h1M34 96.5h1M41 96.5h1M46 96.5h1M66 97.5h1M78 97.5h1M27 99.5h1M39 99.5h1M41 99.5h2M48 99.5h1M51 99.5h1M40 103.5h1M32 104.5h1M30 105.5h1M43 105.5h1M49 105.5h1M36 115.5h1M41 116.5h1M33 123.5h1M43 124.5h1M45 124.5h1M33 126.5h1M30 131.5h1M30 137.5h1M35 137.5h1M38 137.5h1M31 138.5h1M38 140.5h1M29 143.5h1M40 143.5h1M78 143.5h1M35 147.5h1M37 147.5h1M65 147.5h1M67 147.5h1M32 155.5h1M35 156.5h1M34 157.5h1M37 157.5h1M29 160.5h1M40 168.5h1M42 168.5h1"/>
<path stroke="#9fc84b" d="M9 2.5h1M13 2.5h1M15 2.5h1M3 4.5h1M56 4.5h1M66 4.5h2M47 6.5h2M62 6.5h2M50 7.5h1M53 7.5h1M29 8.5h1M59 8.5h2M66 8.5h1M70 8.5h1M69 9.5h1M5 10.5h2M58 10.5h1M61 10.5h1M11 11.5h1M27 11.5h1M49 11.5h1M54 11.5h2M35 12.5h3M60 14.5h2M63 14.5h2M27 15.5h1M75 15.5h1M5 16.5h1M28 16.5h1M53 16.5h1M56 16.5h1M26 17.5h1M53 17.5h1M65 17.5h1M40 18.5h1M64 18.5h1M16 20.5h1M20 20.5h3M26 20.5h1M31 20.5h1M28 22.5h1M34 22.5h2M37 22.5h1M39 22.5h1M47 22.5h2M50 22.5h2M55 22.5h1M64 22.5h1M68 22.5h1M70 22.5h1M41 23.5h1M48 23.5h2M26 25.5h1M52 25.5h1M0 26.5h1M12 26.5h1M29 26.5h1M45 28.5h1M64 28.5h1M43 29.5h1M47 29.5h1M49 29.5h1M57 29.5h1M56 30.5h2M29 31.5h1M42 31.5h1M25 32.5h2M28 32.5h1M45 32.5h1M52 32.5h1M58 32.5h1M73 32.5h1M8 33.5h1M17 33.5h1M29 33.5h1M59 33.5h1M62 33.5h1M23 34.5h1M64 34.5h1M66 34.5h1M79 34.5h1M6 35.5h1M11 35.5h2M54 35.5h1M57 35.5h1M1 36.5h2M23 36.5h1M28 37.5h2M31 37.5h1M33 38.5h1M40 38.5h1M60 40.5h1M24 41.5h1M35 42.5h1M56 42.5h1M62 42.5h1M11 43.5h3M31 43.5h1M48 43.5h1M62 43.5h1M64 43.5h1M69 43.5h1M49 44.5h1M55 44.5h1M25 45.5h1M48 45.5h1M54 45.5h1M65 45.5h2M40 46.5h1M45 46.5h1M48 46.5h1M50 46.5h1M44 47.5h1M46 47.5h1M68 47.5h1M74 47.5h1M0 48.5h1M15 48.5h1M17 48.5h1M34 48.5h1M78 48.5h1M32 51.5h1M29 52.5h1M49 53.5h1M54 53.5h1M28 55.5h1M34 55.5h1M36 55.5h1M53 56.5h1M66 56.5h1M76 56.5h1M79 56.5h1M66 57.5h1M74 57.5h2M32 58.5h3M37 58.5h1M25 59.5h1M43 59.5h2M68 59.5h2M72 59.5h1M38 62.5h1M67 63.5h1M70 64.5h1M72 64.5h1M33 65.5h2M38 65.5h1M2 67.5h2M17 67.5h1M31 67.5h1M34 68.5h1M45 68.5h1M29 69.5h1M53 69.5h2M57 69.5h1M31 71.5h1M39 71.5h3M53 71.5h1M39 72.5h1M53 72.5h1M55 72.5h1M30 73.5h1M35 73.5h1M42 73.5h1M0 74.5h1M51 74.5h1M34 75.5h1M39 76.5h1M39 77.5h1M42 77.5h1M29 80.5h1M35 80.5h2M26 81.5h1M29 82.5h1M31 84.5h1M34 85.5h1M69 85.5h1M33 86.5h1M35 86.5h1M37 86.5h2M41 86.5h2M39 87.5h1M41 87.5h1M34 91.5h1M36 91.5h1M35 93.5h1M45 93.5h1M65 93.5h1M30 94.5h2M45 94.5h1M36 96.5h1M39 96.5h1M24 97.5h2M64 97.5h2M77 97.5h1M35 99.5h1M38 99.5h1M45 99.5h2M27 103.5h1M31 104.5h1M33 104.5h1M29 105.5h1M31 105.5h1M32 126.5h1M34 126.5h2M31 131.5h1M31 137.5h1M33 137.5h2M35 138.5h1M37 139.5h1M41 143.5h1M45 143.5h1M36 147.5h1M66 147.5h1M35 157.5h2M41 168.5h1"/>
<path stroke="#b0c541" d="M40 5.5h1M64 5.5h1M49 7.5h1M54 7.5h1M58 7.5h2M63 8.5h1M63 9.5h1M13 10.5h1M27 10.5h1M38 11.5h2M52 11.5h1M59 11.5h1M74 11.5h1M76 11.5h1M39 12.5h1M28 14.5h1M54 14.5h1M62 14.5h1M65 14.5h1M45 15.5h1M73 15.5h1M76 15.5h1M40 16.5h2M51 16.5h1M30 18.5h1M34 18.5h1M36 18.5h1M58 18.5h1M63 18.5h1M78 18.5h1M44 19.5h1M14 20.5h2M17 20.5h1M30 20.5h1M26 21.5h1M44 21.5h1M52 22.5h1M54 22.5h1M65 22.5h1M67 22.5h1M71 22.5h1M79 22.5h1M30 23.5h1M39 23.5h1M26 24.5h1M63 24.5h1M78 24.5h2M43 25.5h1M45 25.5h2M6 27.5h1M27 27.5h1M30 27.5h1M26 28.5h1M38 28.5h1M44 28.5h1M46 29.5h1M48 29.5h1M51 29.5h1M50 30.5h1M23 31.5h1M25 31.5h1M32 31.5h1M41 32.5h2M44 32.5h1M46 32.5h1M49 32.5h3M68 32.5h1M74 32.5h1M77 32.5h1M79 32.5h1M9 33.5h2M39 33.5h1M43 33.5h1M57 33.5h2M64 33.5h1M58 34.5h1M71 34.5h1M4 35.5h1M33 35.5h1M65 35.5h1M69 35.5h1M79 35.5h1M24 36.5h1M35 36.5h1M29 38.5h1M39 40.5h1M38 41.5h1M10 43.5h1M33 43.5h1M41 43.5h1M43 43.5h1M65 43.5h1M67 43.5h1M25 44.5h2M48 44.5h1M53 44.5h1M68 44.5h1M26 45.5h1M37 46.5h3M49 46.5h1M45 47.5h1M50 47.5h1M72 47.5h2M1 48.5h1M18 48.5h1M31 48.5h1M43 48.5h1M70 48.5h1M72 48.5h1M38 49.5h1M23 50.5h1M50 50.5h1M37 53.5h1M26 55.5h2M33 55.5h1M35 55.5h1M30 56.5h1M32 56.5h1M34 56.5h1M31 57.5h1M42 57.5h1M56 57.5h1M62 57.5h1M65 57.5h1M73 57.5h1M39 59.5h4M70 59.5h1M36 62.5h1M39 62.5h1M49 62.5h1M71 63.5h1M76 63.5h1M78 63.5h1M71 64.5h1M35 65.5h1M43 67.5h2M52 67.5h1M35 68.5h1M44 68.5h1M46 68.5h1M51 69.5h2M56 69.5h1M29 70.5h1M32 71.5h1M34 71.5h5M32 72.5h1M35 72.5h1M37 72.5h2M54 72.5h1M31 73.5h1M43 73.5h1M52 74.5h2M36 75.5h1M38 75.5h3M28 80.5h1M41 81.5h3M75 85.5h2M28 86.5h1M36 86.5h1M36 87.5h1M40 87.5h1M35 96.5h1M12 97.5h1M34 99.5h1M40 99.5h1M47 99.5h1M28 103.5h1M39 103.5h1M32 137.5h1M30 155.5h1"/>
<path stroke="#c1c23c" d="M0 4.5h1M68 4.5h1M18 5.5h1M38 5.5h2M43 6.5h2M61 7.5h1M76 7.5h1M62 8.5h1M69 8.5h1M45 9.5h1M61 9.5h1M28 10.5h2M44 10.5h1M28 11.5h1M53 11.5h1M34 12.5h1M38 12.5h1M28 13.5h1M67 13.5h1M71 13.5h1M51 14.5h1M43 15.5h1M48 16.5h1M50 16.5h1M55 16.5h1M66 17.5h1M32 18.5h1M35 18.5h1M56 18.5h2M79 18.5h1M28 19.5h2M37 19.5h1M24 20.5h1M35 21.5h1M40 21.5h1M43 21.5h1M29 22.5h1M45 22.5h1M49 22.5h1M74 22.5h1M28 23.5h1M40 23.5h1M55 24.5h1M57 24.5h1M61 24.5h2M71 24.5h1M25 25.5h1M42 25.5h1M33 27.5h1M15 29.5h1M25 29.5h1M40 29.5h1M44 29.5h1M43 30.5h2M47 30.5h2M22 31.5h1M31 31.5h1M39 32.5h1M53 32.5h2M61 32.5h1M32 33.5h1M27 34.5h1M44 34.5h1M61 34.5h1M72 34.5h1M24 35.5h1M53 35.5h1M63 35.5h2M67 35.5h1M31 38.5h2M31 39.5h1M38 40.5h1M40 40.5h1M42 40.5h1M35 41.5h2M33 42.5h1M30 43.5h1M46 43.5h2M68 43.5h1M27 44.5h1M41 44.5h1M43 44.5h2M40 45.5h1M37 48.5h1M39 48.5h1M60 48.5h4M76 48.5h1M24 49.5h1M43 50.5h1M49 50.5h1M33 53.5h1M35 53.5h1M46 53.5h1M55 53.5h1M29 55.5h1M32 55.5h1M29 56.5h1M33 56.5h1M55 56.5h1M65 56.5h1M29 57.5h1M32 57.5h1M43 57.5h1M58 57.5h2M69 57.5h1M47 59.5h2M71 59.5h1M33 63.5h1M77 63.5h1M37 65.5h1M46 67.5h2M49 67.5h1M33 68.5h1M49 69.5h2M35 70.5h3M33 71.5h1M26 72.5h2M29 72.5h1M32 73.5h1M34 73.5h1M40 73.5h2M47 74.5h2M54 74.5h2M35 75.5h1M27 81.5h1M39 81.5h2M44 81.5h2M26 84.5h1M28 84.5h1M30 84.5h1M29 85.5h1M77 85.5h1M27 86.5h1M37 87.5h2M25 94.5h1M32 99.5h2M38 103.5h1M31 155.5h1"/>
<path stroke="#d2be36" d="M55 7.5h1M60 7.5h1M79 7.5h1M47 8.5h1M49 8.5h2M68 8.5h1M76 8.5h1M53 9.5h1M72 9.5h2M7 10.5h1M41 10.5h2M68 13.5h1M70 13.5h1M72 13.5h2M76 13.5h1M79 13.5h1M29 14.5h1M52 14.5h2M41 15.5h1M44 15.5h1M77 15.5h3M46 16.5h1M49 16.5h1M52 16.5h1M27 17.5h2M52 17.5h1M31 18.5h1M60 18.5h1M62 18.5h1M35 19.5h1M37 21.5h1M32 22.5h1M36 22.5h1M40 22.5h1M46 22.5h1M66 22.5h1M48 24.5h2M58 24.5h1M33 26.5h1M38 29.5h2M24 30.5h1M42 30.5h1M45 30.5h2M49 30.5h1M24 31.5h1M40 31.5h1M43 31.5h1M35 32.5h1M60 33.5h1M24 34.5h1M30 34.5h1M60 34.5h1M31 35.5h2M34 35.5h1M60 35.5h3M66 35.5h1M30 37.5h1M27 40.5h1M41 40.5h1M43 40.5h1M9 43.5h1M29 43.5h1M40 43.5h1M42 43.5h1M44 43.5h1M71 43.5h1M46 44.5h2M36 45.5h1M49 47.5h1M70 47.5h2M40 48.5h2M41 50.5h2M45 50.5h1M30 53.5h1M31 56.5h1M38 57.5h1M55 57.5h1M57 57.5h1M29 62.5h1M36 65.5h1M35 67.5h1M42 67.5h1M53 67.5h1M40 68.5h1M43 68.5h1M45 69.5h2M48 69.5h1M30 72.5h1M33 72.5h2M33 73.5h1M39 73.5h1M45 74.5h2M37 75.5h1M38 81.5h1M29 84.5h1M32 85.5h2M29 86.5h1M31 86.5h2M28 87.5h1M28 94.5h1M28 99.5h1M29 103.5h1M37 103.5h1"/>
<path stroke="#e1bc33" d="M30 6.5h1M45 7.5h1M64 7.5h1M30 8.5h2M58 8.5h1M67 8.5h1M77 8.5h1M46 9.5h2M59 9.5h2M10 10.5h1M56 11.5h1M33 12.5h1M29 13.5h1M69 13.5h1M77 13.5h2M50 14.5h1M28 15.5h1M40 15.5h1M39 16.5h1M47 16.5h1M73 17.5h1M39 18.5h1M59 18.5h1M61 18.5h1M30 19.5h1M34 21.5h1M31 23.5h1M36 23.5h1M38 23.5h1M41 24.5h1M60 24.5h1M41 25.5h1M34 28.5h1M41 29.5h1M29 32.5h1M34 32.5h1M37 32.5h2M43 32.5h1M56 32.5h2M59 32.5h2M48 33.5h1M50 33.5h1M55 33.5h2M31 34.5h1M45 34.5h1M57 34.5h1M59 34.5h1M26 35.5h1M59 35.5h1M28 38.5h1M39 38.5h1M25 41.5h2M24 42.5h1M37 43.5h1M39 43.5h1M45 43.5h1M72 43.5h1M28 44.5h1M42 44.5h1M45 44.5h1M54 44.5h1M27 45.5h1M33 45.5h3M41 45.5h1M43 45.5h1M46 45.5h1M47 47.5h2M26 48.5h1M77 48.5h1M37 49.5h1M36 53.5h1M41 53.5h1M43 53.5h1M48 53.5h1M31 55.5h1M35 57.5h1M61 57.5h1M34 67.5h1M41 67.5h1M39 68.5h1M41 68.5h1M30 69.5h1M47 69.5h1M30 70.5h1M28 72.5h1M31 72.5h1M37 73.5h1M37 81.5h1M27 84.5h1M30 85.5h1M30 86.5h1M35 87.5h1M29 94.5h1M29 99.5h1M31 99.5h1M30 103.5h1M35 103.5h2"/>
<path stroke="#eabd35" d="M31 6.5h2M48 7.5h1M70 7.5h1M45 8.5h1M48 8.5h1M57 8.5h1M30 9.5h1M49 9.5h1M57 9.5h1M43 10.5h1M35 11.5h2M50 11.5h2M30 13.5h1M59 13.5h1M63 13.5h1M74 13.5h2M49 14.5h1M42 15.5h1M42 17.5h1M56 17.5h1M67 17.5h1M36 19.5h1M36 21.5h1M31 22.5h1M38 22.5h1M42 22.5h3M72 22.5h2M29 23.5h1M32 23.5h1M42 24.5h1M47 24.5h1M27 25.5h1M30 26.5h3M26 29.5h1M42 29.5h1M39 30.5h3M36 32.5h1M40 32.5h1M55 32.5h1M33 33.5h2M49 33.5h1M26 34.5h1M29 34.5h1M38 34.5h4M48 34.5h1M50 34.5h1M56 34.5h1M25 35.5h1M49 35.5h1M51 35.5h1M30 38.5h1M28 39.5h1M30 39.5h1M34 41.5h1M38 43.5h1M40 44.5h1M28 45.5h1M32 45.5h1M39 45.5h1M42 45.5h1M44 45.5h2M47 45.5h1M71 48.5h1M25 49.5h1M24 50.5h1M44 50.5h1M47 50.5h2M37 57.5h1M30 62.5h1M35 62.5h1M32 67.5h1M39 67.5h1M44 69.5h1M31 70.5h2M34 70.5h1M38 73.5h1M28 81.5h1M36 81.5h1M31 85.5h1M33 87.5h2M26 94.5h2M34 103.5h1"/>
<path stroke="#f4bd38" d="M30 7.5h1M42 7.5h1M56 7.5h1M54 8.5h1M56 8.5h1M71 8.5h1M48 9.5h1M58 9.5h1M30 10.5h1M29 11.5h1M57 13.5h2M61 13.5h2M64 13.5h1M66 13.5h1M48 14.5h1M30 16.5h1M37 16.5h1M48 17.5h1M32 19.5h1M41 22.5h1M35 23.5h1M44 24.5h1M50 24.5h1M54 24.5h1M59 24.5h1M40 25.5h1M35 28.5h2M38 30.5h1M33 32.5h1M45 33.5h1M47 33.5h1M43 34.5h1M52 34.5h2M28 35.5h1M52 35.5h1M29 39.5h1M28 41.5h1M34 43.5h1M36 43.5h1M29 44.5h1M32 44.5h3M36 44.5h1M37 45.5h2M42 48.5h1M35 49.5h2M25 50.5h1M39 50.5h2M46 50.5h1M32 53.5h1M44 53.5h2M30 55.5h1M31 62.5h1M40 67.5h1M38 68.5h1M42 68.5h1M31 69.5h1M40 69.5h2M43 69.5h1M29 81.5h1M35 81.5h1M32 87.5h1M30 99.5h1M32 103.5h1"/>
<path stroke="#fcbf3a" d="M46 7.5h1M57 7.5h1M63 7.5h1M69 7.5h1M32 8.5h1M75 8.5h1M43 9.5h2M54 9.5h1M56 9.5h1M70 9.5h2M56 13.5h1M60 13.5h1M65 13.5h1M30 14.5h1M39 15.5h1M29 16.5h1M38 16.5h1M29 17.5h2M51 17.5h1M61 17.5h1M68 17.5h1M72 17.5h1M31 19.5h1M34 19.5h1M33 22.5h1M33 23.5h1M37 23.5h1M27 24.5h1M40 24.5h1M52 24.5h1M37 28.5h1M25 30.5h1M30 31.5h1M37 33.5h1M46 33.5h1M42 34.5h1M47 34.5h1M54 34.5h1M37 40.5h1M29 41.5h1M25 42.5h2M35 43.5h1M31 44.5h1M35 44.5h1M39 44.5h1M31 45.5h1M30 48.5h1M26 49.5h1M33 49.5h1M42 53.5h1M32 62.5h3M33 67.5h1M36 68.5h2M39 69.5h1M42 69.5h1M33 70.5h1M31 103.5h1M33 103.5h1"/>
<path stroke="#fcca35" d="M33 6.5h1M31 7.5h1M62 7.5h1M67 7.5h2M43 8.5h1M52 8.5h2M50 9.5h3M39 10.5h1M34 11.5h1M37 11.5h1M28 12.5h1M52 13.5h2M47 14.5h1M37 15.5h1M41 17.5h1M44 17.5h1M71 17.5h1M79 17.5h1M27 21.5h1M30 22.5h1M34 23.5h1M32 24.5h1M43 24.5h1M51 24.5h1M53 24.5h1M27 28.5h1M28 29.5h1M30 29.5h1M36 29.5h1M38 33.5h1M32 34.5h1M34 34.5h2M46 34.5h1M49 34.5h1M51 34.5h1M29 35.5h1M36 35.5h1M28 40.5h1M36 40.5h1M33 41.5h1M32 42.5h1M38 44.5h1M29 45.5h1M34 49.5h1M35 50.5h1M37 50.5h2M33 57.5h2M36 67.5h1M38 69.5h1M33 81.5h2"/>
<path stroke="#fbd430" d="M41 7.5h1M47 7.5h1M65 7.5h2M44 8.5h1M51 8.5h1M74 8.5h1M55 9.5h1M30 12.5h1M32 12.5h1M51 13.5h1M55 13.5h1M45 14.5h2M36 15.5h1M45 17.5h1M47 17.5h1M49 17.5h2M57 17.5h1M70 17.5h1M74 17.5h2M78 17.5h1M33 19.5h1M33 21.5h1M45 24.5h2M28 25.5h1M38 25.5h1M33 28.5h1M27 29.5h1M29 29.5h1M34 29.5h1M26 30.5h1M31 32.5h1M36 33.5h1M25 34.5h1M33 34.5h1M37 34.5h1M30 35.5h1M35 40.5h1M27 42.5h1M37 44.5h1M32 49.5h1M31 53.5h1M34 53.5h1M36 57.5h1M37 67.5h2M32 69.5h1M34 69.5h1M37 69.5h1M30 81.5h1M31 87.5h1"/>
<path stroke="#fbdf2a" d="M32 7.5h1M46 8.5h1M55 8.5h1M40 9.5h1M31 10.5h1M40 10.5h1M32 11.5h1M29 12.5h1M31 12.5h1M31 13.5h1M50 13.5h1M54 13.5h1M41 14.5h2M44 14.5h1M35 15.5h1M69 17.5h1M39 24.5h1M29 25.5h1M37 25.5h1M39 25.5h1M31 29.5h1M35 29.5h1M37 29.5h1M36 34.5h1M55 34.5h1M35 35.5h1M30 41.5h1M32 41.5h1M30 44.5h1M29 48.5h1M30 49.5h2M26 50.5h1M36 50.5h1M35 69.5h2M29 87.5h1"/>
<path stroke="#faea22" d="M72 8.5h2M37 9.5h1M41 9.5h1M38 10.5h1M31 11.5h1M48 13.5h1M43 14.5h1M30 15.5h1M38 15.5h1M35 16.5h2M40 17.5h1M43 17.5h1M46 17.5h1M76 17.5h2M28 24.5h1M30 24.5h2M31 25.5h1M32 28.5h1M33 29.5h1M27 30.5h2M30 32.5h1M32 32.5h1M35 33.5h1M29 40.5h1M34 40.5h1M30 42.5h2M27 48.5h1M27 49.5h1M29 49.5h1M33 69.5h1M31 81.5h1"/>
<path stroke="#f9f519" d="M30 0.5h4M30 1.5h4M30 2.5h4M30 3.5h4M30 4.5h4M30 5.5h4M33 7.5h8M43 7.5h2M33 8.5h10M31 9.5h6M38 9.5h2M42 9.5h1M32 10.5h6M30 11.5h1M33 11.5h1M32 13.5h16M49 13.5h1M31 14.5h10M29 15.5h1M31 15.5h4M31 16.5h4M31 17.5h9M58 17.5h3M28 21.5h5M29 24.5h1M33 24.5h6M30 25.5h1M32 25.5h5M28 28.5h4M32 29.5h1M29 30.5h9M30 40.5h4M31 41.5h1M28 42.5h2M30 45.5h1M28 48.5h1M28 49.5h1M27 50.5h8M32 81.5h1M30 87.5h1"/>
</g></g></g>
<path d="M1069.0 53.2L1069.0 327.9" stroke="#000" stroke-width="2.15" fill="none" />
<path d="M1068.0 326.9L1434.8 326.9" stroke="#000" stroke-width="2.15" fill="none" />
<path d="M1054.1 125.8L1069.0 125.8" stroke="#000" stroke-width="2.15" fill="none" />
<path d="M1054.1 197.9L1069.0 197.9" stroke="#000" stroke-width="2.15" fill="none" />
<path d="M1054.1 270.0L1069.0 270.0" stroke="#000" stroke-width="2.15" fill="none" />
<path d="M1069.6 326.9L1069.6 342.9" stroke="#000" stroke-width="2.15" fill="none" />
<path d="M1160.7 326.9L1160.7 342.9" stroke="#000" stroke-width="2.15" fill="none" />
<path d="M1251.7 326.9L1251.7 342.9" stroke="#000" stroke-width="2.15" fill="none" />
<path d="M1342.7 326.9L1342.7 342.9" stroke="#000" stroke-width="2.15" fill="none" />
<path d="M1433.6 326.9L1433.6 342.9" stroke="#000" stroke-width="2.15" fill="none" />
<text x="1048.5" y="136.3" font-size="27" text-anchor="end">100</text>
<text x="1048.5" y="208.4" font-size="27" text-anchor="end">200</text>
<text x="1048.5" y="280.5" font-size="27" text-anchor="end">300</text>
<text x="992.8" y="292.3" font-size="27" textLength="181.8" lengthAdjust="spacingAndGlyphs" transform="rotate(-90 992.8 292.3)">neuron number</text>
<defs><linearGradient id="cb" x1="0" y1="0" x2="0" y2="1"><stop offset="0.00" stop-color="#f9fb15"/><stop offset="0.07" stop-color="#fbdc2d"/><stop offset="0.14" stop-color="#fcbe3a"/><stop offset="0.22" stop-color="#debc32"/><stop offset="0.30" stop-color="#a8c744"/><stop offset="0.37" stop-color="#73cd69"/><stop offset="0.44" stop-color="#40c896"/><stop offset="0.50" stop-color="#26beb2"/><stop offset="0.55" stop-color="#19b5c8"/><stop offset="0.62" stop-color="#1ea5e2"/><stop offset="0.70" stop-color="#2e8ff3"/><stop offset="0.80" stop-color="#4369fc"/><stop offset="0.88" stop-color="#484cec"/><stop offset="0.94" stop-color="#4537cd"/><stop offset="1.00" stop-color="#3e26a8"/></linearGradient></defs>
<rect x="1450.6" y="54.0" width="17.2" height="272.8" fill="url(#cb)" stroke="#262626" stroke-width="2.1"/>
<path d="M1464.6 99.0L1467.4 99.0" stroke="#222" stroke-width="1.0" fill="none" />
<path d="M1464.6 144.9L1467.4 144.9" stroke="#222" stroke-width="1.0" fill="none" />
<path d="M1464.6 190.4L1467.4 190.4" stroke="#222" stroke-width="1.0" fill="none" />
<path d="M1464.6 235.9L1467.4 235.9" stroke="#222" stroke-width="1.0" fill="none" />
<path d="M1464.6 281.5L1467.4 281.5" stroke="#222" stroke-width="1.0" fill="none" />
<text x="1475.8" y="104.9" font-size="23.5" textLength="34.4" lengthAdjust="spacingAndGlyphs">0.4</text>
<text x="1478.1" y="195.0" font-size="23.5" textLength="12.5" lengthAdjust="spacingAndGlyphs">0</text>
<text x="1471.3" y="287.3" font-size="23.5" textLength="42.0" lengthAdjust="spacingAndGlyphs">-0.4</text>
<text x="1516.6" y="237.6" font-size="22.5" textLength="106.3" lengthAdjust="spacingAndGlyphs" transform="rotate(-90 1516.6 237.6)">selectivity</text>
<path d="M1068.6 539.4L1072.9 552.0L1082.4 538.2L1086.7 539.4L1090.5 545.7L1095.5 538.7L1100.5 548.2L1104.2 552.7L1108.5 549.0L1113.0 550.2L1118.0 549.5L1123.0 552.0L1131.1 554.5L1140.6 538.7L1145.6 545.7L1149.4 553.7L1153.1 549.5L1157.7 539.4L1160.7 528.2L1164.4 510.6L1166.9 493.0L1169.4 478.0L1171.9 462.9L1175.7 447.9L1180.7 439.1L1185.7 430.3L1190.8 427.1L1195.8 427.1L1199.5 428.3L1202.8 443.4L1205.8 425.3L1209.6 406.5L1212.8 395.2L1216.6 394.0L1220.8 402.7L1225.4 412.8L1230.1 401.5L1234.6 414.0L1238.4 416.5L1243.4 422.8L1247.2 431.6L1252.2 444.1L1257.2 464.2L1259.7 465.4L1263.5 471.7L1267.2 476.7L1270.5 475.0L1272.2 480.5L1274.8 493.0L1278.5 491.8L1283.5 501.8L1288.5 496.1L1293.6 503.1L1301.1 509.3L1306.6 515.6L1311.1 514.9L1316.1 516.1L1319.9 516.1L1324.4 506.8L1328.7 523.1L1337.4 514.4L1342.5 524.4L1346.7 522.6L1351.7 536.2L1356.2 535.2L1369.3 509.3L1374.3 520.6L1378.8 511.9L1383.3 526.4L1387.6 514.4L1393.9 518.1L1400.1 520.6L1405.6 516.9L1410.2 526.9L1414.7 529.4L1418.9 520.1L1423.5 523.1L1428.5 510.1" stroke="#000" stroke-width="2.15" fill="none" stroke-linejoin="round" />
<path d="M1068.5 379.4L1068.5 560.8" stroke="#000" stroke-width="2.15" fill="none" />
<path d="M1067.7 560.0L1428.5 560.0" stroke="#000" stroke-width="2.15" fill="none" />
<path d="M1054.1 380.2L1068.5 380.2" stroke="#000" stroke-width="2.15" fill="none" />
<path d="M1054.1 424.8L1068.5 424.8" stroke="#000" stroke-width="2.15" fill="none" />
<path d="M1054.1 470.0L1068.5 470.0" stroke="#000" stroke-width="2.15" fill="none" />
<path d="M1054.1 515.1L1068.5 515.1" stroke="#000" stroke-width="2.15" fill="none" />
<path d="M1054.1 560.0L1068.5 560.0" stroke="#000" stroke-width="2.15" fill="none" />
<path d="M1068.5 560.0L1068.5 574.7" stroke="#000" stroke-width="2.15" fill="none" />
<path d="M1158.4 560.0L1158.4 574.7" stroke="#000" stroke-width="2.15" fill="none" />
<path d="M1248.3 560.0L1248.3 574.7" stroke="#000" stroke-width="2.15" fill="none" />
<path d="M1338.1 560.0L1338.1 574.7" stroke="#000" stroke-width="2.15" fill="none" />
<path d="M1427.7 560.0L1427.7 574.7" stroke="#000" stroke-width="2.15" fill="none" />
<text x="1047.2" y="390.5" font-size="27" text-anchor="end">40</text>
<text x="1047.2" y="480.3" font-size="27" text-anchor="end">20</text>
<text x="1047.2" y="570.3" font-size="27" text-anchor="end">0</text>
<text x="1066.6" y="602.5" font-size="27" text-anchor="middle">-1</text>
<text x="1158.7" y="602.5" font-size="27" text-anchor="middle">0</text>
<text x="1248.4" y="602.5" font-size="27" text-anchor="middle">1</text>
<text x="1338.2" y="602.5" font-size="27" text-anchor="middle">2</text>
<text x="1427.7" y="602.5" font-size="27" text-anchor="middle">3</text>
<text x="1132.4" y="630.7" font-size="27" textLength="218.5" lengthAdjust="spacingAndGlyphs">time from laser (s)</text>
<text x="982.7" y="580.4" font-size="27" textLength="226.1" lengthAdjust="spacingAndGlyphs" transform="rotate(-90 982.7 580.4)">% laser-modulated</text>
<text x="1009.0" y="495.9" font-size="27" textLength="56.4" lengthAdjust="spacingAndGlyphs" transform="rotate(-90 1009.0 495.9)">cells</text>
<text x="944.7" y="28.6" font-size="38" font-weight="bold" style="stroke-width:.2px">c</text>
</g>
<g id="panel_d">
<path d="M1684.4 176.3L1692.4 165.0L1698.2 170.1L1702.5 174.3L1707.0 175.1L1711.5 168.1L1720.8 168.1L1724.5 175.1L1729.0 168.1L1734.1 163.8L1742.1 171.3L1747.1 165.5L1750.9 162.0L1755.9 166.3L1762.1 167.1L1765.1 172.6L1769.7 160.0L1774.1 142.7L1777.8 131.4L1781.6 121.0L1785.4 112.6L1788.2 108.3L1791.5 106.0L1795.7 105.8L1800.4 105.1L1803.2 106.0L1807.0 109.3L1809.8 112.1L1813.6 113.7L1816.4 112.6L1821.1 108.3L1823.9 106.5L1826.8 107.4L1830.5 111.6L1834.3 115.9L1838.0 118.2L1841.8 118.7L1844.6 122.0L1847.5 124.8L1854.0 126.7L1857.8 129.5L1860.0 131.6L1864.7 140.1L1869.4 142.0L1873.2 142.7L1877.4 134.9L1881.6 138.2L1886.3 147.6L1890.1 151.9L1895.7 150.0L1899.5 157.0L1904.2 159.9L1912.7 151.9L1917.4 151.9L1922.1 158.0L1926.8 161.3L1931.5 159.4L1936.2 161.3L1944.7 168.8L1953.1 166.9L1957.8 160.8L1962.5 164.1L1967.2 166.9L1973.8 163.2L1980.4 155.2L1986.1 160.3L1989.8 160.8L1994.5 164.1L2000.2 159.4L2007.7 158.0L2012.4 162.2L2018.0 160.8L2025.6 159.9L2035.0 164.6L2039.7 159.9L2044.4 158.4L2044.4 178.4L2039.7 179.9L2035.0 184.6L2025.6 179.9L2018.0 180.8L2012.4 182.2L2007.7 178.0L2000.2 179.4L1994.5 184.1L1989.8 180.8L1986.1 180.3L1980.4 175.2L1973.8 183.2L1967.2 186.9L1962.5 184.1L1957.8 180.8L1953.1 186.9L1944.7 188.8L1936.2 181.3L1931.5 179.4L1926.8 181.3L1922.1 178.0L1917.4 171.9L1912.7 171.9L1904.2 179.9L1899.5 177.0L1895.7 170.0L1890.1 171.9L1886.3 167.6L1881.6 158.2L1877.4 154.9L1873.2 162.7L1869.4 162.0L1864.7 160.1L1860.0 151.6L1857.8 149.5L1854.0 146.7L1847.5 144.8L1844.6 142.0L1841.8 138.7L1838.0 138.2L1834.3 135.9L1830.5 131.6L1826.8 127.4L1823.9 126.5L1821.1 128.3L1816.4 132.6L1813.6 133.7L1809.8 132.1L1807.0 129.3L1803.2 126.0L1800.4 125.1L1795.7 125.8L1791.5 126.0L1788.2 128.3L1785.4 132.6L1781.6 141.0L1777.8 151.4L1774.1 162.7L1769.7 180.0L1765.1 192.6L1762.1 187.1L1755.9 186.3L1750.9 182.0L1747.1 185.5L1742.1 191.3L1734.1 183.8L1729.0 188.1L1724.5 195.1L1720.8 188.1L1711.5 188.1L1707.0 195.1L1702.5 194.3L1698.2 190.1L1692.4 185.0L1684.4 196.3Z" stroke="none" stroke-width="0" fill="#d0d0d0" stroke-linejoin="round" />
<path d="M1684.7 143.1L1692.2 142.5L1700.7 142.3L1708.2 142.5L1716.7 141.1L1724.2 143.3L1732.7 142.8L1741.1 142.8L1748.7 141.9L1757.1 141.6L1764.7 143.5L1769.4 140.5L1776.9 140.5L1783.5 136.2L1791.0 132.5L1798.5 132.2L1807.0 131.5L1813.6 134.8L1818.3 131.0L1823.0 133.1L1827.7 131.5L1832.4 134.8L1841.8 134.8L1851.2 136.2L1858.7 137.6L1860.0 137.9L1868.5 140.2L1876.9 137.4L1884.5 139.8L1892.9 140.7L1901.4 142.1L1908.9 143.0L1917.4 141.4L1927.7 141.8L1936.2 140.2L1944.7 144.3L1952.2 141.8L1959.7 142.1L1968.2 141.6L1976.7 142.6L1984.2 141.6L1992.6 142.4L2001.1 141.8L2010.5 142.1L2019.0 140.9L2027.5 141.4L2035.9 142.1L2043.4 141.8" stroke="#e81ce8" stroke-width="2.1" fill="none" stroke-linejoin="round" stroke-dasharray="4.3 3.8"/>
<path d="M1684.4 186.3L1692.4 175.0L1698.2 180.1L1702.5 184.3L1707.0 185.1L1711.5 178.1L1720.8 178.1L1724.5 185.1L1729.0 178.1L1734.1 173.8L1742.1 181.3L1747.1 175.5L1750.9 172.0L1755.9 176.3L1762.1 177.1L1765.1 182.6L1769.7 170.0L1774.1 152.7L1777.8 141.4L1781.6 131.0L1785.4 122.6L1788.2 118.3L1791.5 116.0L1795.7 115.8L1800.4 115.1L1803.2 116.0L1807.0 119.3L1809.8 122.1L1813.6 123.7L1816.4 122.6L1821.1 118.3L1823.9 116.5L1826.8 117.4L1830.5 121.6L1834.3 125.9L1838.0 128.2L1841.8 128.7L1844.6 132.0L1847.5 134.8L1854.0 136.7L1857.8 139.5L1860.0 141.6L1864.7 150.1L1869.4 152.0L1873.2 152.7L1877.4 144.9L1881.6 148.2L1886.3 157.6L1890.1 161.9L1895.7 160.0L1899.5 167.0L1904.2 169.9L1912.7 161.9L1917.4 161.9L1922.1 168.0L1926.8 171.3L1931.5 169.4L1936.2 171.3L1944.7 178.8L1953.1 176.9L1957.8 170.8L1962.5 174.1L1967.2 176.9L1973.8 173.2L1980.4 165.2L1986.1 170.3L1989.8 170.8L1994.5 174.1L2000.2 169.4L2007.7 168.0L2012.4 172.2L2018.0 170.8L2025.6 169.9L2035.0 174.6L2039.7 169.9L2044.4 168.4" stroke="#000" stroke-width="2.15" fill="none" stroke-linejoin="round" />
<path d="M1684.1 86.2L1684.1 268.1" stroke="#000" stroke-width="2.15" fill="none" />
<path d="M1683.3 267.1L2045.0 267.1" stroke="#000" stroke-width="2.15" fill="none" />
<path d="M1669.2 87.2L1684.1 87.2" stroke="#000" stroke-width="2.15" fill="none" />
<path d="M1669.2 131.9L1684.1 131.9" stroke="#000" stroke-width="2.15" fill="none" />
<path d="M1669.2 177.0L1684.1 177.0" stroke="#000" stroke-width="2.15" fill="none" />
<path d="M1669.2 222.0L1684.1 222.0" stroke="#000" stroke-width="2.15" fill="none" />
<path d="M1669.2 267.1L1684.1 267.1" stroke="#000" stroke-width="2.15" fill="none" />
<path d="M1684.4 267.3L1684.4 281.5" stroke="#000" stroke-width="2.15" fill="none" />
<path d="M1774.2 267.3L1774.2 281.5" stroke="#000" stroke-width="2.15" fill="none" />
<path d="M1864.2 267.3L1864.2 281.5" stroke="#000" stroke-width="2.15" fill="none" />
<path d="M1954.0 267.3L1954.0 281.5" stroke="#000" stroke-width="2.15" fill="none" />
<path d="M2044.2 267.3L2044.2 281.5" stroke="#000" stroke-width="2.15" fill="none" />
<text x="1665.3" y="93.9" font-size="27" text-anchor="end">100</text>
<text x="1665.3" y="138.5" font-size="27" text-anchor="end">75</text>
<text x="1665.3" y="184.0" font-size="27" text-anchor="end">50</text>
<text x="1665.3" y="228.3" font-size="27" text-anchor="end">25</text>
<text x="1663.1" y="274.2" font-size="27" text-anchor="end">0</text>
<text x="1682.5" y="306.6" font-size="27" text-anchor="middle">-1</text>
<text x="1774.2" y="306.6" font-size="27" text-anchor="middle">0</text>
<text x="1864.2" y="306.6" font-size="27" text-anchor="middle">1</text>
<text x="1954.0" y="306.6" font-size="27" text-anchor="middle">2</text>
<text x="2044.2" y="306.6" font-size="27" text-anchor="middle">3</text>
<text x="1748.1" y="336.5" font-size="27" textLength="218.8" lengthAdjust="spacingAndGlyphs">time from laser (s)</text>
<text x="1612.6" y="315.5" font-size="27" textLength="264.1" lengthAdjust="spacingAndGlyphs" transform="rotate(-90 1612.6 315.5)">decoder accuracy (%)</text>
<text x="1852.6" y="112.2" font-size="27" textLength="192.5" lengthAdjust="spacingAndGlyphs" style="fill:#e81ce8;stroke:#e81ce8">95% CI shuffled</text>
<path d="M1683.4 379.9L1683.4 561.4" stroke="#000" stroke-width="2.15" fill="none" />
<path d="M1682.6 560.6L2045.0 560.6" stroke="#000" stroke-width="2.15" fill="none" />
<path d="M1668.3 380.6L1683.4 380.6" stroke="#000" stroke-width="2.15" fill="none" />
<text x="1665.8" y="391.7" font-size="27" text-anchor="end">100</text>
<path d="M1668.3 416.6L1683.4 416.6" stroke="#000" stroke-width="2.15" fill="none" />
<text x="1665.8" y="427.7" font-size="27" text-anchor="end">90</text>
<path d="M1668.3 452.6L1683.4 452.6" stroke="#000" stroke-width="2.15" fill="none" />
<text x="1665.8" y="463.7" font-size="27" text-anchor="end">80</text>
<path d="M1668.3 488.6L1683.4 488.6" stroke="#000" stroke-width="2.15" fill="none" />
<text x="1665.8" y="499.7" font-size="27" text-anchor="end">70</text>
<path d="M1668.3 524.6L1683.4 524.6" stroke="#000" stroke-width="2.15" fill="none" />
<text x="1665.8" y="534.8" font-size="27" text-anchor="end">60</text>
<path d="M1668.3 560.6L1683.4 560.6" stroke="#000" stroke-width="2.15" fill="none" />
<text x="1665.8" y="570.8" font-size="27" text-anchor="end">50</text>
<path d="M1683.4 560.6L1683.4 575.3" stroke="#000" stroke-width="2.15" fill="none" />
<path d="M1743.4 560.6L1743.4 575.3" stroke="#000" stroke-width="2.15" fill="none" />
<path d="M1803.5 560.6L1803.5 575.3" stroke="#000" stroke-width="2.15" fill="none" />
<path d="M1863.5 560.6L1863.5 575.3" stroke="#000" stroke-width="2.15" fill="none" />
<path d="M1923.5 560.6L1923.5 575.3" stroke="#000" stroke-width="2.15" fill="none" />
<path d="M1983.5 560.6L1983.5 575.3" stroke="#000" stroke-width="2.15" fill="none" />
<path d="M2043.6 560.6L2043.6 575.3" stroke="#000" stroke-width="2.15" fill="none" />
<text x="1683.8" y="602.0" font-size="27" text-anchor="middle">0</text>
<text x="1803.6" y="602.0" font-size="27" text-anchor="middle">100</text>
<text x="1923.8" y="602.0" font-size="27" text-anchor="middle">200</text>
<text x="2043.8" y="602.0" font-size="27" text-anchor="middle">300</text>
<path d="M1689.9 468.4L1689.9 517.6" stroke="#000" stroke-width="2.15" fill="none" />
<path d="M1684.6 468.4L1695.2 468.4" stroke="#000" stroke-width="2.15" fill="none" />
<path d="M1684.6 517.6L1695.2 517.6" stroke="#000" stroke-width="2.15" fill="none" />
<circle cx="1689.9" cy="493.5" r="6.9" fill="#000"/>
<path d="M1713.7 430.3L1713.7 461.7" stroke="#000" stroke-width="2.15" fill="none" />
<path d="M1708.4 430.3L1719.0 430.3" stroke="#000" stroke-width="2.15" fill="none" />
<path d="M1708.4 461.7L1719.0 461.7" stroke="#000" stroke-width="2.15" fill="none" />
<circle cx="1713.7" cy="445.9" r="6.9" fill="#000"/>
<path d="M1743.3 409.0L1743.3 437.4" stroke="#000" stroke-width="2.15" fill="none" />
<path d="M1738.0 409.0L1748.6 409.0" stroke="#000" stroke-width="2.15" fill="none" />
<path d="M1738.0 437.4L1748.6 437.4" stroke="#000" stroke-width="2.15" fill="none" />
<circle cx="1743.3" cy="423.6" r="6.9" fill="#000"/>
<path d="M1803.5 397.7L1803.5 415.3" stroke="#000" stroke-width="2.15" fill="none" />
<path d="M1798.2 397.7L1808.8 397.7" stroke="#000" stroke-width="2.15" fill="none" />
<path d="M1798.2 415.3L1808.8 415.3" stroke="#000" stroke-width="2.15" fill="none" />
<circle cx="1803.5" cy="407.0" r="6.9" fill="#000"/>
<path d="M1863.7 390.2L1863.7 404.5" stroke="#000" stroke-width="2.15" fill="none" />
<path d="M1858.4 390.2L1869.0 390.2" stroke="#000" stroke-width="2.15" fill="none" />
<path d="M1858.4 404.5L1869.0 404.5" stroke="#000" stroke-width="2.15" fill="none" />
<circle cx="1863.7" cy="397.2" r="6.9" fill="#000"/>
<path d="M1923.4 386.3L1923.4 398.1" stroke="#000" stroke-width="2.15" fill="none" />
<path d="M1918.1 386.3L1928.7 386.3" stroke="#000" stroke-width="2.15" fill="none" />
<path d="M1918.1 398.1L1928.7 398.1" stroke="#000" stroke-width="2.15" fill="none" />
<circle cx="1923.4" cy="392.2" r="6.9" fill="#000"/>
<path d="M1983.6 382.5L1983.6 393.9" stroke="#000" stroke-width="2.15" fill="none" />
<path d="M1978.3 382.5L1988.9 382.5" stroke="#000" stroke-width="2.15" fill="none" />
<path d="M1978.3 393.9L1988.9 393.9" stroke="#000" stroke-width="2.15" fill="none" />
<circle cx="1983.6" cy="388.2" r="6.9" fill="#000"/>
<circle cx="2043.5" cy="386.0" r="6.9" fill="#000"/>
<text x="1685.3" y="631.0" font-size="27" textLength="361.6" lengthAdjust="spacingAndGlyphs">number of neurons in decoder</text>
<text x="1591.2" y="552.5" font-size="27" textLength="158.0" lengthAdjust="spacingAndGlyphs" transform="rotate(-90 1591.2 552.5)">max decoder</text>
<text x="1618.5" y="551.1" font-size="27" textLength="159.7" lengthAdjust="spacingAndGlyphs" transform="rotate(-90 1618.5 551.1)">accuracy (%)</text>
<text x="1541.6" y="28.5" font-size="38" font-weight="bold" style="stroke-width:.2px">d</text>
</g>
</svg>
</body>
</html>
